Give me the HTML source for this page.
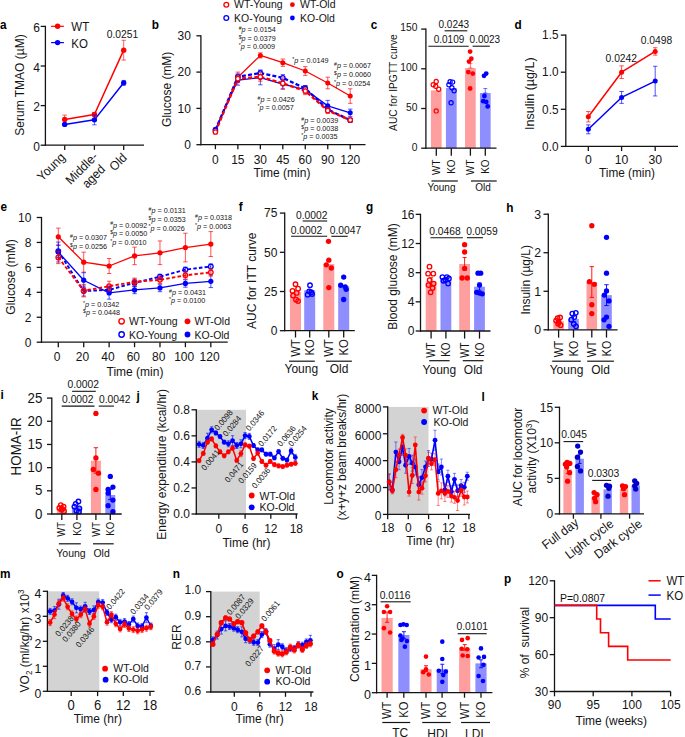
<!DOCTYPE html>
<html><head><meta charset="utf-8"><style>
html,body{margin:0;padding:0;background:#fff;width:685px;height:737px;overflow:hidden;position:relative}
svg text{font-family:"Liberation Sans", sans-serif}
</style></head><body>
<svg width="685" height="737" viewBox="0 0 685 737" style="display:block;position:absolute;left:0;top:0">
<g font-family='"Liberation Sans", sans-serif'>
<text transform="translate(0.00 28.80) scale(1.000 1.060)" font-size="11.8" text-anchor="start" fill="#000" font-weight="bold">a</text>
<line x1="45.40" y1="25.80" x2="45.40" y2="145.80" stroke="#141414" stroke-width="1.3"/>
<line x1="40.70" y1="145.20" x2="45.40" y2="145.20" stroke="#141414" stroke-width="1.3"/>
<text transform="translate(39.90 150.80) scale(1.000 1.060)" font-size="12" text-anchor="end" fill="#141414">0</text>
<line x1="40.70" y1="105.60" x2="45.40" y2="105.60" stroke="#141414" stroke-width="1.3"/>
<text transform="translate(39.90 111.20) scale(1.000 1.060)" font-size="12" text-anchor="end" fill="#141414">2</text>
<line x1="40.70" y1="66.00" x2="45.40" y2="66.00" stroke="#141414" stroke-width="1.3"/>
<text transform="translate(39.90 71.60) scale(1.000 1.060)" font-size="12" text-anchor="end" fill="#141414">4</text>
<line x1="40.70" y1="26.40" x2="45.40" y2="26.40" stroke="#141414" stroke-width="1.3"/>
<text transform="translate(39.90 32.00) scale(1.000 1.060)" font-size="12" text-anchor="end" fill="#141414">6</text>
<line x1="44.80" y1="145.20" x2="144.00" y2="145.20" stroke="#141414" stroke-width="1.3"/>
<line x1="64.70" y1="145.20" x2="64.70" y2="149.90" stroke="#141414" stroke-width="1.3"/>
<line x1="94.40" y1="145.20" x2="94.40" y2="149.90" stroke="#141414" stroke-width="1.3"/>
<line x1="123.70" y1="145.20" x2="123.70" y2="149.90" stroke="#141414" stroke-width="1.3"/>
<text transform="translate(23.50 85.00) rotate(-90) scale(1.000 1.060)" font-size="12" text-anchor="middle" fill="#141414">Serum TMAO (µM)</text>
<text transform="translate(66.00 158.00) rotate(-45) scale(1.000 1.060)" font-size="12" text-anchor="end" fill="#141414">Young</text>
<text transform="translate(98.50 157.50) rotate(-45) scale(1.000 1.060)" font-size="12" text-anchor="end" fill="#141414">Middle-</text>
<text transform="translate(106.00 170.00) rotate(-45) scale(1.000 1.060)" font-size="12" text-anchor="end" fill="#141414">aged</text>
<text transform="translate(127.80 158.50) rotate(-45) scale(1.000 1.060)" font-size="12" text-anchor="end" fill="#141414">Old</text>
<line x1="51.10" y1="26.30" x2="63.90" y2="26.30" stroke="#ff0000" stroke-width="1.2"/>
<circle cx="57.60" cy="26.30" r="2.7" fill="#ff0000"/>
<text transform="translate(71.30 31.00) scale(1.000 1.060)" font-size="11.5" text-anchor="start" fill="#141414">WT</text>
<line x1="51.10" y1="42.60" x2="63.90" y2="42.60" stroke="#0000ff" stroke-width="1.2"/>
<circle cx="57.60" cy="42.60" r="2.7" fill="#0000ff"/>
<text transform="translate(71.30 48.00) scale(1.000 1.060)" font-size="11.5" text-anchor="start" fill="#141414">KO</text>
<polyline points="64.70,119.46 94.40,114.51 123.70,50.16" fill="none" stroke="#ff0000" stroke-width="1.5" stroke-linejoin="round"/>
<polyline points="64.70,124.41 94.40,119.86 123.70,82.83" fill="none" stroke="#0000ff" stroke-width="1.5" stroke-linejoin="round"/>
<line x1="64.70" y1="123.82" x2="64.70" y2="115.10" stroke="#ff0000" stroke-width="0.9" stroke-opacity="0.7"/>
<line x1="62.50" y1="123.82" x2="66.90" y2="123.82" stroke="#ff0000" stroke-width="0.9" stroke-opacity="0.7"/>
<line x1="62.50" y1="115.10" x2="66.90" y2="115.10" stroke="#ff0000" stroke-width="0.9" stroke-opacity="0.7"/>
<circle cx="64.70" cy="119.46" r="2.7" fill="#ff0000"/>
<line x1="94.40" y1="116.49" x2="94.40" y2="112.53" stroke="#ff0000" stroke-width="0.9" stroke-opacity="0.7"/>
<line x1="92.20" y1="116.49" x2="96.60" y2="116.49" stroke="#ff0000" stroke-width="0.9" stroke-opacity="0.7"/>
<line x1="92.20" y1="112.53" x2="96.60" y2="112.53" stroke="#ff0000" stroke-width="0.9" stroke-opacity="0.7"/>
<circle cx="94.40" cy="114.51" r="2.7" fill="#ff0000"/>
<line x1="123.70" y1="60.06" x2="123.70" y2="40.26" stroke="#ff0000" stroke-width="0.9" stroke-opacity="0.7"/>
<line x1="121.50" y1="60.06" x2="125.90" y2="60.06" stroke="#ff0000" stroke-width="0.9" stroke-opacity="0.7"/>
<line x1="121.50" y1="40.26" x2="125.90" y2="40.26" stroke="#ff0000" stroke-width="0.9" stroke-opacity="0.7"/>
<circle cx="123.70" cy="50.16" r="2.7" fill="#ff0000"/>
<line x1="64.70" y1="125.40" x2="64.70" y2="123.42" stroke="#0000ff" stroke-width="0.9" stroke-opacity="0.7"/>
<line x1="62.50" y1="125.40" x2="66.90" y2="125.40" stroke="#0000ff" stroke-width="0.9" stroke-opacity="0.7"/>
<line x1="62.50" y1="123.42" x2="66.90" y2="123.42" stroke="#0000ff" stroke-width="0.9" stroke-opacity="0.7"/>
<circle cx="64.70" cy="124.41" r="2.7" fill="#0000ff"/>
<line x1="94.40" y1="124.81" x2="94.40" y2="114.91" stroke="#0000ff" stroke-width="0.9" stroke-opacity="0.7"/>
<line x1="92.20" y1="124.81" x2="96.60" y2="124.81" stroke="#0000ff" stroke-width="0.9" stroke-opacity="0.7"/>
<line x1="92.20" y1="114.91" x2="96.60" y2="114.91" stroke="#0000ff" stroke-width="0.9" stroke-opacity="0.7"/>
<circle cx="94.40" cy="119.86" r="2.7" fill="#0000ff"/>
<line x1="123.70" y1="85.21" x2="123.70" y2="80.45" stroke="#0000ff" stroke-width="0.9" stroke-opacity="0.7"/>
<line x1="121.50" y1="85.21" x2="125.90" y2="85.21" stroke="#0000ff" stroke-width="0.9" stroke-opacity="0.7"/>
<line x1="121.50" y1="80.45" x2="125.90" y2="80.45" stroke="#0000ff" stroke-width="0.9" stroke-opacity="0.7"/>
<circle cx="123.70" cy="82.83" r="2.7" fill="#0000ff"/>
<text transform="translate(122.50 37.70) scale(1.000 1.060)" font-size="10.3" text-anchor="middle" fill="#141414">0.0251</text>
<text transform="translate(151.70 28.50) scale(1.000 1.060)" font-size="11.8" text-anchor="start" fill="#000" font-weight="bold">b</text>
<line x1="200.90" y1="35.20" x2="200.90" y2="145.30" stroke="#141414" stroke-width="1.3"/>
<line x1="196.40" y1="144.70" x2="200.90" y2="144.70" stroke="#141414" stroke-width="1.3"/>
<text transform="translate(190.90 149.00) scale(1.000 1.060)" font-size="12" text-anchor="end" fill="#141414">0</text>
<line x1="196.40" y1="108.40" x2="200.90" y2="108.40" stroke="#141414" stroke-width="1.3"/>
<text transform="translate(190.90 112.70) scale(1.000 1.060)" font-size="12" text-anchor="end" fill="#141414">10</text>
<line x1="196.40" y1="72.10" x2="200.90" y2="72.10" stroke="#141414" stroke-width="1.3"/>
<text transform="translate(190.90 76.40) scale(1.000 1.060)" font-size="12" text-anchor="end" fill="#141414">20</text>
<line x1="196.40" y1="35.80" x2="200.90" y2="35.80" stroke="#141414" stroke-width="1.3"/>
<text transform="translate(190.90 40.10) scale(1.000 1.060)" font-size="12" text-anchor="end" fill="#141414">30</text>
<line x1="200.30" y1="144.70" x2="365.50" y2="144.70" stroke="#141414" stroke-width="1.3"/>
<line x1="215.40" y1="144.70" x2="215.40" y2="149.20" stroke="#141414" stroke-width="1.3"/>
<line x1="237.87" y1="144.70" x2="237.87" y2="149.20" stroke="#141414" stroke-width="1.3"/>
<line x1="260.34" y1="144.70" x2="260.34" y2="149.20" stroke="#141414" stroke-width="1.3"/>
<line x1="282.81" y1="144.70" x2="282.81" y2="149.20" stroke="#141414" stroke-width="1.3"/>
<line x1="305.28" y1="144.70" x2="305.28" y2="149.20" stroke="#141414" stroke-width="1.3"/>
<line x1="327.75" y1="144.70" x2="327.75" y2="149.20" stroke="#141414" stroke-width="1.3"/>
<line x1="350.22" y1="144.70" x2="350.22" y2="149.20" stroke="#141414" stroke-width="1.3"/>
<text transform="translate(215.40 163.50) scale(1.000 1.060)" font-size="12" text-anchor="middle" fill="#141414">0</text>
<text transform="translate(237.87 163.50) scale(1.000 1.060)" font-size="12" text-anchor="middle" fill="#141414">15</text>
<text transform="translate(260.34 163.50) scale(1.000 1.060)" font-size="12" text-anchor="middle" fill="#141414">30</text>
<text transform="translate(282.81 163.50) scale(1.000 1.060)" font-size="12" text-anchor="middle" fill="#141414">45</text>
<text transform="translate(305.28 163.50) scale(1.000 1.060)" font-size="12" text-anchor="middle" fill="#141414">60</text>
<text transform="translate(327.75 163.50) scale(1.000 1.060)" font-size="12" text-anchor="middle" fill="#141414">90</text>
<text transform="translate(350.22 163.50) scale(1.000 1.060)" font-size="12" text-anchor="middle" fill="#141414">120</text>
<text transform="translate(282.00 177.00) scale(1.000 1.060)" font-size="12" text-anchor="middle" fill="#141414">Time (min)</text>
<text transform="translate(171.00 89.30) rotate(-90) scale(1.000 1.060)" font-size="12" text-anchor="middle" fill="#141414">Glucose (mM)</text>
<circle cx="226.30" cy="4.70" r="2.4" fill="none" stroke="#ff0000" stroke-width="1.3"/>
<text transform="translate(234.00 8.00) scale(1.000 1.060)" font-size="10.5" text-anchor="start" fill="#141414">WT-Young</text>
<circle cx="226.30" cy="18.00" r="2.4" fill="none" stroke="#0000ff" stroke-width="1.3"/>
<text transform="translate(234.00 21.60) scale(1.000 1.060)" font-size="10.5" text-anchor="start" fill="#141414">KO-Young</text>
<circle cx="292.40" cy="4.70" r="2.4" fill="#ff0000"/>
<text transform="translate(300.00 8.00) scale(1.000 1.060)" font-size="10.5" text-anchor="start" fill="#141414">WT-Old</text>
<circle cx="292.40" cy="18.00" r="2.4" fill="#0000ff"/>
<text transform="translate(300.00 21.60) scale(1.000 1.060)" font-size="10.5" text-anchor="start" fill="#141414">KO-Old</text>
<polyline points="215.40,130.54 237.87,77.18 260.34,55.40 282.81,62.66 305.28,71.01 327.75,82.99 350.22,96.06" fill="none" stroke="#ff0000" stroke-width="1.3" stroke-linejoin="round"/>
<polyline points="215.40,129.45 237.87,80.09 260.34,77.54 282.81,84.08 305.28,89.52 327.75,105.86 350.22,112.76" fill="none" stroke="#0000ff" stroke-width="1.3" stroke-linejoin="round"/>
<polyline points="215.40,130.18 237.87,76.82 260.34,73.01 282.81,77.91 305.28,88.43 327.75,109.49 350.22,120.20" fill="none" stroke="#0000ff" stroke-width="2.3" stroke-dasharray="4,2.2" stroke-linejoin="round"/>
<polyline points="215.40,131.99 237.87,78.63 260.34,76.82 282.81,83.35 305.28,90.98 327.75,110.58 350.22,120.02" fill="none" stroke="#ff0000" stroke-width="2.3" stroke-dasharray="4,2.2" stroke-linejoin="round"/>
<line x1="215.40" y1="132.36" x2="215.40" y2="128.73" stroke="#ff0000" stroke-width="0.9" stroke-opacity="0.75"/>
<line x1="213.20" y1="132.36" x2="217.60" y2="132.36" stroke="#ff0000" stroke-width="0.9" stroke-opacity="0.75"/>
<line x1="213.20" y1="128.73" x2="217.60" y2="128.73" stroke="#ff0000" stroke-width="0.9" stroke-opacity="0.75"/>
<circle cx="215.40" cy="130.54" r="2.5" fill="#ff0000"/>
<line x1="237.87" y1="82.26" x2="237.87" y2="72.10" stroke="#ff0000" stroke-width="0.9" stroke-opacity="0.75"/>
<line x1="235.67" y1="82.26" x2="240.07" y2="82.26" stroke="#ff0000" stroke-width="0.9" stroke-opacity="0.75"/>
<line x1="235.67" y1="72.10" x2="240.07" y2="72.10" stroke="#ff0000" stroke-width="0.9" stroke-opacity="0.75"/>
<circle cx="237.87" cy="77.18" r="2.5" fill="#ff0000"/>
<line x1="260.34" y1="57.94" x2="260.34" y2="52.86" stroke="#ff0000" stroke-width="0.9" stroke-opacity="0.75"/>
<line x1="258.14" y1="57.94" x2="262.54" y2="57.94" stroke="#ff0000" stroke-width="0.9" stroke-opacity="0.75"/>
<line x1="258.14" y1="52.86" x2="262.54" y2="52.86" stroke="#ff0000" stroke-width="0.9" stroke-opacity="0.75"/>
<circle cx="260.34" cy="55.40" r="2.5" fill="#ff0000"/>
<line x1="282.81" y1="66.29" x2="282.81" y2="59.03" stroke="#ff0000" stroke-width="0.9" stroke-opacity="0.75"/>
<line x1="280.61" y1="66.29" x2="285.01" y2="66.29" stroke="#ff0000" stroke-width="0.9" stroke-opacity="0.75"/>
<line x1="280.61" y1="59.03" x2="285.01" y2="59.03" stroke="#ff0000" stroke-width="0.9" stroke-opacity="0.75"/>
<circle cx="282.81" cy="62.66" r="2.5" fill="#ff0000"/>
<line x1="305.28" y1="75.37" x2="305.28" y2="66.65" stroke="#ff0000" stroke-width="0.9" stroke-opacity="0.75"/>
<line x1="303.08" y1="75.37" x2="307.48" y2="75.37" stroke="#ff0000" stroke-width="0.9" stroke-opacity="0.75"/>
<line x1="303.08" y1="66.65" x2="307.48" y2="66.65" stroke="#ff0000" stroke-width="0.9" stroke-opacity="0.75"/>
<circle cx="305.28" cy="71.01" r="2.5" fill="#ff0000"/>
<line x1="327.75" y1="88.80" x2="327.75" y2="77.18" stroke="#ff0000" stroke-width="0.9" stroke-opacity="0.75"/>
<line x1="325.55" y1="88.80" x2="329.95" y2="88.80" stroke="#ff0000" stroke-width="0.9" stroke-opacity="0.75"/>
<line x1="325.55" y1="77.18" x2="329.95" y2="77.18" stroke="#ff0000" stroke-width="0.9" stroke-opacity="0.75"/>
<circle cx="327.75" cy="82.99" r="2.5" fill="#ff0000"/>
<line x1="350.22" y1="103.32" x2="350.22" y2="88.80" stroke="#ff0000" stroke-width="0.9" stroke-opacity="0.75"/>
<line x1="348.02" y1="103.32" x2="352.42" y2="103.32" stroke="#ff0000" stroke-width="0.9" stroke-opacity="0.75"/>
<line x1="348.02" y1="88.80" x2="352.42" y2="88.80" stroke="#ff0000" stroke-width="0.9" stroke-opacity="0.75"/>
<circle cx="350.22" cy="96.06" r="2.5" fill="#ff0000"/>
<line x1="215.40" y1="130.91" x2="215.40" y2="128.00" stroke="#0000ff" stroke-width="0.9" stroke-opacity="0.75"/>
<line x1="213.20" y1="130.91" x2="217.60" y2="130.91" stroke="#0000ff" stroke-width="0.9" stroke-opacity="0.75"/>
<line x1="213.20" y1="128.00" x2="217.60" y2="128.00" stroke="#0000ff" stroke-width="0.9" stroke-opacity="0.75"/>
<circle cx="215.40" cy="129.45" r="2.5" fill="#0000ff"/>
<line x1="237.87" y1="85.17" x2="237.87" y2="75.00" stroke="#0000ff" stroke-width="0.9" stroke-opacity="0.75"/>
<line x1="235.67" y1="85.17" x2="240.07" y2="85.17" stroke="#0000ff" stroke-width="0.9" stroke-opacity="0.75"/>
<line x1="235.67" y1="75.00" x2="240.07" y2="75.00" stroke="#0000ff" stroke-width="0.9" stroke-opacity="0.75"/>
<circle cx="237.87" cy="80.09" r="2.5" fill="#0000ff"/>
<line x1="260.34" y1="84.80" x2="260.34" y2="70.28" stroke="#0000ff" stroke-width="0.9" stroke-opacity="0.75"/>
<line x1="258.14" y1="84.80" x2="262.54" y2="84.80" stroke="#0000ff" stroke-width="0.9" stroke-opacity="0.75"/>
<line x1="258.14" y1="70.28" x2="262.54" y2="70.28" stroke="#0000ff" stroke-width="0.9" stroke-opacity="0.75"/>
<circle cx="260.34" cy="77.54" r="2.5" fill="#0000ff"/>
<line x1="282.81" y1="89.16" x2="282.81" y2="79.00" stroke="#0000ff" stroke-width="0.9" stroke-opacity="0.75"/>
<line x1="280.61" y1="89.16" x2="285.01" y2="89.16" stroke="#0000ff" stroke-width="0.9" stroke-opacity="0.75"/>
<line x1="280.61" y1="79.00" x2="285.01" y2="79.00" stroke="#0000ff" stroke-width="0.9" stroke-opacity="0.75"/>
<circle cx="282.81" cy="84.08" r="2.5" fill="#0000ff"/>
<line x1="305.28" y1="93.15" x2="305.28" y2="85.89" stroke="#0000ff" stroke-width="0.9" stroke-opacity="0.75"/>
<line x1="303.08" y1="93.15" x2="307.48" y2="93.15" stroke="#0000ff" stroke-width="0.9" stroke-opacity="0.75"/>
<line x1="303.08" y1="85.89" x2="307.48" y2="85.89" stroke="#0000ff" stroke-width="0.9" stroke-opacity="0.75"/>
<circle cx="305.28" cy="89.52" r="2.5" fill="#0000ff"/>
<line x1="327.75" y1="111.30" x2="327.75" y2="100.41" stroke="#0000ff" stroke-width="0.9" stroke-opacity="0.75"/>
<line x1="325.55" y1="111.30" x2="329.95" y2="111.30" stroke="#0000ff" stroke-width="0.9" stroke-opacity="0.75"/>
<line x1="325.55" y1="100.41" x2="329.95" y2="100.41" stroke="#0000ff" stroke-width="0.9" stroke-opacity="0.75"/>
<circle cx="327.75" cy="105.86" r="2.5" fill="#0000ff"/>
<line x1="350.22" y1="116.39" x2="350.22" y2="109.13" stroke="#0000ff" stroke-width="0.9" stroke-opacity="0.75"/>
<line x1="348.02" y1="116.39" x2="352.42" y2="116.39" stroke="#0000ff" stroke-width="0.9" stroke-opacity="0.75"/>
<line x1="348.02" y1="109.13" x2="352.42" y2="109.13" stroke="#0000ff" stroke-width="0.9" stroke-opacity="0.75"/>
<circle cx="350.22" cy="112.76" r="2.5" fill="#0000ff"/>
<line x1="215.40" y1="131.99" x2="215.40" y2="128.36" stroke="#0000ff" stroke-width="0.9" stroke-opacity="0.75"/>
<line x1="213.20" y1="131.99" x2="217.60" y2="131.99" stroke="#0000ff" stroke-width="0.9" stroke-opacity="0.75"/>
<line x1="213.20" y1="128.36" x2="217.60" y2="128.36" stroke="#0000ff" stroke-width="0.9" stroke-opacity="0.75"/>
<circle cx="215.40" cy="130.18" r="2.2" fill="#fff" stroke="#0000ff" stroke-width="1.3"/>
<line x1="237.87" y1="79.72" x2="237.87" y2="73.91" stroke="#0000ff" stroke-width="0.9" stroke-opacity="0.75"/>
<line x1="235.67" y1="79.72" x2="240.07" y2="79.72" stroke="#0000ff" stroke-width="0.9" stroke-opacity="0.75"/>
<line x1="235.67" y1="73.91" x2="240.07" y2="73.91" stroke="#0000ff" stroke-width="0.9" stroke-opacity="0.75"/>
<circle cx="237.87" cy="76.82" r="2.2" fill="#fff" stroke="#0000ff" stroke-width="1.3"/>
<line x1="260.34" y1="75.91" x2="260.34" y2="70.10" stroke="#0000ff" stroke-width="0.9" stroke-opacity="0.75"/>
<line x1="258.14" y1="75.91" x2="262.54" y2="75.91" stroke="#0000ff" stroke-width="0.9" stroke-opacity="0.75"/>
<line x1="258.14" y1="70.10" x2="262.54" y2="70.10" stroke="#0000ff" stroke-width="0.9" stroke-opacity="0.75"/>
<circle cx="260.34" cy="73.01" r="2.2" fill="#fff" stroke="#0000ff" stroke-width="1.3"/>
<line x1="282.81" y1="81.17" x2="282.81" y2="74.64" stroke="#0000ff" stroke-width="0.9" stroke-opacity="0.75"/>
<line x1="280.61" y1="81.17" x2="285.01" y2="81.17" stroke="#0000ff" stroke-width="0.9" stroke-opacity="0.75"/>
<line x1="280.61" y1="74.64" x2="285.01" y2="74.64" stroke="#0000ff" stroke-width="0.9" stroke-opacity="0.75"/>
<circle cx="282.81" cy="77.91" r="2.2" fill="#fff" stroke="#0000ff" stroke-width="1.3"/>
<line x1="305.28" y1="91.34" x2="305.28" y2="85.53" stroke="#0000ff" stroke-width="0.9" stroke-opacity="0.75"/>
<line x1="303.08" y1="91.34" x2="307.48" y2="91.34" stroke="#0000ff" stroke-width="0.9" stroke-opacity="0.75"/>
<line x1="303.08" y1="85.53" x2="307.48" y2="85.53" stroke="#0000ff" stroke-width="0.9" stroke-opacity="0.75"/>
<circle cx="305.28" cy="88.43" r="2.2" fill="#fff" stroke="#0000ff" stroke-width="1.3"/>
<line x1="327.75" y1="112.39" x2="327.75" y2="106.58" stroke="#0000ff" stroke-width="0.9" stroke-opacity="0.75"/>
<line x1="325.55" y1="112.39" x2="329.95" y2="112.39" stroke="#0000ff" stroke-width="0.9" stroke-opacity="0.75"/>
<line x1="325.55" y1="106.58" x2="329.95" y2="106.58" stroke="#0000ff" stroke-width="0.9" stroke-opacity="0.75"/>
<circle cx="327.75" cy="109.49" r="2.2" fill="#fff" stroke="#0000ff" stroke-width="1.3"/>
<line x1="350.22" y1="122.01" x2="350.22" y2="118.38" stroke="#0000ff" stroke-width="0.9" stroke-opacity="0.75"/>
<line x1="348.02" y1="122.01" x2="352.42" y2="122.01" stroke="#0000ff" stroke-width="0.9" stroke-opacity="0.75"/>
<line x1="348.02" y1="118.38" x2="352.42" y2="118.38" stroke="#0000ff" stroke-width="0.9" stroke-opacity="0.75"/>
<circle cx="350.22" cy="120.20" r="2.2" fill="#fff" stroke="#0000ff" stroke-width="1.3"/>
<line x1="215.40" y1="133.81" x2="215.40" y2="130.18" stroke="#ff0000" stroke-width="0.9" stroke-opacity="0.75"/>
<line x1="213.20" y1="133.81" x2="217.60" y2="133.81" stroke="#ff0000" stroke-width="0.9" stroke-opacity="0.75"/>
<line x1="213.20" y1="130.18" x2="217.60" y2="130.18" stroke="#ff0000" stroke-width="0.9" stroke-opacity="0.75"/>
<circle cx="215.40" cy="131.99" r="2.2" fill="#fff" stroke="#ff0000" stroke-width="1.3"/>
<line x1="237.87" y1="82.26" x2="237.87" y2="75.00" stroke="#ff0000" stroke-width="0.9" stroke-opacity="0.75"/>
<line x1="235.67" y1="82.26" x2="240.07" y2="82.26" stroke="#ff0000" stroke-width="0.9" stroke-opacity="0.75"/>
<line x1="235.67" y1="75.00" x2="240.07" y2="75.00" stroke="#ff0000" stroke-width="0.9" stroke-opacity="0.75"/>
<circle cx="237.87" cy="78.63" r="2.2" fill="#fff" stroke="#ff0000" stroke-width="1.3"/>
<line x1="260.34" y1="81.17" x2="260.34" y2="72.46" stroke="#ff0000" stroke-width="0.9" stroke-opacity="0.75"/>
<line x1="258.14" y1="81.17" x2="262.54" y2="81.17" stroke="#ff0000" stroke-width="0.9" stroke-opacity="0.75"/>
<line x1="258.14" y1="72.46" x2="262.54" y2="72.46" stroke="#ff0000" stroke-width="0.9" stroke-opacity="0.75"/>
<circle cx="260.34" cy="76.82" r="2.2" fill="#fff" stroke="#ff0000" stroke-width="1.3"/>
<line x1="282.81" y1="88.80" x2="282.81" y2="77.91" stroke="#ff0000" stroke-width="0.9" stroke-opacity="0.75"/>
<line x1="280.61" y1="88.80" x2="285.01" y2="88.80" stroke="#ff0000" stroke-width="0.9" stroke-opacity="0.75"/>
<line x1="280.61" y1="77.91" x2="285.01" y2="77.91" stroke="#ff0000" stroke-width="0.9" stroke-opacity="0.75"/>
<circle cx="282.81" cy="83.35" r="2.2" fill="#fff" stroke="#ff0000" stroke-width="1.3"/>
<line x1="305.28" y1="94.61" x2="305.28" y2="87.35" stroke="#ff0000" stroke-width="0.9" stroke-opacity="0.75"/>
<line x1="303.08" y1="94.61" x2="307.48" y2="94.61" stroke="#ff0000" stroke-width="0.9" stroke-opacity="0.75"/>
<line x1="303.08" y1="87.35" x2="307.48" y2="87.35" stroke="#ff0000" stroke-width="0.9" stroke-opacity="0.75"/>
<circle cx="305.28" cy="90.98" r="2.2" fill="#fff" stroke="#ff0000" stroke-width="1.3"/>
<line x1="327.75" y1="113.48" x2="327.75" y2="107.67" stroke="#ff0000" stroke-width="0.9" stroke-opacity="0.75"/>
<line x1="325.55" y1="113.48" x2="329.95" y2="113.48" stroke="#ff0000" stroke-width="0.9" stroke-opacity="0.75"/>
<line x1="325.55" y1="107.67" x2="329.95" y2="107.67" stroke="#ff0000" stroke-width="0.9" stroke-opacity="0.75"/>
<circle cx="327.75" cy="110.58" r="2.2" fill="#fff" stroke="#ff0000" stroke-width="1.3"/>
<line x1="350.22" y1="121.83" x2="350.22" y2="118.20" stroke="#ff0000" stroke-width="0.9" stroke-opacity="0.75"/>
<line x1="348.02" y1="121.83" x2="352.42" y2="121.83" stroke="#ff0000" stroke-width="0.9" stroke-opacity="0.75"/>
<line x1="348.02" y1="118.20" x2="352.42" y2="118.20" stroke="#ff0000" stroke-width="0.9" stroke-opacity="0.75"/>
<circle cx="350.22" cy="120.02" r="2.2" fill="#fff" stroke="#ff0000" stroke-width="1.3"/>
<text x="238.70" y="32.40" font-size="7.2" fill="#141414"><tspan font-size="5.18" dy="-2.2">#</tspan><tspan dy="2.2" font-style="italic">p</tspan> = 0.0154</text>
<text x="238.70" y="40.80" font-size="7.2" fill="#141414"><tspan font-size="5.18" dy="-2.2">$</tspan><tspan dy="2.2" font-style="italic">p</tspan> = 0.0379</text>
<text x="238.70" y="49.30" font-size="7.2" fill="#141414"><tspan font-size="5.18" dy="-2.2">*</tspan><tspan dy="2.2" font-style="italic">p</tspan> = 0.0009</text>
<text x="292.30" y="63.10" font-size="7.2" fill="#141414"><tspan font-size="5.18" dy="-2.2">*</tspan><tspan dy="2.2" font-style="italic">p</tspan> = 0.0149</text>
<text x="334.00" y="68.30" font-size="7.2" fill="#141414"><tspan font-size="5.18" dy="-2.2">#</tspan><tspan dy="2.2" font-style="italic">p</tspan> = 0.0067</text>
<text x="334.00" y="77.10" font-size="7.2" fill="#141414"><tspan font-size="5.18" dy="-2.2">$</tspan><tspan dy="2.2" font-style="italic">p</tspan> = 0.0060</text>
<text x="334.00" y="85.80" font-size="7.2" fill="#141414"><tspan font-size="5.18" dy="-2.2">*</tspan><tspan dy="2.2" font-style="italic">p</tspan> = 0.0254</text>
<text x="257.60" y="102.40" font-size="7.2" fill="#141414"><tspan font-size="5.18" dy="-2.2">#</tspan><tspan dy="2.2" font-style="italic">p</tspan> = 0.0426</text>
<text x="257.60" y="110.40" font-size="7.2" fill="#141414"><tspan font-size="5.18" dy="-2.2">*</tspan><tspan dy="2.2" font-style="italic">p</tspan> = 0.0057</text>
<text x="301.30" y="122.70" font-size="7.2" fill="#141414"><tspan font-size="5.18" dy="-2.2">#</tspan><tspan dy="2.2" font-style="italic">p</tspan> = 0.0039</text>
<text x="301.30" y="130.80" font-size="7.2" fill="#141414"><tspan font-size="5.18" dy="-2.2">$</tspan><tspan dy="2.2" font-style="italic">p</tspan> = 0.0038</text>
<text x="301.30" y="138.90" font-size="7.2" fill="#141414"><tspan font-size="5.18" dy="-2.2">*</tspan><tspan dy="2.2" font-style="italic">p</tspan> = 0.0035</text>
<text transform="translate(370.70 28.50) scale(1.000 1.060)" font-size="11.8" text-anchor="start" fill="#000" font-weight="bold">c</text>
<rect x="430.95" y="90.40" width="10.70" height="57.80" fill="#ff9e9e"/>
<rect x="445.95" y="88.01" width="10.70" height="60.19" fill="#8e8eff"/>
<rect x="465.05" y="68.01" width="10.70" height="80.19" fill="#ff9e9e"/>
<rect x="479.95" y="93.02" width="10.70" height="55.18" fill="#8e8eff"/>
<line x1="470.40" y1="68.01" x2="470.40" y2="63.64" stroke="#ff0000" stroke-width="0.9" stroke-opacity="0.6"/>
<line x1="468.40" y1="68.01" x2="472.40" y2="68.01" stroke="#ff0000" stroke-width="0.9" stroke-opacity="0.6"/>
<line x1="468.40" y1="63.64" x2="472.40" y2="63.64" stroke="#ff0000" stroke-width="0.9" stroke-opacity="0.6"/>
<line x1="485.30" y1="93.02" x2="485.30" y2="88.49" stroke="#0000ff" stroke-width="0.9" stroke-opacity="0.6"/>
<line x1="483.30" y1="93.02" x2="487.30" y2="93.02" stroke="#0000ff" stroke-width="0.9" stroke-opacity="0.6"/>
<line x1="483.30" y1="88.49" x2="487.30" y2="88.49" stroke="#0000ff" stroke-width="0.9" stroke-opacity="0.6"/>
<line x1="425.90" y1="28.50" x2="425.90" y2="148.80" stroke="#141414" stroke-width="1.3"/>
<line x1="421.20" y1="148.20" x2="425.90" y2="148.20" stroke="#141414" stroke-width="1.3"/>
<text transform="translate(417.40 150.50) scale(1.000 1.060)" font-size="10.3" text-anchor="end" fill="#141414">0</text>
<line x1="421.20" y1="108.50" x2="425.90" y2="108.50" stroke="#141414" stroke-width="1.3"/>
<text transform="translate(417.40 110.80) scale(1.000 1.060)" font-size="10.3" text-anchor="end" fill="#141414">50</text>
<line x1="421.20" y1="68.80" x2="425.90" y2="68.80" stroke="#141414" stroke-width="1.3"/>
<text transform="translate(417.40 71.10) scale(1.000 1.060)" font-size="10.3" text-anchor="end" fill="#141414">100</text>
<line x1="421.20" y1="29.10" x2="425.90" y2="29.10" stroke="#141414" stroke-width="1.3"/>
<text transform="translate(417.40 31.40) scale(1.000 1.060)" font-size="10.3" text-anchor="end" fill="#141414">150</text>
<line x1="425.30" y1="148.20" x2="496.50" y2="148.20" stroke="#141414" stroke-width="1.3"/>
<line x1="436.30" y1="148.20" x2="436.30" y2="155.70" stroke="#141414" stroke-width="1.3"/>
<line x1="451.30" y1="148.20" x2="451.30" y2="155.70" stroke="#141414" stroke-width="1.3"/>
<line x1="470.40" y1="148.20" x2="470.40" y2="155.70" stroke="#141414" stroke-width="1.3"/>
<line x1="485.30" y1="148.20" x2="485.30" y2="155.70" stroke="#141414" stroke-width="1.3"/>
<text transform="translate(440.26 159.50) rotate(-90) scale(0.900 1.000)" font-size="11" text-anchor="end" fill="#141414">WT</text>
<text transform="translate(455.26 159.50) rotate(-90) scale(0.900 1.000)" font-size="11" text-anchor="end" fill="#141414">KO</text>
<text transform="translate(474.36 159.50) rotate(-90) scale(0.900 1.000)" font-size="11" text-anchor="end" fill="#141414">WT</text>
<text transform="translate(489.26 159.50) rotate(-90) scale(0.900 1.000)" font-size="11" text-anchor="end" fill="#141414">KO</text>
<line x1="431.50" y1="181.00" x2="457.80" y2="181.00" stroke="#141414" stroke-width="1.2"/>
<line x1="471.00" y1="181.00" x2="496.70" y2="181.00" stroke="#141414" stroke-width="1.2"/>
<text transform="translate(441.50 190.70) scale(1.000 1.060)" font-size="10" text-anchor="middle" fill="#141414">Young</text>
<text transform="translate(483.00 190.70) scale(1.000 1.060)" font-size="10" text-anchor="middle" fill="#141414">Old</text>
<text transform="translate(396.50 82.60) rotate(-90) scale(1.000 1.060)" font-size="10.2" text-anchor="middle" fill="#141414">AUC for IPGTT curve</text>
<line x1="444.60" y1="30.80" x2="467.30" y2="30.80" stroke="#141414" stroke-width="1.1"/>
<text transform="translate(453.80 28.10) scale(1.000 1.060)" font-size="10" text-anchor="middle" fill="#141414">0.0243</text>
<line x1="428.40" y1="46.20" x2="468.70" y2="46.20" stroke="#141414" stroke-width="1.1"/>
<text transform="translate(449.00 43.20) scale(1.000 1.060)" font-size="10" text-anchor="middle" fill="#141414">0.0109</text>
<line x1="472.60" y1="46.20" x2="489.80" y2="46.20" stroke="#141414" stroke-width="1.1"/>
<text transform="translate(484.90 43.20) scale(1.000 1.060)" font-size="10" text-anchor="middle" fill="#141414">0.0023</text>
<circle cx="436.20" cy="81.50" r="2.1" fill="none" stroke="#ff0000" stroke-width="1.2"/>
<circle cx="433.20" cy="84.80" r="2.1" fill="none" stroke="#ff0000" stroke-width="1.2"/>
<circle cx="435.70" cy="86.30" r="2.1" fill="none" stroke="#ff0000" stroke-width="1.2"/>
<circle cx="438.70" cy="89.30" r="2.1" fill="none" stroke="#ff0000" stroke-width="1.2"/>
<circle cx="436.20" cy="110.90" r="2.1" fill="none" stroke="#ff0000" stroke-width="1.2"/>
<circle cx="450.10" cy="81.80" r="2.1" fill="none" stroke="#0000ff" stroke-width="1.2"/>
<circle cx="452.60" cy="82.10" r="2.1" fill="none" stroke="#0000ff" stroke-width="1.2"/>
<circle cx="448.90" cy="84.80" r="2.1" fill="none" stroke="#0000ff" stroke-width="1.2"/>
<circle cx="451.90" cy="87.80" r="2.1" fill="none" stroke="#0000ff" stroke-width="1.2"/>
<circle cx="454.10" cy="90.70" r="2.1" fill="none" stroke="#0000ff" stroke-width="1.2"/>
<circle cx="451.10" cy="102.70" r="2.1" fill="none" stroke="#0000ff" stroke-width="1.2"/>
<circle cx="470.10" cy="51.60" r="2.4" fill="#ff0000"/>
<circle cx="471.30" cy="58.70" r="2.4" fill="#ff0000"/>
<circle cx="469.00" cy="61.60" r="2.4" fill="#ff0000"/>
<circle cx="468.30" cy="72.10" r="2.4" fill="#ff0000"/>
<circle cx="472.80" cy="73.60" r="2.4" fill="#ff0000"/>
<circle cx="470.10" cy="88.50" r="2.4" fill="#ff0000"/>
<circle cx="486.20" cy="73.60" r="2.4" fill="#0000ff"/>
<circle cx="484.00" cy="75.80" r="2.4" fill="#0000ff"/>
<circle cx="484.40" cy="96.00" r="2.4" fill="#0000ff"/>
<circle cx="483.20" cy="101.20" r="2.4" fill="#0000ff"/>
<circle cx="486.20" cy="101.90" r="2.4" fill="#0000ff"/>
<circle cx="487.70" cy="106.40" r="2.4" fill="#0000ff"/>
<text transform="translate(514.50 28.50) scale(1.000 1.060)" font-size="11.8" text-anchor="start" fill="#000" font-weight="bold">d</text>
<line x1="565.80" y1="34.50" x2="565.80" y2="147.00" stroke="#141414" stroke-width="1.3"/>
<line x1="560.80" y1="146.40" x2="565.80" y2="146.40" stroke="#141414" stroke-width="1.3"/>
<text transform="translate(558.50 150.60) scale(1.000 1.060)" font-size="11.8" text-anchor="end" fill="#141414">0.0</text>
<line x1="560.80" y1="109.30" x2="565.80" y2="109.30" stroke="#141414" stroke-width="1.3"/>
<text transform="translate(558.50 113.50) scale(1.000 1.060)" font-size="11.8" text-anchor="end" fill="#141414">0.5</text>
<line x1="560.80" y1="72.20" x2="565.80" y2="72.20" stroke="#141414" stroke-width="1.3"/>
<text transform="translate(558.50 76.40) scale(1.000 1.060)" font-size="11.8" text-anchor="end" fill="#141414">1.0</text>
<line x1="560.80" y1="35.10" x2="565.80" y2="35.10" stroke="#141414" stroke-width="1.3"/>
<text transform="translate(558.50 39.30) scale(1.000 1.060)" font-size="11.8" text-anchor="end" fill="#141414">1.5</text>
<line x1="565.20" y1="146.40" x2="678.00" y2="146.40" stroke="#141414" stroke-width="1.3"/>
<line x1="588.30" y1="146.40" x2="588.30" y2="151.10" stroke="#141414" stroke-width="1.3"/>
<line x1="621.60" y1="146.40" x2="621.60" y2="151.10" stroke="#141414" stroke-width="1.3"/>
<line x1="655.20" y1="146.40" x2="655.20" y2="151.10" stroke="#141414" stroke-width="1.3"/>
<text transform="translate(588.30 164.00) scale(1.000 1.060)" font-size="12.2" text-anchor="middle" fill="#141414">0</text>
<text transform="translate(621.60 164.00) scale(1.000 1.060)" font-size="12.2" text-anchor="middle" fill="#141414">10</text>
<text transform="translate(655.20 164.00) scale(1.000 1.060)" font-size="12.2" text-anchor="middle" fill="#141414">30</text>
<text transform="translate(627.00 177.30) scale(1.000 1.060)" font-size="11.8" text-anchor="middle" fill="#141414">Time (min)</text>
<text transform="translate(533.80 93.70) rotate(-90) scale(1.000 1.060)" font-size="12.5" text-anchor="middle" fill="#141414">Insulin (µg/L)</text>
<polyline points="588.30,116.72 621.60,72.20 655.20,51.42" fill="none" stroke="#ff0000" stroke-width="1.5" stroke-linejoin="round"/>
<polyline points="588.30,129.33 621.60,97.43 655.20,81.10" fill="none" stroke="#0000ff" stroke-width="1.5" stroke-linejoin="round"/>
<line x1="588.30" y1="121.91" x2="588.30" y2="111.53" stroke="#ff0000" stroke-width="0.9" stroke-opacity="0.75"/>
<line x1="586.10" y1="121.91" x2="590.50" y2="121.91" stroke="#ff0000" stroke-width="0.9" stroke-opacity="0.75"/>
<line x1="586.10" y1="111.53" x2="590.50" y2="111.53" stroke="#ff0000" stroke-width="0.9" stroke-opacity="0.75"/>
<circle cx="588.30" cy="116.72" r="2.5" fill="#ff0000"/>
<line x1="621.60" y1="78.51" x2="621.60" y2="65.89" stroke="#ff0000" stroke-width="0.9" stroke-opacity="0.75"/>
<line x1="619.40" y1="78.51" x2="623.80" y2="78.51" stroke="#ff0000" stroke-width="0.9" stroke-opacity="0.75"/>
<line x1="619.40" y1="65.89" x2="623.80" y2="65.89" stroke="#ff0000" stroke-width="0.9" stroke-opacity="0.75"/>
<circle cx="621.60" cy="72.20" r="2.5" fill="#ff0000"/>
<line x1="655.20" y1="55.13" x2="655.20" y2="47.71" stroke="#ff0000" stroke-width="0.9" stroke-opacity="0.75"/>
<line x1="653.00" y1="55.13" x2="657.40" y2="55.13" stroke="#ff0000" stroke-width="0.9" stroke-opacity="0.75"/>
<line x1="653.00" y1="47.71" x2="657.40" y2="47.71" stroke="#ff0000" stroke-width="0.9" stroke-opacity="0.75"/>
<circle cx="655.20" cy="51.42" r="2.5" fill="#ff0000"/>
<line x1="588.30" y1="133.79" x2="588.30" y2="124.88" stroke="#0000ff" stroke-width="0.9" stroke-opacity="0.75"/>
<line x1="586.10" y1="133.79" x2="590.50" y2="133.79" stroke="#0000ff" stroke-width="0.9" stroke-opacity="0.75"/>
<line x1="586.10" y1="124.88" x2="590.50" y2="124.88" stroke="#0000ff" stroke-width="0.9" stroke-opacity="0.75"/>
<circle cx="588.30" cy="129.33" r="2.5" fill="#0000ff"/>
<line x1="621.60" y1="103.36" x2="621.60" y2="91.49" stroke="#0000ff" stroke-width="0.9" stroke-opacity="0.75"/>
<line x1="619.40" y1="103.36" x2="623.80" y2="103.36" stroke="#0000ff" stroke-width="0.9" stroke-opacity="0.75"/>
<line x1="619.40" y1="91.49" x2="623.80" y2="91.49" stroke="#0000ff" stroke-width="0.9" stroke-opacity="0.75"/>
<circle cx="621.60" cy="97.43" r="2.5" fill="#0000ff"/>
<line x1="655.20" y1="95.94" x2="655.20" y2="66.26" stroke="#0000ff" stroke-width="0.9" stroke-opacity="0.75"/>
<line x1="653.00" y1="95.94" x2="657.40" y2="95.94" stroke="#0000ff" stroke-width="0.9" stroke-opacity="0.75"/>
<line x1="653.00" y1="66.26" x2="657.40" y2="66.26" stroke="#0000ff" stroke-width="0.9" stroke-opacity="0.75"/>
<circle cx="655.20" cy="81.10" r="2.5" fill="#0000ff"/>
<text transform="translate(621.30 61.80) scale(1.000 1.060)" font-size="10.3" text-anchor="middle" fill="#141414">0.0242</text>
<text transform="translate(656.50 43.70) scale(1.000 1.060)" font-size="10.3" text-anchor="middle" fill="#141414">0.0498</text>
<text transform="translate(0.50 211.40) scale(1.000 1.060)" font-size="11.8" text-anchor="start" fill="#000" font-weight="bold">e</text>
<line x1="41.50" y1="216.90" x2="41.50" y2="342.80" stroke="#141414" stroke-width="1.3"/>
<line x1="36.70" y1="342.20" x2="41.50" y2="342.20" stroke="#141414" stroke-width="1.3"/>
<text transform="translate(31.40 346.60) scale(1.000 1.060)" font-size="12" text-anchor="end" fill="#141414">0</text>
<line x1="36.70" y1="317.26" x2="41.50" y2="317.26" stroke="#141414" stroke-width="1.3"/>
<text transform="translate(31.40 321.66) scale(1.000 1.060)" font-size="12" text-anchor="end" fill="#141414">2</text>
<line x1="36.70" y1="292.32" x2="41.50" y2="292.32" stroke="#141414" stroke-width="1.3"/>
<text transform="translate(31.40 296.72) scale(1.000 1.060)" font-size="12" text-anchor="end" fill="#141414">4</text>
<line x1="36.70" y1="267.38" x2="41.50" y2="267.38" stroke="#141414" stroke-width="1.3"/>
<text transform="translate(31.40 271.78) scale(1.000 1.060)" font-size="12" text-anchor="end" fill="#141414">6</text>
<line x1="36.70" y1="242.44" x2="41.50" y2="242.44" stroke="#141414" stroke-width="1.3"/>
<text transform="translate(31.40 246.84) scale(1.000 1.060)" font-size="12" text-anchor="end" fill="#141414">8</text>
<line x1="36.70" y1="217.50" x2="41.50" y2="217.50" stroke="#141414" stroke-width="1.3"/>
<text transform="translate(31.40 221.90) scale(1.000 1.060)" font-size="12" text-anchor="end" fill="#141414">10</text>
<line x1="40.90" y1="342.20" x2="227.70" y2="342.20" stroke="#141414" stroke-width="1.3"/>
<line x1="58.30" y1="342.20" x2="58.30" y2="347.20" stroke="#141414" stroke-width="1.3"/>
<line x1="83.72" y1="342.20" x2="83.72" y2="347.20" stroke="#141414" stroke-width="1.3"/>
<line x1="109.14" y1="342.20" x2="109.14" y2="347.20" stroke="#141414" stroke-width="1.3"/>
<line x1="134.56" y1="342.20" x2="134.56" y2="347.20" stroke="#141414" stroke-width="1.3"/>
<line x1="159.98" y1="342.20" x2="159.98" y2="347.20" stroke="#141414" stroke-width="1.3"/>
<line x1="185.40" y1="342.20" x2="185.40" y2="347.20" stroke="#141414" stroke-width="1.3"/>
<line x1="210.82" y1="342.20" x2="210.82" y2="347.20" stroke="#141414" stroke-width="1.3"/>
<text transform="translate(57.10 360.50) scale(1.000 1.060)" font-size="12" text-anchor="middle" fill="#141414">0</text>
<text transform="translate(82.52 360.50) scale(1.000 1.060)" font-size="12" text-anchor="middle" fill="#141414">20</text>
<text transform="translate(107.94 360.50) scale(1.000 1.060)" font-size="12" text-anchor="middle" fill="#141414">40</text>
<text transform="translate(133.36 360.50) scale(1.000 1.060)" font-size="12" text-anchor="middle" fill="#141414">60</text>
<text transform="translate(158.78 360.50) scale(1.000 1.060)" font-size="12" text-anchor="middle" fill="#141414">80</text>
<text transform="translate(184.20 360.50) scale(1.000 1.060)" font-size="12" text-anchor="middle" fill="#141414">100</text>
<text transform="translate(209.62 360.50) scale(1.000 1.060)" font-size="12" text-anchor="middle" fill="#141414">120</text>
<text transform="translate(135.00 376.00) scale(1.000 1.060)" font-size="12" text-anchor="middle" fill="#141414">Time (min)</text>
<text transform="translate(15.00 277.00) rotate(-90) scale(1.000 1.060)" font-size="12" text-anchor="middle" fill="#141414">Glucose (mM)</text>
<polyline points="58.30,236.83 83.72,262.14 109.14,266.01 134.56,255.91 159.98,252.79 185.40,247.55 210.82,244.06" fill="none" stroke="#ff0000" stroke-width="1.3" stroke-linejoin="round"/>
<polyline points="58.30,252.04 83.72,280.22 109.14,292.94 134.56,289.95 159.98,287.96 185.40,283.47 210.82,281.35" fill="none" stroke="#0000ff" stroke-width="1.3" stroke-linejoin="round"/>
<polyline points="58.30,251.17 83.72,291.07 109.14,289.83 134.56,282.84 159.98,276.73 185.40,269.62 210.82,266.51" fill="none" stroke="#0000ff" stroke-width="1.9" stroke-dasharray="3.5,2.2" stroke-linejoin="round"/>
<polyline points="58.30,257.40 83.72,290.70 109.14,286.21 134.56,281.85 159.98,279.85 185.40,275.36 210.82,272.37" fill="none" stroke="#ff0000" stroke-width="1.9" stroke-dasharray="3.5,2.2" stroke-linejoin="round"/>
<line x1="58.30" y1="245.56" x2="58.30" y2="228.10" stroke="#ff0000" stroke-width="0.9" stroke-opacity="0.75"/>
<line x1="56.10" y1="245.56" x2="60.50" y2="245.56" stroke="#ff0000" stroke-width="0.9" stroke-opacity="0.75"/>
<line x1="56.10" y1="228.10" x2="60.50" y2="228.10" stroke="#ff0000" stroke-width="0.9" stroke-opacity="0.75"/>
<circle cx="58.30" cy="236.83" r="2.6" fill="#ff0000"/>
<line x1="83.72" y1="272.12" x2="83.72" y2="252.17" stroke="#ff0000" stroke-width="0.9" stroke-opacity="0.75"/>
<line x1="81.52" y1="272.12" x2="85.92" y2="272.12" stroke="#ff0000" stroke-width="0.9" stroke-opacity="0.75"/>
<line x1="81.52" y1="252.17" x2="85.92" y2="252.17" stroke="#ff0000" stroke-width="0.9" stroke-opacity="0.75"/>
<circle cx="83.72" cy="262.14" r="2.6" fill="#ff0000"/>
<line x1="109.14" y1="273.49" x2="109.14" y2="258.53" stroke="#ff0000" stroke-width="0.9" stroke-opacity="0.75"/>
<line x1="106.94" y1="273.49" x2="111.34" y2="273.49" stroke="#ff0000" stroke-width="0.9" stroke-opacity="0.75"/>
<line x1="106.94" y1="258.53" x2="111.34" y2="258.53" stroke="#ff0000" stroke-width="0.9" stroke-opacity="0.75"/>
<circle cx="109.14" cy="266.01" r="2.6" fill="#ff0000"/>
<line x1="134.56" y1="264.64" x2="134.56" y2="247.18" stroke="#ff0000" stroke-width="0.9" stroke-opacity="0.75"/>
<line x1="132.36" y1="264.64" x2="136.76" y2="264.64" stroke="#ff0000" stroke-width="0.9" stroke-opacity="0.75"/>
<line x1="132.36" y1="247.18" x2="136.76" y2="247.18" stroke="#ff0000" stroke-width="0.9" stroke-opacity="0.75"/>
<circle cx="134.56" cy="255.91" r="2.6" fill="#ff0000"/>
<line x1="159.98" y1="264.64" x2="159.98" y2="240.94" stroke="#ff0000" stroke-width="0.9" stroke-opacity="0.75"/>
<line x1="157.78" y1="264.64" x2="162.18" y2="264.64" stroke="#ff0000" stroke-width="0.9" stroke-opacity="0.75"/>
<line x1="157.78" y1="240.94" x2="162.18" y2="240.94" stroke="#ff0000" stroke-width="0.9" stroke-opacity="0.75"/>
<circle cx="159.98" cy="252.79" r="2.6" fill="#ff0000"/>
<line x1="185.40" y1="261.89" x2="185.40" y2="233.21" stroke="#ff0000" stroke-width="0.9" stroke-opacity="0.75"/>
<line x1="183.20" y1="261.89" x2="187.60" y2="261.89" stroke="#ff0000" stroke-width="0.9" stroke-opacity="0.75"/>
<line x1="183.20" y1="233.21" x2="187.60" y2="233.21" stroke="#ff0000" stroke-width="0.9" stroke-opacity="0.75"/>
<circle cx="185.40" cy="247.55" r="2.6" fill="#ff0000"/>
<line x1="210.82" y1="256.53" x2="210.82" y2="231.59" stroke="#ff0000" stroke-width="0.9" stroke-opacity="0.75"/>
<line x1="208.62" y1="256.53" x2="213.02" y2="256.53" stroke="#ff0000" stroke-width="0.9" stroke-opacity="0.75"/>
<line x1="208.62" y1="231.59" x2="213.02" y2="231.59" stroke="#ff0000" stroke-width="0.9" stroke-opacity="0.75"/>
<circle cx="210.82" cy="244.06" r="2.6" fill="#ff0000"/>
<line x1="58.30" y1="262.02" x2="58.30" y2="242.07" stroke="#0000ff" stroke-width="0.9" stroke-opacity="0.75"/>
<line x1="56.10" y1="262.02" x2="60.50" y2="262.02" stroke="#0000ff" stroke-width="0.9" stroke-opacity="0.75"/>
<line x1="56.10" y1="242.07" x2="60.50" y2="242.07" stroke="#0000ff" stroke-width="0.9" stroke-opacity="0.75"/>
<circle cx="58.30" cy="252.04" r="2.6" fill="#0000ff"/>
<line x1="83.72" y1="287.71" x2="83.72" y2="272.74" stroke="#0000ff" stroke-width="0.9" stroke-opacity="0.75"/>
<line x1="81.52" y1="287.71" x2="85.92" y2="287.71" stroke="#0000ff" stroke-width="0.9" stroke-opacity="0.75"/>
<line x1="81.52" y1="272.74" x2="85.92" y2="272.74" stroke="#0000ff" stroke-width="0.9" stroke-opacity="0.75"/>
<circle cx="83.72" cy="280.22" r="2.6" fill="#0000ff"/>
<line x1="109.14" y1="299.18" x2="109.14" y2="286.71" stroke="#0000ff" stroke-width="0.9" stroke-opacity="0.75"/>
<line x1="106.94" y1="299.18" x2="111.34" y2="299.18" stroke="#0000ff" stroke-width="0.9" stroke-opacity="0.75"/>
<line x1="106.94" y1="286.71" x2="111.34" y2="286.71" stroke="#0000ff" stroke-width="0.9" stroke-opacity="0.75"/>
<circle cx="109.14" cy="292.94" r="2.6" fill="#0000ff"/>
<line x1="134.56" y1="293.69" x2="134.56" y2="286.21" stroke="#0000ff" stroke-width="0.9" stroke-opacity="0.75"/>
<line x1="132.36" y1="293.69" x2="136.76" y2="293.69" stroke="#0000ff" stroke-width="0.9" stroke-opacity="0.75"/>
<line x1="132.36" y1="286.21" x2="136.76" y2="286.21" stroke="#0000ff" stroke-width="0.9" stroke-opacity="0.75"/>
<circle cx="134.56" cy="289.95" r="2.6" fill="#0000ff"/>
<line x1="159.98" y1="291.70" x2="159.98" y2="284.21" stroke="#0000ff" stroke-width="0.9" stroke-opacity="0.75"/>
<line x1="157.78" y1="291.70" x2="162.18" y2="291.70" stroke="#0000ff" stroke-width="0.9" stroke-opacity="0.75"/>
<line x1="157.78" y1="284.21" x2="162.18" y2="284.21" stroke="#0000ff" stroke-width="0.9" stroke-opacity="0.75"/>
<circle cx="159.98" cy="287.96" r="2.6" fill="#0000ff"/>
<line x1="185.40" y1="287.21" x2="185.40" y2="279.73" stroke="#0000ff" stroke-width="0.9" stroke-opacity="0.75"/>
<line x1="183.20" y1="287.21" x2="187.60" y2="287.21" stroke="#0000ff" stroke-width="0.9" stroke-opacity="0.75"/>
<line x1="183.20" y1="279.73" x2="187.60" y2="279.73" stroke="#0000ff" stroke-width="0.9" stroke-opacity="0.75"/>
<circle cx="185.40" cy="283.47" r="2.6" fill="#0000ff"/>
<line x1="210.82" y1="287.58" x2="210.82" y2="275.11" stroke="#0000ff" stroke-width="0.9" stroke-opacity="0.75"/>
<line x1="208.62" y1="287.58" x2="213.02" y2="287.58" stroke="#0000ff" stroke-width="0.9" stroke-opacity="0.75"/>
<line x1="208.62" y1="275.11" x2="213.02" y2="275.11" stroke="#0000ff" stroke-width="0.9" stroke-opacity="0.75"/>
<circle cx="210.82" cy="281.35" r="2.6" fill="#0000ff"/>
<line x1="58.30" y1="257.40" x2="58.30" y2="244.93" stroke="#0000ff" stroke-width="0.9" stroke-opacity="0.75"/>
<line x1="56.10" y1="257.40" x2="60.50" y2="257.40" stroke="#0000ff" stroke-width="0.9" stroke-opacity="0.75"/>
<line x1="56.10" y1="244.93" x2="60.50" y2="244.93" stroke="#0000ff" stroke-width="0.9" stroke-opacity="0.75"/>
<circle cx="58.30" cy="251.17" r="2.3" fill="none" stroke="#0000ff" stroke-width="1.3"/>
<line x1="83.72" y1="296.06" x2="83.72" y2="286.08" stroke="#0000ff" stroke-width="0.9" stroke-opacity="0.75"/>
<line x1="81.52" y1="296.06" x2="85.92" y2="296.06" stroke="#0000ff" stroke-width="0.9" stroke-opacity="0.75"/>
<line x1="81.52" y1="286.08" x2="85.92" y2="286.08" stroke="#0000ff" stroke-width="0.9" stroke-opacity="0.75"/>
<circle cx="83.72" cy="291.07" r="2.3" fill="none" stroke="#0000ff" stroke-width="1.3"/>
<line x1="109.14" y1="293.57" x2="109.14" y2="286.08" stroke="#0000ff" stroke-width="0.9" stroke-opacity="0.75"/>
<line x1="106.94" y1="293.57" x2="111.34" y2="293.57" stroke="#0000ff" stroke-width="0.9" stroke-opacity="0.75"/>
<line x1="106.94" y1="286.08" x2="111.34" y2="286.08" stroke="#0000ff" stroke-width="0.9" stroke-opacity="0.75"/>
<circle cx="109.14" cy="289.83" r="2.3" fill="none" stroke="#0000ff" stroke-width="1.3"/>
<line x1="134.56" y1="286.58" x2="134.56" y2="279.10" stroke="#0000ff" stroke-width="0.9" stroke-opacity="0.75"/>
<line x1="132.36" y1="286.58" x2="136.76" y2="286.58" stroke="#0000ff" stroke-width="0.9" stroke-opacity="0.75"/>
<line x1="132.36" y1="279.10" x2="136.76" y2="279.10" stroke="#0000ff" stroke-width="0.9" stroke-opacity="0.75"/>
<circle cx="134.56" cy="282.84" r="2.3" fill="none" stroke="#0000ff" stroke-width="1.3"/>
<line x1="159.98" y1="279.23" x2="159.98" y2="274.24" stroke="#0000ff" stroke-width="0.9" stroke-opacity="0.75"/>
<line x1="157.78" y1="279.23" x2="162.18" y2="279.23" stroke="#0000ff" stroke-width="0.9" stroke-opacity="0.75"/>
<line x1="157.78" y1="274.24" x2="162.18" y2="274.24" stroke="#0000ff" stroke-width="0.9" stroke-opacity="0.75"/>
<circle cx="159.98" cy="276.73" r="2.3" fill="none" stroke="#0000ff" stroke-width="1.3"/>
<line x1="185.40" y1="272.12" x2="185.40" y2="267.13" stroke="#0000ff" stroke-width="0.9" stroke-opacity="0.75"/>
<line x1="183.20" y1="272.12" x2="187.60" y2="272.12" stroke="#0000ff" stroke-width="0.9" stroke-opacity="0.75"/>
<line x1="183.20" y1="267.13" x2="187.60" y2="267.13" stroke="#0000ff" stroke-width="0.9" stroke-opacity="0.75"/>
<circle cx="185.40" cy="269.62" r="2.3" fill="none" stroke="#0000ff" stroke-width="1.3"/>
<line x1="210.82" y1="269.00" x2="210.82" y2="264.01" stroke="#0000ff" stroke-width="0.9" stroke-opacity="0.75"/>
<line x1="208.62" y1="269.00" x2="213.02" y2="269.00" stroke="#0000ff" stroke-width="0.9" stroke-opacity="0.75"/>
<line x1="208.62" y1="264.01" x2="213.02" y2="264.01" stroke="#0000ff" stroke-width="0.9" stroke-opacity="0.75"/>
<circle cx="210.82" cy="266.51" r="2.3" fill="none" stroke="#0000ff" stroke-width="1.3"/>
<line x1="58.30" y1="263.64" x2="58.30" y2="251.17" stroke="#ff0000" stroke-width="0.9" stroke-opacity="0.75"/>
<line x1="56.10" y1="263.64" x2="60.50" y2="263.64" stroke="#ff0000" stroke-width="0.9" stroke-opacity="0.75"/>
<line x1="56.10" y1="251.17" x2="60.50" y2="251.17" stroke="#ff0000" stroke-width="0.9" stroke-opacity="0.75"/>
<circle cx="58.30" cy="257.40" r="2.3" fill="none" stroke="#ff0000" stroke-width="1.3"/>
<line x1="83.72" y1="296.93" x2="83.72" y2="284.46" stroke="#ff0000" stroke-width="0.9" stroke-opacity="0.75"/>
<line x1="81.52" y1="296.93" x2="85.92" y2="296.93" stroke="#ff0000" stroke-width="0.9" stroke-opacity="0.75"/>
<line x1="81.52" y1="284.46" x2="85.92" y2="284.46" stroke="#ff0000" stroke-width="0.9" stroke-opacity="0.75"/>
<circle cx="83.72" cy="290.70" r="2.3" fill="none" stroke="#ff0000" stroke-width="1.3"/>
<line x1="109.14" y1="291.20" x2="109.14" y2="281.22" stroke="#ff0000" stroke-width="0.9" stroke-opacity="0.75"/>
<line x1="106.94" y1="291.20" x2="111.34" y2="291.20" stroke="#ff0000" stroke-width="0.9" stroke-opacity="0.75"/>
<line x1="106.94" y1="281.22" x2="111.34" y2="281.22" stroke="#ff0000" stroke-width="0.9" stroke-opacity="0.75"/>
<circle cx="109.14" cy="286.21" r="2.3" fill="none" stroke="#ff0000" stroke-width="1.3"/>
<line x1="134.56" y1="285.59" x2="134.56" y2="278.10" stroke="#ff0000" stroke-width="0.9" stroke-opacity="0.75"/>
<line x1="132.36" y1="285.59" x2="136.76" y2="285.59" stroke="#ff0000" stroke-width="0.9" stroke-opacity="0.75"/>
<line x1="132.36" y1="278.10" x2="136.76" y2="278.10" stroke="#ff0000" stroke-width="0.9" stroke-opacity="0.75"/>
<circle cx="134.56" cy="281.85" r="2.3" fill="none" stroke="#ff0000" stroke-width="1.3"/>
<line x1="159.98" y1="283.59" x2="159.98" y2="276.11" stroke="#ff0000" stroke-width="0.9" stroke-opacity="0.75"/>
<line x1="157.78" y1="283.59" x2="162.18" y2="283.59" stroke="#ff0000" stroke-width="0.9" stroke-opacity="0.75"/>
<line x1="157.78" y1="276.11" x2="162.18" y2="276.11" stroke="#ff0000" stroke-width="0.9" stroke-opacity="0.75"/>
<circle cx="159.98" cy="279.85" r="2.3" fill="none" stroke="#ff0000" stroke-width="1.3"/>
<line x1="185.40" y1="279.10" x2="185.40" y2="271.62" stroke="#ff0000" stroke-width="0.9" stroke-opacity="0.75"/>
<line x1="183.20" y1="279.10" x2="187.60" y2="279.10" stroke="#ff0000" stroke-width="0.9" stroke-opacity="0.75"/>
<line x1="183.20" y1="271.62" x2="187.60" y2="271.62" stroke="#ff0000" stroke-width="0.9" stroke-opacity="0.75"/>
<circle cx="185.40" cy="275.36" r="2.3" fill="none" stroke="#ff0000" stroke-width="1.3"/>
<line x1="210.82" y1="276.11" x2="210.82" y2="268.63" stroke="#ff0000" stroke-width="0.9" stroke-opacity="0.75"/>
<line x1="208.62" y1="276.11" x2="213.02" y2="276.11" stroke="#ff0000" stroke-width="0.9" stroke-opacity="0.75"/>
<line x1="208.62" y1="268.63" x2="213.02" y2="268.63" stroke="#ff0000" stroke-width="0.9" stroke-opacity="0.75"/>
<circle cx="210.82" cy="272.37" r="2.3" fill="none" stroke="#ff0000" stroke-width="1.3"/>
<text x="70.00" y="240.20" font-size="7.2" fill="#141414"><tspan font-size="5.18" dy="-2.2">#</tspan><tspan dy="2.2" font-style="italic">p</tspan> = 0.0307</text>
<text x="70.00" y="249.00" font-size="7.2" fill="#141414"><tspan font-size="5.18" dy="-2.2">$</tspan><tspan dy="2.2" font-style="italic">p</tspan> = 0.0256</text>
<text x="110.20" y="227.50" font-size="7.2" fill="#141414"><tspan font-size="5.18" dy="-2.2">#</tspan><tspan dy="2.2" font-style="italic">p</tspan> = 0.0092</text>
<text x="110.20" y="236.10" font-size="7.2" fill="#141414"><tspan font-size="5.18" dy="-2.2">$</tspan><tspan dy="2.2" font-style="italic">p</tspan> = 0.0050</text>
<text x="110.20" y="244.80" font-size="7.2" fill="#141414"><tspan font-size="5.18" dy="-2.2">*</tspan><tspan dy="2.2" font-style="italic">p</tspan> = 0.0010</text>
<text x="148.60" y="213.20" font-size="7.2" fill="#141414"><tspan font-size="5.18" dy="-2.2">#</tspan><tspan dy="2.2" font-style="italic">p</tspan> = 0.0131</text>
<text x="148.60" y="221.80" font-size="7.2" fill="#141414"><tspan font-size="5.18" dy="-2.2">$</tspan><tspan dy="2.2" font-style="italic">p</tspan> = 0.0353</text>
<text x="148.60" y="230.50" font-size="7.2" fill="#141414"><tspan font-size="5.18" dy="-2.2">*</tspan><tspan dy="2.2" font-style="italic">p</tspan> = 0.0026</text>
<text x="195.00" y="219.70" font-size="7.2" fill="#141414"><tspan font-size="5.18" dy="-2.2">#</tspan><tspan dy="2.2" font-style="italic">p</tspan> = 0.0318</text>
<text x="195.00" y="228.90" font-size="7.2" fill="#141414"><tspan font-size="5.18" dy="-2.2">*</tspan><tspan dy="2.2" font-style="italic">p</tspan> = 0.0063</text>
<text x="169.00" y="294.80" font-size="7.2" fill="#141414"><tspan font-size="5.18" dy="-2.2">#</tspan><tspan dy="2.2" font-style="italic">p</tspan> = 0.0431</text>
<text x="169.00" y="303.30" font-size="7.2" fill="#141414"><tspan font-size="5.18" dy="-2.2">*</tspan><tspan dy="2.2" font-style="italic">p</tspan> = 0.0100</text>
<text x="83.00" y="307.40" font-size="7.2" fill="#141414"><tspan font-size="5.18" dy="-2.2">*</tspan><tspan dy="2.2" font-style="italic">p</tspan> = 0.0342</text>
<text x="83.00" y="314.80" font-size="7.2" fill="#141414"><tspan font-size="5.18" dy="-2.2">$</tspan><tspan dy="2.2" font-style="italic">p</tspan> = 0.0448</text>
<circle cx="121.60" cy="321.30" r="2.7" fill="none" stroke="#ff0000" stroke-width="1.4"/>
<text transform="translate(129.00 325.30) scale(1.000 1.060)" font-size="10.5" text-anchor="start" fill="#141414">WT-Young</text>
<circle cx="121.60" cy="334.50" r="2.7" fill="none" stroke="#0000ff" stroke-width="1.4"/>
<text transform="translate(129.00 338.50) scale(1.000 1.060)" font-size="10.5" text-anchor="start" fill="#141414">KO-Young</text>
<circle cx="187.50" cy="321.30" r="2.9" fill="#ff0000"/>
<text transform="translate(194.50 325.30) scale(1.000 1.060)" font-size="10.5" text-anchor="start" fill="#141414">WT-Old</text>
<circle cx="187.50" cy="334.50" r="2.9" fill="#0000ff"/>
<text transform="translate(194.50 338.50) scale(1.000 1.060)" font-size="10.5" text-anchor="start" fill="#141414">KO-Old</text>
<text transform="translate(238.80 211.00) scale(1.000 1.060)" font-size="11.8" text-anchor="start" fill="#000" font-weight="bold">f</text>
<line x1="284.70" y1="212.50" x2="284.70" y2="331.30" stroke="#141414" stroke-width="1.3"/>
<line x1="279.90" y1="330.70" x2="284.70" y2="330.70" stroke="#141414" stroke-width="1.3"/>
<text transform="translate(277.30 335.00) scale(1.000 1.060)" font-size="12" text-anchor="end" fill="#141414">0</text>
<line x1="279.90" y1="291.50" x2="284.70" y2="291.50" stroke="#141414" stroke-width="1.3"/>
<text transform="translate(277.30 295.80) scale(1.000 1.060)" font-size="12" text-anchor="end" fill="#141414">25</text>
<line x1="279.90" y1="252.30" x2="284.70" y2="252.30" stroke="#141414" stroke-width="1.3"/>
<text transform="translate(277.30 256.60) scale(1.000 1.060)" font-size="12" text-anchor="end" fill="#141414">50</text>
<line x1="279.90" y1="213.10" x2="284.70" y2="213.10" stroke="#141414" stroke-width="1.3"/>
<text transform="translate(277.30 217.40) scale(1.000 1.060)" font-size="12" text-anchor="end" fill="#141414">75</text>
<rect x="290.00" y="291.97" width="11.00" height="38.73" fill="#ff9e9e"/>
<rect x="304.20" y="290.25" width="11.00" height="40.45" fill="#8e8eff"/>
<rect x="323.30" y="264.06" width="11.00" height="66.64" fill="#ff9e9e"/>
<rect x="338.20" y="286.17" width="11.00" height="44.53" fill="#8e8eff"/>
<circle cx="295.50" cy="284.29" r="2.25" fill="none" stroke="#ff0000" stroke-width="1.35"/>
<circle cx="298.10" cy="288.68" r="2.25" fill="none" stroke="#ff0000" stroke-width="1.35"/>
<circle cx="292.50" cy="290.87" r="2.25" fill="none" stroke="#ff0000" stroke-width="1.35"/>
<circle cx="296.70" cy="292.91" r="2.25" fill="none" stroke="#ff0000" stroke-width="1.35"/>
<circle cx="293.10" cy="295.58" r="2.25" fill="none" stroke="#ff0000" stroke-width="1.35"/>
<circle cx="296.00" cy="299.65" r="2.25" fill="none" stroke="#ff0000" stroke-width="1.35"/>
<circle cx="298.10" cy="301.06" r="2.25" fill="none" stroke="#ff0000" stroke-width="1.35"/>
<circle cx="310.00" cy="285.23" r="2.25" fill="none" stroke="#0000ff" stroke-width="1.35"/>
<circle cx="309.20" cy="291.34" r="2.25" fill="none" stroke="#0000ff" stroke-width="1.35"/>
<circle cx="312.10" cy="294.01" r="2.25" fill="none" stroke="#0000ff" stroke-width="1.35"/>
<circle cx="311.20" cy="292.28" r="2.25" fill="none" stroke="#0000ff" stroke-width="1.35"/>
<circle cx="307.70" cy="294.64" r="2.25" fill="none" stroke="#0000ff" stroke-width="1.35"/>
<circle cx="328.50" cy="241.32" r="2.65" fill="#ff0000"/>
<circle cx="328.80" cy="260.14" r="2.65" fill="#ff0000"/>
<circle cx="326.30" cy="264.84" r="2.65" fill="#ff0000"/>
<circle cx="331.30" cy="267.98" r="2.65" fill="#ff0000"/>
<circle cx="328.80" cy="287.58" r="2.65" fill="#ff0000"/>
<circle cx="343.70" cy="277.07" r="2.65" fill="#0000ff"/>
<circle cx="340.70" cy="285.23" r="2.65" fill="#0000ff"/>
<circle cx="346.20" cy="289.30" r="2.65" fill="#0000ff"/>
<circle cx="343.70" cy="299.50" r="2.65" fill="#0000ff"/>
<circle cx="345.20" cy="286.80" r="2.65" fill="#0000ff"/>
<line x1="284.10" y1="330.70" x2="354.80" y2="330.70" stroke="#141414" stroke-width="1.3"/>
<line x1="295.50" y1="330.70" x2="295.50" y2="337.50" stroke="#141414" stroke-width="1.3"/>
<line x1="309.70" y1="330.70" x2="309.70" y2="337.50" stroke="#141414" stroke-width="1.3"/>
<line x1="328.80" y1="330.70" x2="328.80" y2="337.50" stroke="#141414" stroke-width="1.3"/>
<line x1="343.70" y1="330.70" x2="343.70" y2="337.50" stroke="#141414" stroke-width="1.3"/>
<text transform="translate(299.82 339.30) rotate(-90) scale(0.940 1.000)" font-size="12" text-anchor="end" fill="#141414">WT</text>
<text transform="translate(314.02 339.30) rotate(-90) scale(0.940 1.000)" font-size="12" text-anchor="end" fill="#141414">KO</text>
<text transform="translate(333.12 339.30) rotate(-90) scale(0.940 1.000)" font-size="12" text-anchor="end" fill="#141414">WT</text>
<text transform="translate(348.02 339.30) rotate(-90) scale(0.940 1.000)" font-size="12" text-anchor="end" fill="#141414">KO</text>
<line x1="289.00" y1="361.20" x2="314.80" y2="361.20" stroke="#141414" stroke-width="1.2"/>
<line x1="326.00" y1="361.20" x2="351.90" y2="361.20" stroke="#141414" stroke-width="1.2"/>
<text transform="translate(301.30 372.60) scale(1.000 1.060)" font-size="12" text-anchor="middle" fill="#141414">Young</text>
<text transform="translate(339.00 372.60) scale(1.000 1.060)" font-size="12" text-anchor="middle" fill="#141414">Old</text>
<text transform="translate(255.50 280.70) rotate(-90) scale(1.000 1.060)" font-size="12" text-anchor="middle" fill="#141414">AUC for ITT curve</text>
<line x1="302.70" y1="221.00" x2="327.20" y2="221.00" stroke="#141414" stroke-width="1.1"/>
<text transform="translate(311.70 219.10) scale(1.000 1.060)" font-size="10.3" text-anchor="middle" fill="#141414">0.0002</text>
<line x1="291.00" y1="236.30" x2="327.20" y2="236.30" stroke="#141414" stroke-width="1.1"/>
<text transform="translate(306.50 234.00) scale(1.000 1.060)" font-size="10.3" text-anchor="middle" fill="#141414">0.0002</text>
<line x1="331.30" y1="236.30" x2="347.70" y2="236.30" stroke="#141414" stroke-width="1.1"/>
<text transform="translate(345.50 234.00) scale(1.000 1.060)" font-size="10.3" text-anchor="middle" fill="#141414">0.0047</text>
<text transform="translate(366.00 211.00) scale(1.000 1.060)" font-size="11.8" text-anchor="start" fill="#000" font-weight="bold">g</text>
<line x1="420.50" y1="213.76" x2="420.50" y2="331.60" stroke="#141414" stroke-width="1.3"/>
<line x1="415.70" y1="331.00" x2="420.50" y2="331.00" stroke="#141414" stroke-width="1.3"/>
<text transform="translate(414.50 335.30) scale(1.000 1.060)" font-size="12" text-anchor="end" fill="#141414">0</text>
<line x1="415.70" y1="301.84" x2="420.50" y2="301.84" stroke="#141414" stroke-width="1.3"/>
<text transform="translate(414.50 306.14) scale(1.000 1.060)" font-size="12" text-anchor="end" fill="#141414">4</text>
<line x1="415.70" y1="272.68" x2="420.50" y2="272.68" stroke="#141414" stroke-width="1.3"/>
<text transform="translate(414.50 276.98) scale(1.000 1.060)" font-size="12" text-anchor="end" fill="#141414">8</text>
<line x1="415.70" y1="243.52" x2="420.50" y2="243.52" stroke="#141414" stroke-width="1.3"/>
<text transform="translate(414.50 247.82) scale(1.000 1.060)" font-size="12" text-anchor="end" fill="#141414">12</text>
<line x1="415.70" y1="214.36" x2="420.50" y2="214.36" stroke="#141414" stroke-width="1.3"/>
<text transform="translate(414.50 218.66) scale(1.000 1.060)" font-size="12" text-anchor="end" fill="#141414">16</text>
<rect x="425.70" y="281.43" width="10.80" height="49.57" fill="#ff9e9e"/>
<rect x="440.50" y="279.68" width="10.80" height="51.32" fill="#8e8eff"/>
<rect x="459.20" y="264.00" width="10.80" height="67.00" fill="#ff9e9e"/>
<rect x="474.10" y="286.68" width="10.80" height="44.32" fill="#8e8eff"/>
<line x1="431.10" y1="285.07" x2="431.10" y2="277.78" stroke="#ff0000" stroke-width="0.9"/>
<line x1="429.10" y1="285.07" x2="433.10" y2="285.07" stroke="#ff0000" stroke-width="0.9"/>
<line x1="429.10" y1="277.78" x2="433.10" y2="277.78" stroke="#ff0000" stroke-width="0.9"/>
<line x1="445.90" y1="281.43" x2="445.90" y2="277.78" stroke="#0000ff" stroke-width="0.9"/>
<line x1="443.90" y1="281.43" x2="447.90" y2="281.43" stroke="#0000ff" stroke-width="0.9"/>
<line x1="443.90" y1="277.78" x2="447.90" y2="277.78" stroke="#0000ff" stroke-width="0.9"/>
<line x1="464.60" y1="270.49" x2="464.60" y2="257.52" stroke="#ff0000" stroke-width="0.9"/>
<line x1="462.60" y1="270.49" x2="466.60" y2="270.49" stroke="#ff0000" stroke-width="0.9"/>
<line x1="462.60" y1="257.52" x2="466.60" y2="257.52" stroke="#ff0000" stroke-width="0.9"/>
<line x1="479.50" y1="290.18" x2="479.50" y2="282.89" stroke="#0000ff" stroke-width="0.9"/>
<line x1="477.50" y1="290.18" x2="481.50" y2="290.18" stroke="#0000ff" stroke-width="0.9"/>
<line x1="477.50" y1="282.89" x2="481.50" y2="282.89" stroke="#0000ff" stroke-width="0.9"/>
<circle cx="429.50" cy="266.63" r="2.25" fill="none" stroke="#ff0000" stroke-width="1.35"/>
<circle cx="428.10" cy="273.63" r="2.25" fill="none" stroke="#ff0000" stroke-width="1.35"/>
<circle cx="433.30" cy="273.63" r="2.25" fill="none" stroke="#ff0000" stroke-width="1.35"/>
<circle cx="429.70" cy="280.12" r="2.25" fill="none" stroke="#ff0000" stroke-width="1.35"/>
<circle cx="428.50" cy="285.07" r="2.25" fill="none" stroke="#ff0000" stroke-width="1.35"/>
<circle cx="432.60" cy="287.99" r="2.25" fill="none" stroke="#ff0000" stroke-width="1.35"/>
<circle cx="430.60" cy="292.36" r="2.25" fill="none" stroke="#ff0000" stroke-width="1.35"/>
<circle cx="433.60" cy="283.62" r="2.25" fill="none" stroke="#ff0000" stroke-width="1.35"/>
<circle cx="442.40" cy="277.05" r="2.25" fill="none" stroke="#0000ff" stroke-width="1.35"/>
<circle cx="446.90" cy="277.05" r="2.25" fill="none" stroke="#0000ff" stroke-width="1.35"/>
<circle cx="445.40" cy="279.97" r="2.25" fill="none" stroke="#0000ff" stroke-width="1.35"/>
<circle cx="448.10" cy="283.62" r="2.25" fill="none" stroke="#0000ff" stroke-width="1.35"/>
<circle cx="448.90" cy="278.51" r="2.25" fill="none" stroke="#0000ff" stroke-width="1.35"/>
<circle cx="443.40" cy="280.70" r="2.25" fill="none" stroke="#0000ff" stroke-width="1.35"/>
<circle cx="464.60" cy="244.69" r="2.65" fill="#ff0000"/>
<circle cx="464.60" cy="251.98" r="2.65" fill="#ff0000"/>
<circle cx="464.60" cy="268.31" r="2.65" fill="#ff0000"/>
<circle cx="462.10" cy="278.00" r="2.65" fill="#ff0000"/>
<circle cx="467.30" cy="278.00" r="2.65" fill="#ff0000"/>
<circle cx="478.00" cy="273.19" r="2.65" fill="#0000ff"/>
<circle cx="480.70" cy="273.19" r="2.65" fill="#0000ff"/>
<circle cx="479.50" cy="285.07" r="2.65" fill="#0000ff"/>
<circle cx="476.70" cy="292.36" r="2.65" fill="#0000ff"/>
<circle cx="482.20" cy="293.82" r="2.65" fill="#0000ff"/>
<circle cx="479.50" cy="293.09" r="2.65" fill="#0000ff"/>
<line x1="419.90" y1="331.00" x2="490.50" y2="331.00" stroke="#141414" stroke-width="1.3"/>
<line x1="431.10" y1="331.00" x2="431.10" y2="338.60" stroke="#141414" stroke-width="1.3"/>
<line x1="445.90" y1="331.00" x2="445.90" y2="338.60" stroke="#141414" stroke-width="1.3"/>
<line x1="464.60" y1="331.00" x2="464.60" y2="338.60" stroke="#141414" stroke-width="1.3"/>
<line x1="479.50" y1="331.00" x2="479.50" y2="338.60" stroke="#141414" stroke-width="1.3"/>
<text transform="translate(435.42 342.50) rotate(-90) scale(0.820 1.000)" font-size="12" text-anchor="end" fill="#141414">WT</text>
<text transform="translate(450.22 342.50) rotate(-90) scale(0.820 1.000)" font-size="12" text-anchor="end" fill="#141414">KO</text>
<text transform="translate(468.92 342.50) rotate(-90) scale(0.820 1.000)" font-size="12" text-anchor="end" fill="#141414">WT</text>
<text transform="translate(483.82 342.50) rotate(-90) scale(0.820 1.000)" font-size="12" text-anchor="end" fill="#141414">KO</text>
<line x1="429.20" y1="360.70" x2="449.60" y2="360.70" stroke="#141414" stroke-width="1.2"/>
<line x1="462.80" y1="360.70" x2="483.50" y2="360.70" stroke="#141414" stroke-width="1.2"/>
<text transform="translate(439.40 373.50) scale(1.000 1.060)" font-size="12" text-anchor="middle" fill="#141414">Young</text>
<text transform="translate(473.20 373.50) scale(1.000 1.060)" font-size="12" text-anchor="middle" fill="#141414">Old</text>
<text transform="translate(396.80 276.50) rotate(-90) scale(1.000 1.060)" font-size="12" text-anchor="middle" fill="#141414">Blood glucose (mM)</text>
<line x1="430.40" y1="237.70" x2="462.90" y2="237.70" stroke="#141414" stroke-width="1.1"/>
<text transform="translate(445.00 235.00) scale(1.000 1.060)" font-size="10.3" text-anchor="middle" fill="#141414">0.0468</text>
<line x1="466.90" y1="237.70" x2="483.00" y2="237.70" stroke="#141414" stroke-width="1.1"/>
<text transform="translate(482.00 235.00) scale(1.000 1.060)" font-size="10.3" text-anchor="middle" fill="#141414">0.0059</text>
<text transform="translate(506.20 211.50) scale(1.000 1.060)" font-size="11.8" text-anchor="start" fill="#000" font-weight="bold">h</text>
<line x1="548.30" y1="213.61" x2="548.30" y2="330.40" stroke="#141414" stroke-width="1.3"/>
<line x1="543.50" y1="329.80" x2="548.30" y2="329.80" stroke="#141414" stroke-width="1.3"/>
<text transform="translate(541.10 334.10) scale(1.000 1.060)" font-size="12.3" text-anchor="end" fill="#141414">0</text>
<line x1="543.50" y1="291.27" x2="548.30" y2="291.27" stroke="#141414" stroke-width="1.3"/>
<text transform="translate(541.10 295.57) scale(1.000 1.060)" font-size="12.3" text-anchor="end" fill="#141414">1</text>
<line x1="543.50" y1="252.74" x2="548.30" y2="252.74" stroke="#141414" stroke-width="1.3"/>
<text transform="translate(541.10 257.04) scale(1.000 1.060)" font-size="12.3" text-anchor="end" fill="#141414">2</text>
<line x1="543.50" y1="214.21" x2="548.30" y2="214.21" stroke="#141414" stroke-width="1.3"/>
<text transform="translate(541.10 218.51) scale(1.000 1.060)" font-size="12.3" text-anchor="end" fill="#141414">3</text>
<rect x="553.30" y="321.32" width="10.60" height="8.48" fill="#ff9e9e"/>
<rect x="568.20" y="319.01" width="10.60" height="10.79" fill="#8e8eff"/>
<rect x="586.50" y="282.02" width="10.60" height="47.78" fill="#ff9e9e"/>
<rect x="601.20" y="295.12" width="10.60" height="34.68" fill="#8e8eff"/>
<line x1="591.80" y1="297.43" x2="591.80" y2="266.61" stroke="#ff0000" stroke-width="0.9"/>
<line x1="589.60" y1="297.43" x2="594.00" y2="297.43" stroke="#ff0000" stroke-width="0.9"/>
<line x1="589.60" y1="266.61" x2="594.00" y2="266.61" stroke="#ff0000" stroke-width="0.9"/>
<line x1="606.50" y1="305.53" x2="606.50" y2="284.72" stroke="#0000ff" stroke-width="0.9"/>
<line x1="604.30" y1="305.53" x2="608.70" y2="305.53" stroke="#0000ff" stroke-width="0.9"/>
<line x1="604.30" y1="284.72" x2="608.70" y2="284.72" stroke="#0000ff" stroke-width="0.9"/>
<line x1="558.60" y1="322.86" x2="558.60" y2="319.78" stroke="#ff0000" stroke-width="0.9"/>
<line x1="556.60" y1="322.86" x2="560.60" y2="322.86" stroke="#ff0000" stroke-width="0.9"/>
<line x1="556.60" y1="319.78" x2="560.60" y2="319.78" stroke="#ff0000" stroke-width="0.9"/>
<line x1="573.50" y1="321.32" x2="573.50" y2="316.70" stroke="#0000ff" stroke-width="0.9"/>
<line x1="571.50" y1="321.32" x2="575.50" y2="321.32" stroke="#0000ff" stroke-width="0.9"/>
<line x1="571.50" y1="316.70" x2="575.50" y2="316.70" stroke="#0000ff" stroke-width="0.9"/>
<circle cx="557.60" cy="318.24" r="2.25" fill="none" stroke="#ff0000" stroke-width="1.35"/>
<circle cx="560.10" cy="317.47" r="2.25" fill="none" stroke="#ff0000" stroke-width="1.35"/>
<circle cx="556.10" cy="320.55" r="2.25" fill="none" stroke="#ff0000" stroke-width="1.35"/>
<circle cx="558.60" cy="322.09" r="2.25" fill="none" stroke="#ff0000" stroke-width="1.35"/>
<circle cx="560.60" cy="325.18" r="2.25" fill="none" stroke="#ff0000" stroke-width="1.35"/>
<circle cx="558.10" cy="323.64" r="2.25" fill="none" stroke="#ff0000" stroke-width="1.35"/>
<circle cx="572.30" cy="313.62" r="2.25" fill="none" stroke="#0000ff" stroke-width="1.35"/>
<circle cx="575.80" cy="312.85" r="2.25" fill="none" stroke="#0000ff" stroke-width="1.35"/>
<circle cx="574.30" cy="317.09" r="2.25" fill="none" stroke="#0000ff" stroke-width="1.35"/>
<circle cx="571.30" cy="319.78" r="2.25" fill="none" stroke="#0000ff" stroke-width="1.35"/>
<circle cx="573.80" cy="324.02" r="2.25" fill="none" stroke="#0000ff" stroke-width="1.35"/>
<circle cx="576.00" cy="326.33" r="2.25" fill="none" stroke="#0000ff" stroke-width="1.35"/>
<circle cx="591.80" cy="225.77" r="2.65" fill="#ff0000"/>
<circle cx="589.40" cy="281.64" r="2.65" fill="#ff0000"/>
<circle cx="594.30" cy="284.33" r="2.65" fill="#ff0000"/>
<circle cx="591.80" cy="304.76" r="2.65" fill="#ff0000"/>
<circle cx="591.80" cy="313.62" r="2.65" fill="#ff0000"/>
<circle cx="606.50" cy="237.33" r="2.65" fill="#0000ff"/>
<circle cx="606.50" cy="273.16" r="2.65" fill="#0000ff"/>
<circle cx="606.50" cy="290.88" r="2.65" fill="#0000ff"/>
<circle cx="604.30" cy="295.12" r="2.65" fill="#0000ff"/>
<circle cx="609.00" cy="300.90" r="2.65" fill="#0000ff"/>
<circle cx="606.50" cy="317.09" r="2.65" fill="#0000ff"/>
<circle cx="604.00" cy="319.78" r="2.65" fill="#0000ff"/>
<circle cx="609.00" cy="326.33" r="2.65" fill="#0000ff"/>
<line x1="547.70" y1="329.80" x2="617.60" y2="329.80" stroke="#141414" stroke-width="1.3"/>
<line x1="558.60" y1="329.80" x2="558.60" y2="337.60" stroke="#141414" stroke-width="1.3"/>
<line x1="573.50" y1="329.80" x2="573.50" y2="337.60" stroke="#141414" stroke-width="1.3"/>
<line x1="591.80" y1="329.80" x2="591.80" y2="337.60" stroke="#141414" stroke-width="1.3"/>
<line x1="606.50" y1="329.80" x2="606.50" y2="337.60" stroke="#141414" stroke-width="1.3"/>
<text transform="translate(562.92 340.90) rotate(-90) scale(0.880 1.000)" font-size="12" text-anchor="end" fill="#141414">WT</text>
<text transform="translate(577.82 340.90) rotate(-90) scale(0.880 1.000)" font-size="12" text-anchor="end" fill="#141414">KO</text>
<text transform="translate(596.12 340.90) rotate(-90) scale(0.880 1.000)" font-size="12" text-anchor="end" fill="#141414">WT</text>
<text transform="translate(610.82 340.90) rotate(-90) scale(0.880 1.000)" font-size="12" text-anchor="end" fill="#141414">KO</text>
<line x1="552.20" y1="361.20" x2="580.80" y2="361.20" stroke="#141414" stroke-width="1.2"/>
<line x1="587.20" y1="361.20" x2="613.90" y2="361.20" stroke="#141414" stroke-width="1.2"/>
<text transform="translate(566.50 373.50) scale(1.000 1.060)" font-size="12" text-anchor="middle" fill="#141414">Young</text>
<text transform="translate(600.50 373.50) scale(1.000 1.060)" font-size="12" text-anchor="middle" fill="#141414">Old</text>
<text transform="translate(530.20 279.80) rotate(-90) scale(1.000 1.060)" font-size="12" text-anchor="middle" fill="#141414">Insulin (µg/L)</text>
<text transform="translate(0.50 399.40) scale(1.000 1.060)" font-size="11.8" text-anchor="start" fill="#000" font-weight="bold">i</text>
<line x1="51.80" y1="397.50" x2="51.80" y2="514.60" stroke="#141414" stroke-width="1.3"/>
<line x1="47.00" y1="514.00" x2="51.80" y2="514.00" stroke="#141414" stroke-width="1.3"/>
<text transform="translate(42.40 518.60) scale(1.000 1.060)" font-size="13.3" text-anchor="end" fill="#141414">0</text>
<line x1="47.00" y1="490.82" x2="51.80" y2="490.82" stroke="#141414" stroke-width="1.3"/>
<text transform="translate(42.40 495.42) scale(1.000 1.060)" font-size="13.3" text-anchor="end" fill="#141414">5</text>
<line x1="47.00" y1="467.64" x2="51.80" y2="467.64" stroke="#141414" stroke-width="1.3"/>
<text transform="translate(42.40 472.24) scale(1.000 1.060)" font-size="13.3" text-anchor="end" fill="#141414">10</text>
<line x1="47.00" y1="444.46" x2="51.80" y2="444.46" stroke="#141414" stroke-width="1.3"/>
<text transform="translate(42.40 449.06) scale(1.000 1.060)" font-size="13.3" text-anchor="end" fill="#141414">15</text>
<line x1="47.00" y1="421.28" x2="51.80" y2="421.28" stroke="#141414" stroke-width="1.3"/>
<text transform="translate(42.40 425.88) scale(1.000 1.060)" font-size="13.3" text-anchor="end" fill="#141414">20</text>
<line x1="47.00" y1="398.10" x2="51.80" y2="398.10" stroke="#141414" stroke-width="1.3"/>
<text transform="translate(42.40 402.70) scale(1.000 1.060)" font-size="13.3" text-anchor="end" fill="#141414">25</text>
<rect x="56.80" y="508.44" width="10.00" height="5.56" fill="#ff9e9e"/>
<rect x="71.90" y="507.05" width="10.00" height="6.95" fill="#8e8eff"/>
<rect x="90.90" y="460.69" width="10.00" height="53.31" fill="#ff9e9e"/>
<rect x="105.30" y="494.99" width="10.00" height="19.01" fill="#8e8eff"/>
<line x1="95.90" y1="473.20" x2="95.90" y2="447.71" stroke="#ff0000" stroke-width="0.9"/>
<line x1="93.70" y1="473.20" x2="98.10" y2="473.20" stroke="#ff0000" stroke-width="0.9"/>
<line x1="93.70" y1="447.71" x2="98.10" y2="447.71" stroke="#ff0000" stroke-width="0.9"/>
<line x1="110.30" y1="499.63" x2="110.30" y2="489.43" stroke="#0000ff" stroke-width="0.9"/>
<line x1="108.10" y1="499.63" x2="112.50" y2="499.63" stroke="#0000ff" stroke-width="0.9"/>
<line x1="108.10" y1="489.43" x2="112.50" y2="489.43" stroke="#0000ff" stroke-width="0.9"/>
<circle cx="60.80" cy="505.19" r="2.25" fill="none" stroke="#ff0000" stroke-width="1.35"/>
<circle cx="63.60" cy="506.58" r="2.25" fill="none" stroke="#ff0000" stroke-width="1.35"/>
<circle cx="59.30" cy="507.97" r="2.25" fill="none" stroke="#ff0000" stroke-width="1.35"/>
<circle cx="62.30" cy="508.90" r="2.25" fill="none" stroke="#ff0000" stroke-width="1.35"/>
<circle cx="64.00" cy="511.22" r="2.25" fill="none" stroke="#ff0000" stroke-width="1.35"/>
<circle cx="61.30" cy="509.83" r="2.25" fill="none" stroke="#ff0000" stroke-width="1.35"/>
<circle cx="78.40" cy="501.48" r="2.25" fill="none" stroke="#0000ff" stroke-width="1.35"/>
<circle cx="75.70" cy="503.80" r="2.25" fill="none" stroke="#0000ff" stroke-width="1.35"/>
<circle cx="74.40" cy="506.58" r="2.25" fill="none" stroke="#0000ff" stroke-width="1.35"/>
<circle cx="79.40" cy="508.44" r="2.25" fill="none" stroke="#0000ff" stroke-width="1.35"/>
<circle cx="76.40" cy="510.75" r="2.25" fill="none" stroke="#0000ff" stroke-width="1.35"/>
<circle cx="78.90" cy="511.68" r="2.25" fill="none" stroke="#0000ff" stroke-width="1.35"/>
<circle cx="95.90" cy="413.40" r="2.65" fill="#ff0000"/>
<circle cx="95.90" cy="457.90" r="2.65" fill="#ff0000"/>
<circle cx="93.30" cy="469.49" r="2.65" fill="#ff0000"/>
<circle cx="98.50" cy="473.20" r="2.65" fill="#ff0000"/>
<circle cx="95.90" cy="489.43" r="2.65" fill="#ff0000"/>
<circle cx="110.30" cy="476.45" r="2.65" fill="#0000ff"/>
<circle cx="112.90" cy="487.11" r="2.65" fill="#0000ff"/>
<circle cx="108.10" cy="489.43" r="2.65" fill="#0000ff"/>
<circle cx="108.10" cy="493.14" r="2.65" fill="#0000ff"/>
<circle cx="112.90" cy="500.09" r="2.65" fill="#0000ff"/>
<circle cx="108.10" cy="505.66" r="2.65" fill="#0000ff"/>
<circle cx="112.90" cy="511.68" r="2.65" fill="#0000ff"/>
<line x1="51.20" y1="514.00" x2="121.70" y2="514.00" stroke="#141414" stroke-width="1.3"/>
<line x1="61.80" y1="514.00" x2="61.80" y2="520.00" stroke="#141414" stroke-width="1.3"/>
<line x1="76.90" y1="514.00" x2="76.90" y2="520.00" stroke="#141414" stroke-width="1.3"/>
<line x1="95.90" y1="514.00" x2="95.90" y2="520.00" stroke="#141414" stroke-width="1.3"/>
<line x1="110.30" y1="514.00" x2="110.30" y2="520.00" stroke="#141414" stroke-width="1.3"/>
<text transform="translate(65.40 521.90) rotate(-90) scale(0.950 1.000)" font-size="10" text-anchor="end" fill="#141414">WT</text>
<text transform="translate(80.50 521.90) rotate(-90) scale(0.950 1.000)" font-size="10" text-anchor="end" fill="#141414">KO</text>
<text transform="translate(99.50 521.90) rotate(-90) scale(0.950 1.000)" font-size="10" text-anchor="end" fill="#141414">WT</text>
<text transform="translate(113.90 521.90) rotate(-90) scale(0.950 1.000)" font-size="10" text-anchor="end" fill="#141414">KO</text>
<line x1="58.90" y1="543.80" x2="80.80" y2="543.80" stroke="#141414" stroke-width="1.2"/>
<line x1="93.00" y1="543.80" x2="113.70" y2="543.80" stroke="#141414" stroke-width="1.2"/>
<text transform="translate(71.00 556.90) scale(1.000 1.060)" font-size="10.5" text-anchor="middle" fill="#141414">Young</text>
<text transform="translate(101.60 556.90) scale(1.000 1.060)" font-size="10.5" text-anchor="middle" fill="#141414">Old</text>
<text transform="translate(20.60 446.40) rotate(-90) scale(1.000 1.060)" font-size="13.4" text-anchor="middle" fill="#141414">HOMA-IR</text>
<line x1="72.10" y1="391.30" x2="95.80" y2="391.30" stroke="#141414" stroke-width="1.1"/>
<text transform="translate(83.20 388.40) scale(1.000 1.060)" font-size="10.3" text-anchor="middle" fill="#141414">0.0002</text>
<line x1="61.70" y1="406.10" x2="94.50" y2="406.10" stroke="#141414" stroke-width="1.1"/>
<text transform="translate(77.80 403.20) scale(1.000 1.060)" font-size="10.3" text-anchor="middle" fill="#141414">0.0002</text>
<line x1="98.70" y1="406.10" x2="113.90" y2="406.10" stroke="#141414" stroke-width="1.1"/>
<text transform="translate(114.70 403.20) scale(1.000 1.060)" font-size="10.3" text-anchor="middle" fill="#141414">0.0042</text>
<text transform="translate(136.50 400.00) scale(1.000 1.060)" font-size="11.8" text-anchor="start" fill="#000" font-weight="bold">j</text>
<rect x="196.30" y="409.80" width="49.70" height="104.20" fill="#d3d3d3"/>
<line x1="196.30" y1="409.20" x2="196.30" y2="514.60" stroke="#141414" stroke-width="1.3"/>
<line x1="191.50" y1="514.00" x2="196.30" y2="514.00" stroke="#141414" stroke-width="1.3"/>
<text transform="translate(190.00 518.30) scale(1.000 1.060)" font-size="12" text-anchor="end" fill="#141414">0.0</text>
<line x1="191.50" y1="487.95" x2="196.30" y2="487.95" stroke="#141414" stroke-width="1.3"/>
<text transform="translate(190.00 492.25) scale(1.000 1.060)" font-size="12" text-anchor="end" fill="#141414">0.2</text>
<line x1="191.50" y1="461.90" x2="196.30" y2="461.90" stroke="#141414" stroke-width="1.3"/>
<text transform="translate(190.00 466.20) scale(1.000 1.060)" font-size="12" text-anchor="end" fill="#141414">0.4</text>
<line x1="191.50" y1="435.85" x2="196.30" y2="435.85" stroke="#141414" stroke-width="1.3"/>
<text transform="translate(190.00 440.15) scale(1.000 1.060)" font-size="12" text-anchor="end" fill="#141414">0.6</text>
<line x1="191.50" y1="409.80" x2="196.30" y2="409.80" stroke="#141414" stroke-width="1.3"/>
<text transform="translate(190.00 414.10) scale(1.000 1.060)" font-size="12" text-anchor="end" fill="#141414">0.8</text>
<line x1="195.70" y1="514.00" x2="297.60" y2="514.00" stroke="#141414" stroke-width="1.3"/>
<line x1="218.80" y1="514.00" x2="218.80" y2="518.80" stroke="#141414" stroke-width="1.3"/>
<line x1="245.10" y1="514.00" x2="245.10" y2="518.80" stroke="#141414" stroke-width="1.3"/>
<line x1="270.80" y1="514.00" x2="270.80" y2="518.80" stroke="#141414" stroke-width="1.3"/>
<line x1="296.30" y1="514.00" x2="296.30" y2="518.80" stroke="#141414" stroke-width="1.3"/>
<text transform="translate(218.80 532.70) scale(1.000 1.060)" font-size="12" text-anchor="middle" fill="#141414">0</text>
<text transform="translate(245.10 532.70) scale(1.000 1.060)" font-size="12" text-anchor="middle" fill="#141414">6</text>
<text transform="translate(270.80 532.70) scale(1.000 1.060)" font-size="12" text-anchor="middle" fill="#141414">12</text>
<text transform="translate(296.30 532.70) scale(1.000 1.060)" font-size="12" text-anchor="middle" fill="#141414">18</text>
<text transform="translate(246.50 546.50) scale(1.000 1.060)" font-size="12" text-anchor="middle" fill="#141414">Time (hr)</text>
<text transform="translate(165.50 464.30) rotate(-90) scale(1.000 1.060)" font-size="12" text-anchor="middle" fill="#141414">Energy expenditure (kcal/hr)</text>
<polyline points="199.10,444.30 203.28,445.40 207.47,438.20 211.65,429.80 215.83,433.00 220.01,436.60 224.20,442.20 228.38,443.80 232.56,440.70 236.75,445.50 240.93,443.80 245.11,435.60 249.30,436.40 253.48,445.50 257.66,449.90 261.84,449.90 266.03,454.20 270.21,454.20 274.39,457.90 278.58,451.60 282.76,458.30 286.94,460.10 291.13,451.00 295.31,457.40" fill="none" stroke="#0000ff" stroke-width="1.5" stroke-linejoin="round"/>
<line x1="199.10" y1="441.30" x2="199.10" y2="447.30" stroke="#0000ff" stroke-width="0.8" stroke-opacity="0.75"/>
<line x1="197.50" y1="441.30" x2="200.70" y2="441.30" stroke="#0000ff" stroke-width="0.8" stroke-opacity="0.75"/>
<line x1="197.50" y1="447.30" x2="200.70" y2="447.30" stroke="#0000ff" stroke-width="0.8" stroke-opacity="0.75"/>
<line x1="203.28" y1="442.40" x2="203.28" y2="448.40" stroke="#0000ff" stroke-width="0.8" stroke-opacity="0.75"/>
<line x1="201.68" y1="442.40" x2="204.88" y2="442.40" stroke="#0000ff" stroke-width="0.8" stroke-opacity="0.75"/>
<line x1="201.68" y1="448.40" x2="204.88" y2="448.40" stroke="#0000ff" stroke-width="0.8" stroke-opacity="0.75"/>
<line x1="207.47" y1="433.20" x2="207.47" y2="443.20" stroke="#0000ff" stroke-width="0.8" stroke-opacity="0.75"/>
<line x1="205.87" y1="433.20" x2="209.07" y2="433.20" stroke="#0000ff" stroke-width="0.8" stroke-opacity="0.75"/>
<line x1="205.87" y1="443.20" x2="209.07" y2="443.20" stroke="#0000ff" stroke-width="0.8" stroke-opacity="0.75"/>
<line x1="211.65" y1="426.80" x2="211.65" y2="432.80" stroke="#0000ff" stroke-width="0.8" stroke-opacity="0.75"/>
<line x1="210.05" y1="426.80" x2="213.25" y2="426.80" stroke="#0000ff" stroke-width="0.8" stroke-opacity="0.75"/>
<line x1="210.05" y1="432.80" x2="213.25" y2="432.80" stroke="#0000ff" stroke-width="0.8" stroke-opacity="0.75"/>
<line x1="215.83" y1="431.00" x2="215.83" y2="435.00" stroke="#0000ff" stroke-width="0.8" stroke-opacity="0.75"/>
<line x1="214.23" y1="431.00" x2="217.43" y2="431.00" stroke="#0000ff" stroke-width="0.8" stroke-opacity="0.75"/>
<line x1="214.23" y1="435.00" x2="217.43" y2="435.00" stroke="#0000ff" stroke-width="0.8" stroke-opacity="0.75"/>
<line x1="220.01" y1="434.60" x2="220.01" y2="438.60" stroke="#0000ff" stroke-width="0.8" stroke-opacity="0.75"/>
<line x1="218.41" y1="434.60" x2="221.61" y2="434.60" stroke="#0000ff" stroke-width="0.8" stroke-opacity="0.75"/>
<line x1="218.41" y1="438.60" x2="221.61" y2="438.60" stroke="#0000ff" stroke-width="0.8" stroke-opacity="0.75"/>
<line x1="224.20" y1="440.20" x2="224.20" y2="444.20" stroke="#0000ff" stroke-width="0.8" stroke-opacity="0.75"/>
<line x1="222.60" y1="440.20" x2="225.80" y2="440.20" stroke="#0000ff" stroke-width="0.8" stroke-opacity="0.75"/>
<line x1="222.60" y1="444.20" x2="225.80" y2="444.20" stroke="#0000ff" stroke-width="0.8" stroke-opacity="0.75"/>
<line x1="228.38" y1="440.80" x2="228.38" y2="446.80" stroke="#0000ff" stroke-width="0.8" stroke-opacity="0.75"/>
<line x1="226.78" y1="440.80" x2="229.98" y2="440.80" stroke="#0000ff" stroke-width="0.8" stroke-opacity="0.75"/>
<line x1="226.78" y1="446.80" x2="229.98" y2="446.80" stroke="#0000ff" stroke-width="0.8" stroke-opacity="0.75"/>
<line x1="232.56" y1="435.70" x2="232.56" y2="445.70" stroke="#0000ff" stroke-width="0.8" stroke-opacity="0.75"/>
<line x1="230.96" y1="435.70" x2="234.16" y2="435.70" stroke="#0000ff" stroke-width="0.8" stroke-opacity="0.75"/>
<line x1="230.96" y1="445.70" x2="234.16" y2="445.70" stroke="#0000ff" stroke-width="0.8" stroke-opacity="0.75"/>
<line x1="236.75" y1="442.50" x2="236.75" y2="448.50" stroke="#0000ff" stroke-width="0.8" stroke-opacity="0.75"/>
<line x1="235.15" y1="442.50" x2="238.35" y2="442.50" stroke="#0000ff" stroke-width="0.8" stroke-opacity="0.75"/>
<line x1="235.15" y1="448.50" x2="238.35" y2="448.50" stroke="#0000ff" stroke-width="0.8" stroke-opacity="0.75"/>
<line x1="240.93" y1="439.80" x2="240.93" y2="447.80" stroke="#0000ff" stroke-width="0.8" stroke-opacity="0.75"/>
<line x1="239.33" y1="439.80" x2="242.53" y2="439.80" stroke="#0000ff" stroke-width="0.8" stroke-opacity="0.75"/>
<line x1="239.33" y1="447.80" x2="242.53" y2="447.80" stroke="#0000ff" stroke-width="0.8" stroke-opacity="0.75"/>
<line x1="245.11" y1="432.60" x2="245.11" y2="438.60" stroke="#0000ff" stroke-width="0.8" stroke-opacity="0.75"/>
<line x1="243.51" y1="432.60" x2="246.71" y2="432.60" stroke="#0000ff" stroke-width="0.8" stroke-opacity="0.75"/>
<line x1="243.51" y1="438.60" x2="246.71" y2="438.60" stroke="#0000ff" stroke-width="0.8" stroke-opacity="0.75"/>
<line x1="249.30" y1="433.40" x2="249.30" y2="439.40" stroke="#0000ff" stroke-width="0.8" stroke-opacity="0.75"/>
<line x1="247.70" y1="433.40" x2="250.90" y2="433.40" stroke="#0000ff" stroke-width="0.8" stroke-opacity="0.75"/>
<line x1="247.70" y1="439.40" x2="250.90" y2="439.40" stroke="#0000ff" stroke-width="0.8" stroke-opacity="0.75"/>
<line x1="253.48" y1="443.50" x2="253.48" y2="447.50" stroke="#0000ff" stroke-width="0.8" stroke-opacity="0.75"/>
<line x1="251.88" y1="443.50" x2="255.08" y2="443.50" stroke="#0000ff" stroke-width="0.8" stroke-opacity="0.75"/>
<line x1="251.88" y1="447.50" x2="255.08" y2="447.50" stroke="#0000ff" stroke-width="0.8" stroke-opacity="0.75"/>
<line x1="257.66" y1="447.90" x2="257.66" y2="451.90" stroke="#0000ff" stroke-width="0.8" stroke-opacity="0.75"/>
<line x1="256.06" y1="447.90" x2="259.26" y2="447.90" stroke="#0000ff" stroke-width="0.8" stroke-opacity="0.75"/>
<line x1="256.06" y1="451.90" x2="259.26" y2="451.90" stroke="#0000ff" stroke-width="0.8" stroke-opacity="0.75"/>
<line x1="261.84" y1="447.90" x2="261.84" y2="451.90" stroke="#0000ff" stroke-width="0.8" stroke-opacity="0.75"/>
<line x1="260.24" y1="447.90" x2="263.44" y2="447.90" stroke="#0000ff" stroke-width="0.8" stroke-opacity="0.75"/>
<line x1="260.24" y1="451.90" x2="263.44" y2="451.90" stroke="#0000ff" stroke-width="0.8" stroke-opacity="0.75"/>
<line x1="266.03" y1="452.20" x2="266.03" y2="456.20" stroke="#0000ff" stroke-width="0.8" stroke-opacity="0.75"/>
<line x1="264.43" y1="452.20" x2="267.63" y2="452.20" stroke="#0000ff" stroke-width="0.8" stroke-opacity="0.75"/>
<line x1="264.43" y1="456.20" x2="267.63" y2="456.20" stroke="#0000ff" stroke-width="0.8" stroke-opacity="0.75"/>
<line x1="270.21" y1="452.20" x2="270.21" y2="456.20" stroke="#0000ff" stroke-width="0.8" stroke-opacity="0.75"/>
<line x1="268.61" y1="452.20" x2="271.81" y2="452.20" stroke="#0000ff" stroke-width="0.8" stroke-opacity="0.75"/>
<line x1="268.61" y1="456.20" x2="271.81" y2="456.20" stroke="#0000ff" stroke-width="0.8" stroke-opacity="0.75"/>
<line x1="274.39" y1="455.90" x2="274.39" y2="459.90" stroke="#0000ff" stroke-width="0.8" stroke-opacity="0.75"/>
<line x1="272.79" y1="455.90" x2="275.99" y2="455.90" stroke="#0000ff" stroke-width="0.8" stroke-opacity="0.75"/>
<line x1="272.79" y1="459.90" x2="275.99" y2="459.90" stroke="#0000ff" stroke-width="0.8" stroke-opacity="0.75"/>
<line x1="278.58" y1="449.60" x2="278.58" y2="453.60" stroke="#0000ff" stroke-width="0.8" stroke-opacity="0.75"/>
<line x1="276.98" y1="449.60" x2="280.18" y2="449.60" stroke="#0000ff" stroke-width="0.8" stroke-opacity="0.75"/>
<line x1="276.98" y1="453.60" x2="280.18" y2="453.60" stroke="#0000ff" stroke-width="0.8" stroke-opacity="0.75"/>
<line x1="282.76" y1="456.30" x2="282.76" y2="460.30" stroke="#0000ff" stroke-width="0.8" stroke-opacity="0.75"/>
<line x1="281.16" y1="456.30" x2="284.36" y2="456.30" stroke="#0000ff" stroke-width="0.8" stroke-opacity="0.75"/>
<line x1="281.16" y1="460.30" x2="284.36" y2="460.30" stroke="#0000ff" stroke-width="0.8" stroke-opacity="0.75"/>
<line x1="286.94" y1="458.10" x2="286.94" y2="462.10" stroke="#0000ff" stroke-width="0.8" stroke-opacity="0.75"/>
<line x1="285.34" y1="458.10" x2="288.54" y2="458.10" stroke="#0000ff" stroke-width="0.8" stroke-opacity="0.75"/>
<line x1="285.34" y1="462.10" x2="288.54" y2="462.10" stroke="#0000ff" stroke-width="0.8" stroke-opacity="0.75"/>
<line x1="291.13" y1="448.00" x2="291.13" y2="454.00" stroke="#0000ff" stroke-width="0.8" stroke-opacity="0.75"/>
<line x1="289.53" y1="448.00" x2="292.73" y2="448.00" stroke="#0000ff" stroke-width="0.8" stroke-opacity="0.75"/>
<line x1="289.53" y1="454.00" x2="292.73" y2="454.00" stroke="#0000ff" stroke-width="0.8" stroke-opacity="0.75"/>
<line x1="295.31" y1="454.40" x2="295.31" y2="460.40" stroke="#0000ff" stroke-width="0.8" stroke-opacity="0.75"/>
<line x1="293.71" y1="454.40" x2="296.91" y2="454.40" stroke="#0000ff" stroke-width="0.8" stroke-opacity="0.75"/>
<line x1="293.71" y1="460.40" x2="296.91" y2="460.40" stroke="#0000ff" stroke-width="0.8" stroke-opacity="0.75"/>
<circle cx="199.10" cy="444.30" r="2.4" fill="#0000ff"/>
<circle cx="203.28" cy="445.40" r="2.4" fill="#0000ff"/>
<circle cx="207.47" cy="438.20" r="2.4" fill="#0000ff"/>
<circle cx="211.65" cy="429.80" r="2.4" fill="#0000ff"/>
<circle cx="215.83" cy="433.00" r="2.4" fill="#0000ff"/>
<circle cx="220.01" cy="436.60" r="2.4" fill="#0000ff"/>
<circle cx="224.20" cy="442.20" r="2.4" fill="#0000ff"/>
<circle cx="228.38" cy="443.80" r="2.4" fill="#0000ff"/>
<circle cx="232.56" cy="440.70" r="2.4" fill="#0000ff"/>
<circle cx="236.75" cy="445.50" r="2.4" fill="#0000ff"/>
<circle cx="240.93" cy="443.80" r="2.4" fill="#0000ff"/>
<circle cx="245.11" cy="435.60" r="2.4" fill="#0000ff"/>
<circle cx="249.30" cy="436.40" r="2.4" fill="#0000ff"/>
<circle cx="253.48" cy="445.50" r="2.4" fill="#0000ff"/>
<circle cx="257.66" cy="449.90" r="2.4" fill="#0000ff"/>
<circle cx="261.84" cy="449.90" r="2.4" fill="#0000ff"/>
<circle cx="266.03" cy="454.20" r="2.4" fill="#0000ff"/>
<circle cx="270.21" cy="454.20" r="2.4" fill="#0000ff"/>
<circle cx="274.39" cy="457.90" r="2.4" fill="#0000ff"/>
<circle cx="278.58" cy="451.60" r="2.4" fill="#0000ff"/>
<circle cx="282.76" cy="458.30" r="2.4" fill="#0000ff"/>
<circle cx="286.94" cy="460.10" r="2.4" fill="#0000ff"/>
<circle cx="291.13" cy="451.00" r="2.4" fill="#0000ff"/>
<circle cx="295.31" cy="457.40" r="2.4" fill="#0000ff"/>
<polyline points="199.10,460.70 203.28,453.40 207.47,442.20 211.65,439.00 215.83,445.90 220.01,451.80 224.20,455.80 228.38,451.80 232.56,448.20 236.75,460.40 240.93,453.70 245.11,444.90 249.30,446.20 253.48,458.60 257.66,453.10 261.84,461.50 266.03,465.20 270.21,461.50 274.39,464.70 278.58,465.90 282.76,466.60 286.94,465.20 291.13,464.20 295.31,463.30" fill="none" stroke="#ff0000" stroke-width="1.5" stroke-linejoin="round"/>
<line x1="199.10" y1="458.70" x2="199.10" y2="462.70" stroke="#ff0000" stroke-width="0.8" stroke-opacity="0.75"/>
<line x1="197.50" y1="458.70" x2="200.70" y2="458.70" stroke="#ff0000" stroke-width="0.8" stroke-opacity="0.75"/>
<line x1="197.50" y1="462.70" x2="200.70" y2="462.70" stroke="#ff0000" stroke-width="0.8" stroke-opacity="0.75"/>
<line x1="203.28" y1="451.40" x2="203.28" y2="455.40" stroke="#ff0000" stroke-width="0.8" stroke-opacity="0.75"/>
<line x1="201.68" y1="451.40" x2="204.88" y2="451.40" stroke="#ff0000" stroke-width="0.8" stroke-opacity="0.75"/>
<line x1="201.68" y1="455.40" x2="204.88" y2="455.40" stroke="#ff0000" stroke-width="0.8" stroke-opacity="0.75"/>
<line x1="207.47" y1="440.20" x2="207.47" y2="444.20" stroke="#ff0000" stroke-width="0.8" stroke-opacity="0.75"/>
<line x1="205.87" y1="440.20" x2="209.07" y2="440.20" stroke="#ff0000" stroke-width="0.8" stroke-opacity="0.75"/>
<line x1="205.87" y1="444.20" x2="209.07" y2="444.20" stroke="#ff0000" stroke-width="0.8" stroke-opacity="0.75"/>
<line x1="211.65" y1="437.00" x2="211.65" y2="441.00" stroke="#ff0000" stroke-width="0.8" stroke-opacity="0.75"/>
<line x1="210.05" y1="437.00" x2="213.25" y2="437.00" stroke="#ff0000" stroke-width="0.8" stroke-opacity="0.75"/>
<line x1="210.05" y1="441.00" x2="213.25" y2="441.00" stroke="#ff0000" stroke-width="0.8" stroke-opacity="0.75"/>
<line x1="215.83" y1="443.90" x2="215.83" y2="447.90" stroke="#ff0000" stroke-width="0.8" stroke-opacity="0.75"/>
<line x1="214.23" y1="443.90" x2="217.43" y2="443.90" stroke="#ff0000" stroke-width="0.8" stroke-opacity="0.75"/>
<line x1="214.23" y1="447.90" x2="217.43" y2="447.90" stroke="#ff0000" stroke-width="0.8" stroke-opacity="0.75"/>
<line x1="220.01" y1="449.80" x2="220.01" y2="453.80" stroke="#ff0000" stroke-width="0.8" stroke-opacity="0.75"/>
<line x1="218.41" y1="449.80" x2="221.61" y2="449.80" stroke="#ff0000" stroke-width="0.8" stroke-opacity="0.75"/>
<line x1="218.41" y1="453.80" x2="221.61" y2="453.80" stroke="#ff0000" stroke-width="0.8" stroke-opacity="0.75"/>
<line x1="224.20" y1="453.80" x2="224.20" y2="457.80" stroke="#ff0000" stroke-width="0.8" stroke-opacity="0.75"/>
<line x1="222.60" y1="453.80" x2="225.80" y2="453.80" stroke="#ff0000" stroke-width="0.8" stroke-opacity="0.75"/>
<line x1="222.60" y1="457.80" x2="225.80" y2="457.80" stroke="#ff0000" stroke-width="0.8" stroke-opacity="0.75"/>
<line x1="228.38" y1="449.80" x2="228.38" y2="453.80" stroke="#ff0000" stroke-width="0.8" stroke-opacity="0.75"/>
<line x1="226.78" y1="449.80" x2="229.98" y2="449.80" stroke="#ff0000" stroke-width="0.8" stroke-opacity="0.75"/>
<line x1="226.78" y1="453.80" x2="229.98" y2="453.80" stroke="#ff0000" stroke-width="0.8" stroke-opacity="0.75"/>
<line x1="232.56" y1="446.20" x2="232.56" y2="450.20" stroke="#ff0000" stroke-width="0.8" stroke-opacity="0.75"/>
<line x1="230.96" y1="446.20" x2="234.16" y2="446.20" stroke="#ff0000" stroke-width="0.8" stroke-opacity="0.75"/>
<line x1="230.96" y1="450.20" x2="234.16" y2="450.20" stroke="#ff0000" stroke-width="0.8" stroke-opacity="0.75"/>
<line x1="236.75" y1="458.40" x2="236.75" y2="462.40" stroke="#ff0000" stroke-width="0.8" stroke-opacity="0.75"/>
<line x1="235.15" y1="458.40" x2="238.35" y2="458.40" stroke="#ff0000" stroke-width="0.8" stroke-opacity="0.75"/>
<line x1="235.15" y1="462.40" x2="238.35" y2="462.40" stroke="#ff0000" stroke-width="0.8" stroke-opacity="0.75"/>
<line x1="240.93" y1="450.70" x2="240.93" y2="456.70" stroke="#ff0000" stroke-width="0.8" stroke-opacity="0.75"/>
<line x1="239.33" y1="450.70" x2="242.53" y2="450.70" stroke="#ff0000" stroke-width="0.8" stroke-opacity="0.75"/>
<line x1="239.33" y1="456.70" x2="242.53" y2="456.70" stroke="#ff0000" stroke-width="0.8" stroke-opacity="0.75"/>
<line x1="245.11" y1="442.90" x2="245.11" y2="446.90" stroke="#ff0000" stroke-width="0.8" stroke-opacity="0.75"/>
<line x1="243.51" y1="442.90" x2="246.71" y2="442.90" stroke="#ff0000" stroke-width="0.8" stroke-opacity="0.75"/>
<line x1="243.51" y1="446.90" x2="246.71" y2="446.90" stroke="#ff0000" stroke-width="0.8" stroke-opacity="0.75"/>
<line x1="249.30" y1="444.20" x2="249.30" y2="448.20" stroke="#ff0000" stroke-width="0.8" stroke-opacity="0.75"/>
<line x1="247.70" y1="444.20" x2="250.90" y2="444.20" stroke="#ff0000" stroke-width="0.8" stroke-opacity="0.75"/>
<line x1="247.70" y1="448.20" x2="250.90" y2="448.20" stroke="#ff0000" stroke-width="0.8" stroke-opacity="0.75"/>
<line x1="253.48" y1="456.60" x2="253.48" y2="460.60" stroke="#ff0000" stroke-width="0.8" stroke-opacity="0.75"/>
<line x1="251.88" y1="456.60" x2="255.08" y2="456.60" stroke="#ff0000" stroke-width="0.8" stroke-opacity="0.75"/>
<line x1="251.88" y1="460.60" x2="255.08" y2="460.60" stroke="#ff0000" stroke-width="0.8" stroke-opacity="0.75"/>
<line x1="257.66" y1="451.10" x2="257.66" y2="455.10" stroke="#ff0000" stroke-width="0.8" stroke-opacity="0.75"/>
<line x1="256.06" y1="451.10" x2="259.26" y2="451.10" stroke="#ff0000" stroke-width="0.8" stroke-opacity="0.75"/>
<line x1="256.06" y1="455.10" x2="259.26" y2="455.10" stroke="#ff0000" stroke-width="0.8" stroke-opacity="0.75"/>
<line x1="261.84" y1="459.50" x2="261.84" y2="463.50" stroke="#ff0000" stroke-width="0.8" stroke-opacity="0.75"/>
<line x1="260.24" y1="459.50" x2="263.44" y2="459.50" stroke="#ff0000" stroke-width="0.8" stroke-opacity="0.75"/>
<line x1="260.24" y1="463.50" x2="263.44" y2="463.50" stroke="#ff0000" stroke-width="0.8" stroke-opacity="0.75"/>
<line x1="266.03" y1="463.20" x2="266.03" y2="467.20" stroke="#ff0000" stroke-width="0.8" stroke-opacity="0.75"/>
<line x1="264.43" y1="463.20" x2="267.63" y2="463.20" stroke="#ff0000" stroke-width="0.8" stroke-opacity="0.75"/>
<line x1="264.43" y1="467.20" x2="267.63" y2="467.20" stroke="#ff0000" stroke-width="0.8" stroke-opacity="0.75"/>
<line x1="270.21" y1="459.50" x2="270.21" y2="463.50" stroke="#ff0000" stroke-width="0.8" stroke-opacity="0.75"/>
<line x1="268.61" y1="459.50" x2="271.81" y2="459.50" stroke="#ff0000" stroke-width="0.8" stroke-opacity="0.75"/>
<line x1="268.61" y1="463.50" x2="271.81" y2="463.50" stroke="#ff0000" stroke-width="0.8" stroke-opacity="0.75"/>
<line x1="274.39" y1="462.70" x2="274.39" y2="466.70" stroke="#ff0000" stroke-width="0.8" stroke-opacity="0.75"/>
<line x1="272.79" y1="462.70" x2="275.99" y2="462.70" stroke="#ff0000" stroke-width="0.8" stroke-opacity="0.75"/>
<line x1="272.79" y1="466.70" x2="275.99" y2="466.70" stroke="#ff0000" stroke-width="0.8" stroke-opacity="0.75"/>
<line x1="278.58" y1="463.90" x2="278.58" y2="467.90" stroke="#ff0000" stroke-width="0.8" stroke-opacity="0.75"/>
<line x1="276.98" y1="463.90" x2="280.18" y2="463.90" stroke="#ff0000" stroke-width="0.8" stroke-opacity="0.75"/>
<line x1="276.98" y1="467.90" x2="280.18" y2="467.90" stroke="#ff0000" stroke-width="0.8" stroke-opacity="0.75"/>
<line x1="282.76" y1="464.60" x2="282.76" y2="468.60" stroke="#ff0000" stroke-width="0.8" stroke-opacity="0.75"/>
<line x1="281.16" y1="464.60" x2="284.36" y2="464.60" stroke="#ff0000" stroke-width="0.8" stroke-opacity="0.75"/>
<line x1="281.16" y1="468.60" x2="284.36" y2="468.60" stroke="#ff0000" stroke-width="0.8" stroke-opacity="0.75"/>
<line x1="286.94" y1="463.20" x2="286.94" y2="467.20" stroke="#ff0000" stroke-width="0.8" stroke-opacity="0.75"/>
<line x1="285.34" y1="463.20" x2="288.54" y2="463.20" stroke="#ff0000" stroke-width="0.8" stroke-opacity="0.75"/>
<line x1="285.34" y1="467.20" x2="288.54" y2="467.20" stroke="#ff0000" stroke-width="0.8" stroke-opacity="0.75"/>
<line x1="291.13" y1="462.20" x2="291.13" y2="466.20" stroke="#ff0000" stroke-width="0.8" stroke-opacity="0.75"/>
<line x1="289.53" y1="462.20" x2="292.73" y2="462.20" stroke="#ff0000" stroke-width="0.8" stroke-opacity="0.75"/>
<line x1="289.53" y1="466.20" x2="292.73" y2="466.20" stroke="#ff0000" stroke-width="0.8" stroke-opacity="0.75"/>
<line x1="295.31" y1="461.30" x2="295.31" y2="465.30" stroke="#ff0000" stroke-width="0.8" stroke-opacity="0.75"/>
<line x1="293.71" y1="461.30" x2="296.91" y2="461.30" stroke="#ff0000" stroke-width="0.8" stroke-opacity="0.75"/>
<line x1="293.71" y1="465.30" x2="296.91" y2="465.30" stroke="#ff0000" stroke-width="0.8" stroke-opacity="0.75"/>
<circle cx="199.10" cy="460.70" r="2.4" fill="#ff0000"/>
<circle cx="203.28" cy="453.40" r="2.4" fill="#ff0000"/>
<circle cx="207.47" cy="442.20" r="2.4" fill="#ff0000"/>
<circle cx="211.65" cy="439.00" r="2.4" fill="#ff0000"/>
<circle cx="215.83" cy="445.90" r="2.4" fill="#ff0000"/>
<circle cx="220.01" cy="451.80" r="2.4" fill="#ff0000"/>
<circle cx="224.20" cy="455.80" r="2.4" fill="#ff0000"/>
<circle cx="228.38" cy="451.80" r="2.4" fill="#ff0000"/>
<circle cx="232.56" cy="448.20" r="2.4" fill="#ff0000"/>
<circle cx="236.75" cy="460.40" r="2.4" fill="#ff0000"/>
<circle cx="240.93" cy="453.70" r="2.4" fill="#ff0000"/>
<circle cx="245.11" cy="444.90" r="2.4" fill="#ff0000"/>
<circle cx="249.30" cy="446.20" r="2.4" fill="#ff0000"/>
<circle cx="253.48" cy="458.60" r="2.4" fill="#ff0000"/>
<circle cx="257.66" cy="453.10" r="2.4" fill="#ff0000"/>
<circle cx="261.84" cy="461.50" r="2.4" fill="#ff0000"/>
<circle cx="266.03" cy="465.20" r="2.4" fill="#ff0000"/>
<circle cx="270.21" cy="461.50" r="2.4" fill="#ff0000"/>
<circle cx="274.39" cy="464.70" r="2.4" fill="#ff0000"/>
<circle cx="278.58" cy="465.90" r="2.4" fill="#ff0000"/>
<circle cx="282.76" cy="466.60" r="2.4" fill="#ff0000"/>
<circle cx="286.94" cy="465.20" r="2.4" fill="#ff0000"/>
<circle cx="291.13" cy="464.20" r="2.4" fill="#ff0000"/>
<circle cx="295.31" cy="463.30" r="2.4" fill="#ff0000"/>
<circle cx="251.70" cy="495.50" r="2.9" fill="#ff0000"/>
<text transform="translate(259.50 499.50) scale(1.000 1.060)" font-size="10.5" text-anchor="start" fill="#141414">WT-Old</text>
<circle cx="251.70" cy="507.30" r="2.9" fill="#0000ff"/>
<text transform="translate(259.50 511.30) scale(1.000 1.060)" font-size="10.5" text-anchor="start" fill="#141414">KO-Old</text>
<text transform="translate(218.00 431.00) rotate(-50) scale(1.000 1.060)" font-size="7.8" text-anchor="start" fill="#141414">0.0098</text>
<text transform="translate(226.50 437.00) rotate(-50) scale(1.000 1.060)" font-size="7.8" text-anchor="start" fill="#141414">0.0284</text>
<text transform="translate(249.50 431.50) rotate(-50) scale(1.000 1.060)" font-size="7.8" text-anchor="start" fill="#141414">0.0346</text>
<text transform="translate(262.00 447.00) rotate(-50) scale(1.000 1.060)" font-size="7.8" text-anchor="start" fill="#141414">0.0172</text>
<text transform="translate(281.00 447.00) rotate(-50) scale(1.000 1.060)" font-size="7.8" text-anchor="start" fill="#141414">0.0636</text>
<text transform="translate(292.00 447.00) rotate(-50) scale(1.000 1.060)" font-size="7.8" text-anchor="start" fill="#141414">0.0254</text>
<text transform="translate(205.00 471.00) rotate(-50) scale(1.000 1.060)" font-size="7.8" text-anchor="start" fill="#141414">0.0041</text>
<text transform="translate(228.50 483.00) rotate(-50) scale(1.000 1.060)" font-size="7.8" text-anchor="start" fill="#141414">0.0471</text>
<text transform="translate(242.00 484.00) rotate(-50) scale(1.000 1.060)" font-size="7.8" text-anchor="start" fill="#141414">0.0159</text>
<text transform="translate(255.50 489.00) rotate(-50) scale(1.000 1.060)" font-size="7.8" text-anchor="start" fill="#141414">0.0036</text>
<text transform="translate(311.80 400.00) scale(1.000 1.060)" font-size="11.8" text-anchor="start" fill="#000" font-weight="bold">k</text>
<rect x="387.70" y="406.90" width="40.80" height="107.50" fill="#d3d3d3"/>
<line x1="387.70" y1="406.30" x2="387.70" y2="515.00" stroke="#141414" stroke-width="1.3"/>
<line x1="382.90" y1="514.40" x2="387.70" y2="514.40" stroke="#141414" stroke-width="1.3"/>
<text transform="translate(381.40 520.20) scale(1.000 1.060)" font-size="12" text-anchor="end" fill="#141414">0</text>
<line x1="382.90" y1="487.52" x2="387.70" y2="487.52" stroke="#141414" stroke-width="1.3"/>
<text transform="translate(381.40 493.32) scale(1.000 1.060)" font-size="12" text-anchor="end" fill="#141414">2000</text>
<line x1="382.90" y1="460.65" x2="387.70" y2="460.65" stroke="#141414" stroke-width="1.3"/>
<text transform="translate(381.40 466.45) scale(1.000 1.060)" font-size="12" text-anchor="end" fill="#141414">4000</text>
<line x1="382.90" y1="433.77" x2="387.70" y2="433.77" stroke="#141414" stroke-width="1.3"/>
<text transform="translate(381.40 439.57) scale(1.000 1.060)" font-size="12" text-anchor="end" fill="#141414">6000</text>
<line x1="382.90" y1="406.90" x2="387.70" y2="406.90" stroke="#141414" stroke-width="1.3"/>
<text transform="translate(381.40 412.70) scale(1.000 1.060)" font-size="12" text-anchor="end" fill="#141414">8000</text>
<line x1="387.10" y1="514.40" x2="470.00" y2="514.40" stroke="#141414" stroke-width="1.3"/>
<line x1="387.70" y1="514.40" x2="387.70" y2="519.20" stroke="#141414" stroke-width="1.3"/>
<line x1="408.30" y1="514.40" x2="408.30" y2="519.20" stroke="#141414" stroke-width="1.3"/>
<line x1="428.60" y1="514.40" x2="428.60" y2="519.20" stroke="#141414" stroke-width="1.3"/>
<line x1="448.60" y1="514.40" x2="448.60" y2="519.20" stroke="#141414" stroke-width="1.3"/>
<line x1="468.90" y1="514.40" x2="468.90" y2="519.20" stroke="#141414" stroke-width="1.3"/>
<text transform="translate(387.70 532.00) scale(1.000 1.060)" font-size="12" text-anchor="middle" fill="#141414">18</text>
<text transform="translate(408.30 532.00) scale(1.000 1.060)" font-size="12" text-anchor="middle" fill="#141414">0</text>
<text transform="translate(428.60 532.00) scale(1.000 1.060)" font-size="12" text-anchor="middle" fill="#141414">6</text>
<text transform="translate(448.60 532.00) scale(1.000 1.060)" font-size="12" text-anchor="middle" fill="#141414">12</text>
<text transform="translate(468.90 532.00) scale(1.000 1.060)" font-size="12" text-anchor="middle" fill="#141414">18</text>
<text transform="translate(430.30 544.50) scale(1.000 1.060)" font-size="12" text-anchor="middle" fill="#141414">Time (hr)</text>
<text transform="translate(332.50 456.50) rotate(-90) scale(1.000 1.060)" font-size="12" text-anchor="middle" fill="#141414">Locomotor activity</text>
<text transform="translate(346.00 457.00) rotate(-90) scale(1.000 1.060)" font-size="12" text-anchor="middle" fill="#141414">(x+y+z beam breaks/hr)</text>
<polyline points="389.17,482.01 392.35,489.95 395.87,452.03 399.05,461.73 402.57,447.27 405.57,465.26 409.10,456.44 412.28,463.14 415.27,467.02 418.80,484.66 421.98,477.60 425.50,467.02 428.50,458.55 431.50,459.08 435.03,440.21 438.20,471.96 441.38,467.02 444.90,489.95 447.90,476.19 451.43,491.71 454.43,479.37 457.60,490.83 461.13,485.54 464.30,487.30 467.30,476.19" fill="none" stroke="#0000ff" stroke-width="1.6" stroke-linejoin="round"/>
<line x1="389.17" y1="474.01" x2="389.17" y2="490.01" stroke="#0000ff" stroke-width="0.8" stroke-opacity="0.6"/>
<line x1="387.57" y1="474.01" x2="390.77" y2="474.01" stroke="#0000ff" stroke-width="0.8" stroke-opacity="0.6"/>
<line x1="387.57" y1="490.01" x2="390.77" y2="490.01" stroke="#0000ff" stroke-width="0.8" stroke-opacity="0.6"/>
<line x1="392.35" y1="486.95" x2="392.35" y2="492.95" stroke="#0000ff" stroke-width="0.8" stroke-opacity="0.6"/>
<line x1="390.75" y1="486.95" x2="393.95" y2="486.95" stroke="#0000ff" stroke-width="0.8" stroke-opacity="0.6"/>
<line x1="390.75" y1="492.95" x2="393.95" y2="492.95" stroke="#0000ff" stroke-width="0.8" stroke-opacity="0.6"/>
<line x1="395.87" y1="442.03" x2="395.87" y2="462.03" stroke="#0000ff" stroke-width="0.8" stroke-opacity="0.6"/>
<line x1="394.27" y1="442.03" x2="397.47" y2="442.03" stroke="#0000ff" stroke-width="0.8" stroke-opacity="0.6"/>
<line x1="394.27" y1="462.03" x2="397.47" y2="462.03" stroke="#0000ff" stroke-width="0.8" stroke-opacity="0.6"/>
<line x1="399.05" y1="453.73" x2="399.05" y2="469.73" stroke="#0000ff" stroke-width="0.8" stroke-opacity="0.6"/>
<line x1="397.45" y1="453.73" x2="400.65" y2="453.73" stroke="#0000ff" stroke-width="0.8" stroke-opacity="0.6"/>
<line x1="397.45" y1="469.73" x2="400.65" y2="469.73" stroke="#0000ff" stroke-width="0.8" stroke-opacity="0.6"/>
<line x1="402.57" y1="439.27" x2="402.57" y2="455.27" stroke="#0000ff" stroke-width="0.8" stroke-opacity="0.6"/>
<line x1="400.97" y1="439.27" x2="404.17" y2="439.27" stroke="#0000ff" stroke-width="0.8" stroke-opacity="0.6"/>
<line x1="400.97" y1="455.27" x2="404.17" y2="455.27" stroke="#0000ff" stroke-width="0.8" stroke-opacity="0.6"/>
<line x1="405.57" y1="457.26" x2="405.57" y2="473.26" stroke="#0000ff" stroke-width="0.8" stroke-opacity="0.6"/>
<line x1="403.97" y1="457.26" x2="407.17" y2="457.26" stroke="#0000ff" stroke-width="0.8" stroke-opacity="0.6"/>
<line x1="403.97" y1="473.26" x2="407.17" y2="473.26" stroke="#0000ff" stroke-width="0.8" stroke-opacity="0.6"/>
<line x1="409.10" y1="448.44" x2="409.10" y2="464.44" stroke="#0000ff" stroke-width="0.8" stroke-opacity="0.6"/>
<line x1="407.50" y1="448.44" x2="410.70" y2="448.44" stroke="#0000ff" stroke-width="0.8" stroke-opacity="0.6"/>
<line x1="407.50" y1="464.44" x2="410.70" y2="464.44" stroke="#0000ff" stroke-width="0.8" stroke-opacity="0.6"/>
<line x1="412.28" y1="455.14" x2="412.28" y2="471.14" stroke="#0000ff" stroke-width="0.8" stroke-opacity="0.6"/>
<line x1="410.68" y1="455.14" x2="413.88" y2="455.14" stroke="#0000ff" stroke-width="0.8" stroke-opacity="0.6"/>
<line x1="410.68" y1="471.14" x2="413.88" y2="471.14" stroke="#0000ff" stroke-width="0.8" stroke-opacity="0.6"/>
<line x1="415.27" y1="459.02" x2="415.27" y2="475.02" stroke="#0000ff" stroke-width="0.8" stroke-opacity="0.6"/>
<line x1="413.67" y1="459.02" x2="416.87" y2="459.02" stroke="#0000ff" stroke-width="0.8" stroke-opacity="0.6"/>
<line x1="413.67" y1="475.02" x2="416.87" y2="475.02" stroke="#0000ff" stroke-width="0.8" stroke-opacity="0.6"/>
<line x1="418.80" y1="476.66" x2="418.80" y2="492.66" stroke="#0000ff" stroke-width="0.8" stroke-opacity="0.6"/>
<line x1="417.20" y1="476.66" x2="420.40" y2="476.66" stroke="#0000ff" stroke-width="0.8" stroke-opacity="0.6"/>
<line x1="417.20" y1="492.66" x2="420.40" y2="492.66" stroke="#0000ff" stroke-width="0.8" stroke-opacity="0.6"/>
<line x1="421.98" y1="469.60" x2="421.98" y2="485.60" stroke="#0000ff" stroke-width="0.8" stroke-opacity="0.6"/>
<line x1="420.38" y1="469.60" x2="423.58" y2="469.60" stroke="#0000ff" stroke-width="0.8" stroke-opacity="0.6"/>
<line x1="420.38" y1="485.60" x2="423.58" y2="485.60" stroke="#0000ff" stroke-width="0.8" stroke-opacity="0.6"/>
<line x1="425.50" y1="461.02" x2="425.50" y2="473.02" stroke="#0000ff" stroke-width="0.8" stroke-opacity="0.6"/>
<line x1="423.90" y1="461.02" x2="427.10" y2="461.02" stroke="#0000ff" stroke-width="0.8" stroke-opacity="0.6"/>
<line x1="423.90" y1="473.02" x2="427.10" y2="473.02" stroke="#0000ff" stroke-width="0.8" stroke-opacity="0.6"/>
<line x1="428.50" y1="450.55" x2="428.50" y2="466.55" stroke="#0000ff" stroke-width="0.8" stroke-opacity="0.6"/>
<line x1="426.90" y1="450.55" x2="430.10" y2="450.55" stroke="#0000ff" stroke-width="0.8" stroke-opacity="0.6"/>
<line x1="426.90" y1="466.55" x2="430.10" y2="466.55" stroke="#0000ff" stroke-width="0.8" stroke-opacity="0.6"/>
<line x1="431.50" y1="453.08" x2="431.50" y2="465.08" stroke="#0000ff" stroke-width="0.8" stroke-opacity="0.6"/>
<line x1="429.90" y1="453.08" x2="433.10" y2="453.08" stroke="#0000ff" stroke-width="0.8" stroke-opacity="0.6"/>
<line x1="429.90" y1="465.08" x2="433.10" y2="465.08" stroke="#0000ff" stroke-width="0.8" stroke-opacity="0.6"/>
<line x1="435.03" y1="430.21" x2="435.03" y2="450.21" stroke="#0000ff" stroke-width="0.8" stroke-opacity="0.6"/>
<line x1="433.43" y1="430.21" x2="436.63" y2="430.21" stroke="#0000ff" stroke-width="0.8" stroke-opacity="0.6"/>
<line x1="433.43" y1="450.21" x2="436.63" y2="450.21" stroke="#0000ff" stroke-width="0.8" stroke-opacity="0.6"/>
<line x1="438.20" y1="463.96" x2="438.20" y2="479.96" stroke="#0000ff" stroke-width="0.8" stroke-opacity="0.6"/>
<line x1="436.60" y1="463.96" x2="439.80" y2="463.96" stroke="#0000ff" stroke-width="0.8" stroke-opacity="0.6"/>
<line x1="436.60" y1="479.96" x2="439.80" y2="479.96" stroke="#0000ff" stroke-width="0.8" stroke-opacity="0.6"/>
<line x1="441.38" y1="459.02" x2="441.38" y2="475.02" stroke="#0000ff" stroke-width="0.8" stroke-opacity="0.6"/>
<line x1="439.78" y1="459.02" x2="442.98" y2="459.02" stroke="#0000ff" stroke-width="0.8" stroke-opacity="0.6"/>
<line x1="439.78" y1="475.02" x2="442.98" y2="475.02" stroke="#0000ff" stroke-width="0.8" stroke-opacity="0.6"/>
<line x1="444.90" y1="483.95" x2="444.90" y2="495.95" stroke="#0000ff" stroke-width="0.8" stroke-opacity="0.6"/>
<line x1="443.30" y1="483.95" x2="446.50" y2="483.95" stroke="#0000ff" stroke-width="0.8" stroke-opacity="0.6"/>
<line x1="443.30" y1="495.95" x2="446.50" y2="495.95" stroke="#0000ff" stroke-width="0.8" stroke-opacity="0.6"/>
<line x1="447.90" y1="470.19" x2="447.90" y2="482.19" stroke="#0000ff" stroke-width="0.8" stroke-opacity="0.6"/>
<line x1="446.30" y1="470.19" x2="449.50" y2="470.19" stroke="#0000ff" stroke-width="0.8" stroke-opacity="0.6"/>
<line x1="446.30" y1="482.19" x2="449.50" y2="482.19" stroke="#0000ff" stroke-width="0.8" stroke-opacity="0.6"/>
<line x1="451.43" y1="485.71" x2="451.43" y2="497.71" stroke="#0000ff" stroke-width="0.8" stroke-opacity="0.6"/>
<line x1="449.83" y1="485.71" x2="453.03" y2="485.71" stroke="#0000ff" stroke-width="0.8" stroke-opacity="0.6"/>
<line x1="449.83" y1="497.71" x2="453.03" y2="497.71" stroke="#0000ff" stroke-width="0.8" stroke-opacity="0.6"/>
<line x1="454.43" y1="473.37" x2="454.43" y2="485.37" stroke="#0000ff" stroke-width="0.8" stroke-opacity="0.6"/>
<line x1="452.83" y1="473.37" x2="456.03" y2="473.37" stroke="#0000ff" stroke-width="0.8" stroke-opacity="0.6"/>
<line x1="452.83" y1="485.37" x2="456.03" y2="485.37" stroke="#0000ff" stroke-width="0.8" stroke-opacity="0.6"/>
<line x1="457.60" y1="484.83" x2="457.60" y2="496.83" stroke="#0000ff" stroke-width="0.8" stroke-opacity="0.6"/>
<line x1="456.00" y1="484.83" x2="459.20" y2="484.83" stroke="#0000ff" stroke-width="0.8" stroke-opacity="0.6"/>
<line x1="456.00" y1="496.83" x2="459.20" y2="496.83" stroke="#0000ff" stroke-width="0.8" stroke-opacity="0.6"/>
<line x1="461.13" y1="479.54" x2="461.13" y2="491.54" stroke="#0000ff" stroke-width="0.8" stroke-opacity="0.6"/>
<line x1="459.53" y1="479.54" x2="462.73" y2="479.54" stroke="#0000ff" stroke-width="0.8" stroke-opacity="0.6"/>
<line x1="459.53" y1="491.54" x2="462.73" y2="491.54" stroke="#0000ff" stroke-width="0.8" stroke-opacity="0.6"/>
<line x1="464.30" y1="482.30" x2="464.30" y2="492.30" stroke="#0000ff" stroke-width="0.8" stroke-opacity="0.6"/>
<line x1="462.70" y1="482.30" x2="465.90" y2="482.30" stroke="#0000ff" stroke-width="0.8" stroke-opacity="0.6"/>
<line x1="462.70" y1="492.30" x2="465.90" y2="492.30" stroke="#0000ff" stroke-width="0.8" stroke-opacity="0.6"/>
<line x1="467.30" y1="472.19" x2="467.30" y2="480.19" stroke="#0000ff" stroke-width="0.8" stroke-opacity="0.6"/>
<line x1="465.70" y1="472.19" x2="468.90" y2="472.19" stroke="#0000ff" stroke-width="0.8" stroke-opacity="0.6"/>
<line x1="465.70" y1="480.19" x2="468.90" y2="480.19" stroke="#0000ff" stroke-width="0.8" stroke-opacity="0.6"/>
<circle cx="389.17" cy="482.01" r="2.4" fill="#0000ff"/>
<circle cx="392.35" cy="489.95" r="2.4" fill="#0000ff"/>
<circle cx="395.87" cy="452.03" r="2.4" fill="#0000ff"/>
<circle cx="399.05" cy="461.73" r="2.4" fill="#0000ff"/>
<circle cx="402.57" cy="447.27" r="2.4" fill="#0000ff"/>
<circle cx="405.57" cy="465.26" r="2.4" fill="#0000ff"/>
<circle cx="409.10" cy="456.44" r="2.4" fill="#0000ff"/>
<circle cx="412.28" cy="463.14" r="2.4" fill="#0000ff"/>
<circle cx="415.27" cy="467.02" r="2.4" fill="#0000ff"/>
<circle cx="418.80" cy="484.66" r="2.4" fill="#0000ff"/>
<circle cx="421.98" cy="477.60" r="2.4" fill="#0000ff"/>
<circle cx="425.50" cy="467.02" r="2.4" fill="#0000ff"/>
<circle cx="428.50" cy="458.55" r="2.4" fill="#0000ff"/>
<circle cx="431.50" cy="459.08" r="2.4" fill="#0000ff"/>
<circle cx="435.03" cy="440.21" r="2.4" fill="#0000ff"/>
<circle cx="438.20" cy="471.96" r="2.4" fill="#0000ff"/>
<circle cx="441.38" cy="467.02" r="2.4" fill="#0000ff"/>
<circle cx="444.90" cy="489.95" r="2.4" fill="#0000ff"/>
<circle cx="447.90" cy="476.19" r="2.4" fill="#0000ff"/>
<circle cx="451.43" cy="491.71" r="2.4" fill="#0000ff"/>
<circle cx="454.43" cy="479.37" r="2.4" fill="#0000ff"/>
<circle cx="457.60" cy="490.83" r="2.4" fill="#0000ff"/>
<circle cx="461.13" cy="485.54" r="2.4" fill="#0000ff"/>
<circle cx="464.30" cy="487.30" r="2.4" fill="#0000ff"/>
<circle cx="467.30" cy="476.19" r="2.4" fill="#0000ff"/>
<polyline points="389.17,482.01 392.35,490.83 395.87,469.66 399.05,455.03 402.57,437.39 405.57,455.03 409.10,492.06 412.28,475.49 415.27,444.97 418.80,492.06 421.98,488.18 425.50,475.84 428.50,458.20 431.50,463.84 435.03,459.61 438.20,493.47 441.38,490.83 444.90,493.47 447.90,491.36 451.43,496.12 454.43,497.35 457.60,500.53 461.13,490.30 464.30,497.00 467.30,497.00" fill="none" stroke="#ff0000" stroke-width="1.6" stroke-linejoin="round"/>
<line x1="389.17" y1="474.01" x2="389.17" y2="490.01" stroke="#ff0000" stroke-width="0.8" stroke-opacity="0.6"/>
<line x1="387.57" y1="474.01" x2="390.77" y2="474.01" stroke="#ff0000" stroke-width="0.8" stroke-opacity="0.6"/>
<line x1="387.57" y1="490.01" x2="390.77" y2="490.01" stroke="#ff0000" stroke-width="0.8" stroke-opacity="0.6"/>
<line x1="392.35" y1="487.83" x2="392.35" y2="493.83" stroke="#ff0000" stroke-width="0.8" stroke-opacity="0.6"/>
<line x1="390.75" y1="487.83" x2="393.95" y2="487.83" stroke="#ff0000" stroke-width="0.8" stroke-opacity="0.6"/>
<line x1="390.75" y1="493.83" x2="393.95" y2="493.83" stroke="#ff0000" stroke-width="0.8" stroke-opacity="0.6"/>
<line x1="395.87" y1="461.66" x2="395.87" y2="477.66" stroke="#ff0000" stroke-width="0.8" stroke-opacity="0.6"/>
<line x1="394.27" y1="461.66" x2="397.47" y2="461.66" stroke="#ff0000" stroke-width="0.8" stroke-opacity="0.6"/>
<line x1="394.27" y1="477.66" x2="397.47" y2="477.66" stroke="#ff0000" stroke-width="0.8" stroke-opacity="0.6"/>
<line x1="399.05" y1="449.03" x2="399.05" y2="461.03" stroke="#ff0000" stroke-width="0.8" stroke-opacity="0.6"/>
<line x1="397.45" y1="449.03" x2="400.65" y2="449.03" stroke="#ff0000" stroke-width="0.8" stroke-opacity="0.6"/>
<line x1="397.45" y1="461.03" x2="400.65" y2="461.03" stroke="#ff0000" stroke-width="0.8" stroke-opacity="0.6"/>
<line x1="402.57" y1="434.39" x2="402.57" y2="440.39" stroke="#ff0000" stroke-width="0.8" stroke-opacity="0.6"/>
<line x1="400.97" y1="434.39" x2="404.17" y2="434.39" stroke="#ff0000" stroke-width="0.8" stroke-opacity="0.6"/>
<line x1="400.97" y1="440.39" x2="404.17" y2="440.39" stroke="#ff0000" stroke-width="0.8" stroke-opacity="0.6"/>
<line x1="405.57" y1="449.03" x2="405.57" y2="461.03" stroke="#ff0000" stroke-width="0.8" stroke-opacity="0.6"/>
<line x1="403.97" y1="449.03" x2="407.17" y2="449.03" stroke="#ff0000" stroke-width="0.8" stroke-opacity="0.6"/>
<line x1="403.97" y1="461.03" x2="407.17" y2="461.03" stroke="#ff0000" stroke-width="0.8" stroke-opacity="0.6"/>
<line x1="409.10" y1="488.06" x2="409.10" y2="496.06" stroke="#ff0000" stroke-width="0.8" stroke-opacity="0.6"/>
<line x1="407.50" y1="488.06" x2="410.70" y2="488.06" stroke="#ff0000" stroke-width="0.8" stroke-opacity="0.6"/>
<line x1="407.50" y1="496.06" x2="410.70" y2="496.06" stroke="#ff0000" stroke-width="0.8" stroke-opacity="0.6"/>
<line x1="412.28" y1="467.49" x2="412.28" y2="483.49" stroke="#ff0000" stroke-width="0.8" stroke-opacity="0.6"/>
<line x1="410.68" y1="467.49" x2="413.88" y2="467.49" stroke="#ff0000" stroke-width="0.8" stroke-opacity="0.6"/>
<line x1="410.68" y1="483.49" x2="413.88" y2="483.49" stroke="#ff0000" stroke-width="0.8" stroke-opacity="0.6"/>
<line x1="415.27" y1="436.97" x2="415.27" y2="452.97" stroke="#ff0000" stroke-width="0.8" stroke-opacity="0.6"/>
<line x1="413.67" y1="436.97" x2="416.87" y2="436.97" stroke="#ff0000" stroke-width="0.8" stroke-opacity="0.6"/>
<line x1="413.67" y1="452.97" x2="416.87" y2="452.97" stroke="#ff0000" stroke-width="0.8" stroke-opacity="0.6"/>
<line x1="418.80" y1="484.06" x2="418.80" y2="500.06" stroke="#ff0000" stroke-width="0.8" stroke-opacity="0.6"/>
<line x1="417.20" y1="484.06" x2="420.40" y2="484.06" stroke="#ff0000" stroke-width="0.8" stroke-opacity="0.6"/>
<line x1="417.20" y1="500.06" x2="420.40" y2="500.06" stroke="#ff0000" stroke-width="0.8" stroke-opacity="0.6"/>
<line x1="421.98" y1="482.18" x2="421.98" y2="494.18" stroke="#ff0000" stroke-width="0.8" stroke-opacity="0.6"/>
<line x1="420.38" y1="482.18" x2="423.58" y2="482.18" stroke="#ff0000" stroke-width="0.8" stroke-opacity="0.6"/>
<line x1="420.38" y1="494.18" x2="423.58" y2="494.18" stroke="#ff0000" stroke-width="0.8" stroke-opacity="0.6"/>
<line x1="425.50" y1="469.84" x2="425.50" y2="481.84" stroke="#ff0000" stroke-width="0.8" stroke-opacity="0.6"/>
<line x1="423.90" y1="469.84" x2="427.10" y2="469.84" stroke="#ff0000" stroke-width="0.8" stroke-opacity="0.6"/>
<line x1="423.90" y1="481.84" x2="427.10" y2="481.84" stroke="#ff0000" stroke-width="0.8" stroke-opacity="0.6"/>
<line x1="428.50" y1="452.20" x2="428.50" y2="464.20" stroke="#ff0000" stroke-width="0.8" stroke-opacity="0.6"/>
<line x1="426.90" y1="452.20" x2="430.10" y2="452.20" stroke="#ff0000" stroke-width="0.8" stroke-opacity="0.6"/>
<line x1="426.90" y1="464.20" x2="430.10" y2="464.20" stroke="#ff0000" stroke-width="0.8" stroke-opacity="0.6"/>
<line x1="431.50" y1="457.84" x2="431.50" y2="469.84" stroke="#ff0000" stroke-width="0.8" stroke-opacity="0.6"/>
<line x1="429.90" y1="457.84" x2="433.10" y2="457.84" stroke="#ff0000" stroke-width="0.8" stroke-opacity="0.6"/>
<line x1="429.90" y1="469.84" x2="433.10" y2="469.84" stroke="#ff0000" stroke-width="0.8" stroke-opacity="0.6"/>
<line x1="435.03" y1="453.61" x2="435.03" y2="465.61" stroke="#ff0000" stroke-width="0.8" stroke-opacity="0.6"/>
<line x1="433.43" y1="453.61" x2="436.63" y2="453.61" stroke="#ff0000" stroke-width="0.8" stroke-opacity="0.6"/>
<line x1="433.43" y1="465.61" x2="436.63" y2="465.61" stroke="#ff0000" stroke-width="0.8" stroke-opacity="0.6"/>
<line x1="438.20" y1="481.47" x2="438.20" y2="505.47" stroke="#ff0000" stroke-width="0.8" stroke-opacity="0.6"/>
<line x1="436.60" y1="481.47" x2="439.80" y2="481.47" stroke="#ff0000" stroke-width="0.8" stroke-opacity="0.6"/>
<line x1="436.60" y1="505.47" x2="439.80" y2="505.47" stroke="#ff0000" stroke-width="0.8" stroke-opacity="0.6"/>
<line x1="441.38" y1="482.83" x2="441.38" y2="498.83" stroke="#ff0000" stroke-width="0.8" stroke-opacity="0.6"/>
<line x1="439.78" y1="482.83" x2="442.98" y2="482.83" stroke="#ff0000" stroke-width="0.8" stroke-opacity="0.6"/>
<line x1="439.78" y1="498.83" x2="442.98" y2="498.83" stroke="#ff0000" stroke-width="0.8" stroke-opacity="0.6"/>
<line x1="444.90" y1="485.47" x2="444.90" y2="501.47" stroke="#ff0000" stroke-width="0.8" stroke-opacity="0.6"/>
<line x1="443.30" y1="485.47" x2="446.50" y2="485.47" stroke="#ff0000" stroke-width="0.8" stroke-opacity="0.6"/>
<line x1="443.30" y1="501.47" x2="446.50" y2="501.47" stroke="#ff0000" stroke-width="0.8" stroke-opacity="0.6"/>
<line x1="447.90" y1="485.36" x2="447.90" y2="497.36" stroke="#ff0000" stroke-width="0.8" stroke-opacity="0.6"/>
<line x1="446.30" y1="485.36" x2="449.50" y2="485.36" stroke="#ff0000" stroke-width="0.8" stroke-opacity="0.6"/>
<line x1="446.30" y1="497.36" x2="449.50" y2="497.36" stroke="#ff0000" stroke-width="0.8" stroke-opacity="0.6"/>
<line x1="451.43" y1="490.12" x2="451.43" y2="502.12" stroke="#ff0000" stroke-width="0.8" stroke-opacity="0.6"/>
<line x1="449.83" y1="490.12" x2="453.03" y2="490.12" stroke="#ff0000" stroke-width="0.8" stroke-opacity="0.6"/>
<line x1="449.83" y1="502.12" x2="453.03" y2="502.12" stroke="#ff0000" stroke-width="0.8" stroke-opacity="0.6"/>
<line x1="454.43" y1="491.35" x2="454.43" y2="503.35" stroke="#ff0000" stroke-width="0.8" stroke-opacity="0.6"/>
<line x1="452.83" y1="491.35" x2="456.03" y2="491.35" stroke="#ff0000" stroke-width="0.8" stroke-opacity="0.6"/>
<line x1="452.83" y1="503.35" x2="456.03" y2="503.35" stroke="#ff0000" stroke-width="0.8" stroke-opacity="0.6"/>
<line x1="457.60" y1="490.53" x2="457.60" y2="510.53" stroke="#ff0000" stroke-width="0.8" stroke-opacity="0.6"/>
<line x1="456.00" y1="490.53" x2="459.20" y2="490.53" stroke="#ff0000" stroke-width="0.8" stroke-opacity="0.6"/>
<line x1="456.00" y1="510.53" x2="459.20" y2="510.53" stroke="#ff0000" stroke-width="0.8" stroke-opacity="0.6"/>
<line x1="461.13" y1="484.30" x2="461.13" y2="496.30" stroke="#ff0000" stroke-width="0.8" stroke-opacity="0.6"/>
<line x1="459.53" y1="484.30" x2="462.73" y2="484.30" stroke="#ff0000" stroke-width="0.8" stroke-opacity="0.6"/>
<line x1="459.53" y1="496.30" x2="462.73" y2="496.30" stroke="#ff0000" stroke-width="0.8" stroke-opacity="0.6"/>
<line x1="464.30" y1="489.00" x2="464.30" y2="505.00" stroke="#ff0000" stroke-width="0.8" stroke-opacity="0.6"/>
<line x1="462.70" y1="489.00" x2="465.90" y2="489.00" stroke="#ff0000" stroke-width="0.8" stroke-opacity="0.6"/>
<line x1="462.70" y1="505.00" x2="465.90" y2="505.00" stroke="#ff0000" stroke-width="0.8" stroke-opacity="0.6"/>
<line x1="467.30" y1="491.00" x2="467.30" y2="503.00" stroke="#ff0000" stroke-width="0.8" stroke-opacity="0.6"/>
<line x1="465.70" y1="491.00" x2="468.90" y2="491.00" stroke="#ff0000" stroke-width="0.8" stroke-opacity="0.6"/>
<line x1="465.70" y1="503.00" x2="468.90" y2="503.00" stroke="#ff0000" stroke-width="0.8" stroke-opacity="0.6"/>
<circle cx="389.17" cy="482.01" r="2.4" fill="#ff0000"/>
<circle cx="392.35" cy="490.83" r="2.4" fill="#ff0000"/>
<circle cx="395.87" cy="469.66" r="2.4" fill="#ff0000"/>
<circle cx="399.05" cy="455.03" r="2.4" fill="#ff0000"/>
<circle cx="402.57" cy="437.39" r="2.4" fill="#ff0000"/>
<circle cx="405.57" cy="455.03" r="2.4" fill="#ff0000"/>
<circle cx="409.10" cy="492.06" r="2.4" fill="#ff0000"/>
<circle cx="412.28" cy="475.49" r="2.4" fill="#ff0000"/>
<circle cx="415.27" cy="444.97" r="2.4" fill="#ff0000"/>
<circle cx="418.80" cy="492.06" r="2.4" fill="#ff0000"/>
<circle cx="421.98" cy="488.18" r="2.4" fill="#ff0000"/>
<circle cx="425.50" cy="475.84" r="2.4" fill="#ff0000"/>
<circle cx="428.50" cy="458.20" r="2.4" fill="#ff0000"/>
<circle cx="431.50" cy="463.84" r="2.4" fill="#ff0000"/>
<circle cx="435.03" cy="459.61" r="2.4" fill="#ff0000"/>
<circle cx="438.20" cy="493.47" r="2.4" fill="#ff0000"/>
<circle cx="441.38" cy="490.83" r="2.4" fill="#ff0000"/>
<circle cx="444.90" cy="493.47" r="2.4" fill="#ff0000"/>
<circle cx="447.90" cy="491.36" r="2.4" fill="#ff0000"/>
<circle cx="451.43" cy="496.12" r="2.4" fill="#ff0000"/>
<circle cx="454.43" cy="497.35" r="2.4" fill="#ff0000"/>
<circle cx="457.60" cy="500.53" r="2.4" fill="#ff0000"/>
<circle cx="461.13" cy="490.30" r="2.4" fill="#ff0000"/>
<circle cx="464.30" cy="497.00" r="2.4" fill="#ff0000"/>
<circle cx="467.30" cy="497.00" r="2.4" fill="#ff0000"/>
<circle cx="424.10" cy="410.60" r="2.9" fill="#ff0000"/>
<text transform="translate(432.60 414.20) scale(1.000 1.060)" font-size="10.5" text-anchor="start" fill="#141414">WT-Old</text>
<circle cx="424.10" cy="422.00" r="2.9" fill="#0000ff"/>
<text transform="translate(433.50 425.60) scale(1.000 1.060)" font-size="10.5" text-anchor="start" fill="#141414">KO-Old</text>
<text transform="translate(481.50 400.50) scale(1.000 1.060)" font-size="11.8" text-anchor="start" fill="#000" font-weight="bold">l</text>
<line x1="559.50" y1="406.69" x2="559.50" y2="514.50" stroke="#141414" stroke-width="1.3"/>
<line x1="554.70" y1="513.90" x2="559.50" y2="513.90" stroke="#141414" stroke-width="1.3"/>
<text transform="translate(553.20 518.20) scale(1.000 1.060)" font-size="12" text-anchor="end" fill="#141414">0</text>
<line x1="554.70" y1="478.36" x2="559.50" y2="478.36" stroke="#141414" stroke-width="1.3"/>
<text transform="translate(553.20 482.66) scale(1.000 1.060)" font-size="12" text-anchor="end" fill="#141414">5</text>
<line x1="554.70" y1="442.83" x2="559.50" y2="442.83" stroke="#141414" stroke-width="1.3"/>
<text transform="translate(553.20 447.13) scale(1.000 1.060)" font-size="12" text-anchor="end" fill="#141414">10</text>
<line x1="554.70" y1="407.29" x2="559.50" y2="407.29" stroke="#141414" stroke-width="1.3"/>
<text transform="translate(553.20 411.59) scale(1.000 1.060)" font-size="12" text-anchor="end" fill="#141414">15</text>
<rect x="563.40" y="469.48" width="8.40" height="44.42" fill="#ff9e9e"/>
<rect x="575.50" y="458.75" width="8.40" height="55.15" fill="#8e8eff"/>
<rect x="591.40" y="497.20" width="8.40" height="16.70" fill="#ff9e9e"/>
<rect x="603.50" y="489.38" width="8.40" height="24.52" fill="#8e8eff"/>
<rect x="619.80" y="489.03" width="8.40" height="24.87" fill="#ff9e9e"/>
<rect x="631.50" y="485.26" width="8.40" height="28.64" fill="#8e8eff"/>
<line x1="579.70" y1="463.44" x2="579.70" y2="454.20" stroke="#0000cc" stroke-width="0.9"/>
<line x1="577.90" y1="463.44" x2="581.50" y2="463.44" stroke="#0000cc" stroke-width="0.9"/>
<line x1="577.90" y1="454.20" x2="581.50" y2="454.20" stroke="#0000cc" stroke-width="0.9"/>
<line x1="567.60" y1="473.39" x2="567.60" y2="465.57" stroke="#ff0000" stroke-width="0.9"/>
<line x1="565.80" y1="473.39" x2="569.40" y2="473.39" stroke="#ff0000" stroke-width="0.9"/>
<line x1="565.80" y1="465.57" x2="569.40" y2="465.57" stroke="#ff0000" stroke-width="0.9"/>
<circle cx="567.10" cy="462.37" r="2.65" fill="#ff0000"/>
<circle cx="569.80" cy="463.44" r="2.65" fill="#ff0000"/>
<circle cx="565.40" cy="464.15" r="2.65" fill="#ff0000"/>
<circle cx="566.60" cy="466.99" r="2.65" fill="#ff0000"/>
<circle cx="569.60" cy="472.68" r="2.65" fill="#ff0000"/>
<circle cx="567.60" cy="481.21" r="2.65" fill="#ff0000"/>
<circle cx="577.70" cy="446.03" r="2.65" fill="#0000cc"/>
<circle cx="580.50" cy="452.07" r="2.65" fill="#0000cc"/>
<circle cx="577.40" cy="457.19" r="2.65" fill="#0000cc"/>
<circle cx="577.40" cy="466.43" r="2.65" fill="#0000cc"/>
<circle cx="580.50" cy="470.90" r="2.65" fill="#0000cc"/>
<circle cx="594.10" cy="492.58" r="2.65" fill="#ff0000"/>
<circle cx="597.10" cy="494.71" r="2.65" fill="#ff0000"/>
<circle cx="594.60" cy="498.26" r="2.65" fill="#ff0000"/>
<circle cx="595.60" cy="501.68" r="2.65" fill="#ff0000"/>
<circle cx="606.50" cy="485.33" r="2.65" fill="#0000cc"/>
<circle cx="609.50" cy="486.18" r="2.65" fill="#0000cc"/>
<circle cx="608.90" cy="488.31" r="2.65" fill="#0000cc"/>
<circle cx="608.00" cy="496.13" r="2.65" fill="#0000cc"/>
<circle cx="622.50" cy="485.83" r="2.65" fill="#ff0000"/>
<circle cx="625.50" cy="486.54" r="2.65" fill="#ff0000"/>
<circle cx="623.50" cy="488.67" r="2.65" fill="#ff0000"/>
<circle cx="624.50" cy="494.71" r="2.65" fill="#ff0000"/>
<circle cx="634.70" cy="480.78" r="2.65" fill="#0000cc"/>
<circle cx="636.70" cy="483.34" r="2.65" fill="#0000cc"/>
<circle cx="634.70" cy="485.83" r="2.65" fill="#0000cc"/>
<circle cx="635.70" cy="489.03" r="2.65" fill="#0000cc"/>
<line x1="558.90" y1="513.90" x2="644.00" y2="513.90" stroke="#141414" stroke-width="1.3"/>
<line x1="573.40" y1="513.90" x2="573.40" y2="518.70" stroke="#141414" stroke-width="1.3"/>
<line x1="600.90" y1="513.90" x2="600.90" y2="518.70" stroke="#141414" stroke-width="1.3"/>
<line x1="629.60" y1="513.90" x2="629.60" y2="518.70" stroke="#141414" stroke-width="1.3"/>
<text transform="translate(579.50 524.50) rotate(-37) scale(1.000 1.060)" font-size="12" text-anchor="end" fill="#141414">Full day</text>
<text transform="translate(614.50 525.50) rotate(-37) scale(1.000 1.060)" font-size="12" text-anchor="end" fill="#141414">Light cycle</text>
<text transform="translate(643.00 525.50) rotate(-37) scale(1.000 1.060)" font-size="12" text-anchor="end" fill="#141414">Dark cycle</text>
<text transform="translate(521.50 457.00) rotate(-90) scale(1.000 1.060)" font-size="12" text-anchor="middle" fill="#141414">AUC for locomotor</text>
<text transform="translate(536.00 456.50) rotate(-90) scale(1.000 1.060)" font-size="12" text-anchor="middle" fill="#141414">activity (X10<tspan dy="-4" font-size="8">3</tspan><tspan dy="4">)</tspan></text>
<line x1="563.50" y1="441.60" x2="583.20" y2="441.60" stroke="#141414" stroke-width="1.1"/>
<text transform="translate(574.20 437.90) scale(1.000 1.060)" font-size="10.3" text-anchor="middle" fill="#141414">0.045</text>
<line x1="592.20" y1="480.40" x2="611.20" y2="480.40" stroke="#141414" stroke-width="1.1"/>
<text transform="translate(603.50 476.70) scale(1.000 1.060)" font-size="10.3" text-anchor="middle" fill="#141414">0.0303</text>
<text transform="translate(0.00 577.70) scale(1.000 1.060)" font-size="11.8" text-anchor="start" fill="#000" font-weight="bold">m</text>
<rect x="47.40" y="591.30" width="51.90" height="100.00" fill="#d3d3d3"/>
<line x1="47.40" y1="590.70" x2="47.40" y2="691.90" stroke="#141414" stroke-width="1.3"/>
<line x1="42.80" y1="691.30" x2="47.40" y2="691.30" stroke="#141414" stroke-width="1.3"/>
<text transform="translate(41.30 698.10) scale(1.000 1.060)" font-size="12.3" text-anchor="end" fill="#141414">0</text>
<line x1="42.80" y1="666.30" x2="47.40" y2="666.30" stroke="#141414" stroke-width="1.3"/>
<text transform="translate(41.30 673.10) scale(1.000 1.060)" font-size="12.3" text-anchor="end" fill="#141414">1</text>
<line x1="42.80" y1="641.30" x2="47.40" y2="641.30" stroke="#141414" stroke-width="1.3"/>
<text transform="translate(41.30 648.10) scale(1.000 1.060)" font-size="12.3" text-anchor="end" fill="#141414">2</text>
<line x1="42.80" y1="616.30" x2="47.40" y2="616.30" stroke="#141414" stroke-width="1.3"/>
<text transform="translate(41.30 623.10) scale(1.000 1.060)" font-size="12.3" text-anchor="end" fill="#141414">3</text>
<line x1="42.80" y1="591.30" x2="47.40" y2="591.30" stroke="#141414" stroke-width="1.3"/>
<text transform="translate(41.30 598.10) scale(1.000 1.060)" font-size="12.3" text-anchor="end" fill="#141414">4</text>
<line x1="46.80" y1="691.30" x2="154.50" y2="691.30" stroke="#141414" stroke-width="1.3"/>
<line x1="71.20" y1="691.30" x2="71.20" y2="696.10" stroke="#141414" stroke-width="1.3"/>
<line x1="97.60" y1="691.30" x2="97.60" y2="696.10" stroke="#141414" stroke-width="1.3"/>
<line x1="123.30" y1="691.30" x2="123.30" y2="696.10" stroke="#141414" stroke-width="1.3"/>
<line x1="150.00" y1="691.30" x2="150.00" y2="696.10" stroke="#141414" stroke-width="1.3"/>
<text transform="translate(71.20 710.00) scale(1.000 1.060)" font-size="13" text-anchor="middle" fill="#141414">0</text>
<text transform="translate(97.60 710.00) scale(1.000 1.060)" font-size="13" text-anchor="middle" fill="#141414">6</text>
<text transform="translate(123.30 710.00) scale(1.000 1.060)" font-size="13" text-anchor="middle" fill="#141414">12</text>
<text transform="translate(150.00 710.00) scale(1.000 1.060)" font-size="13" text-anchor="middle" fill="#141414">18</text>
<text transform="translate(97.90 723.00) scale(1.000 1.060)" font-size="12" text-anchor="middle" fill="#141414">Time (hr)</text>
<text transform="translate(28.50 641.00) rotate(-90) scale(1.000 1.060)" font-size="12" text-anchor="middle" fill="#141414">VO<tspan dy="3" font-size="8">2</tspan><tspan dy="-3"> (ml/kg/hr) x10</tspan><tspan dy="-4" font-size="8">3</tspan></text>
<polyline points="50.10,611.40 54.48,610.60 58.86,604.20 63.23,595.50 67.61,598.30 71.99,601.80 76.37,607.80 80.75,609.10 85.12,606.30 89.50,611.50 93.88,609.90 98.26,602.10 102.64,602.60 107.01,612.50 111.39,619.70 115.77,617.20 120.15,622.30 124.53,621.60 128.90,624.50 133.28,619.10 137.66,626.00 142.04,626.40 146.42,617.70 150.79,626.00" fill="none" stroke="#0000ff" stroke-width="1.5" stroke-linejoin="round"/>
<line x1="50.10" y1="608.40" x2="50.10" y2="614.40" stroke="#0000ff" stroke-width="0.8" stroke-opacity="0.75"/>
<line x1="48.50" y1="608.40" x2="51.70" y2="608.40" stroke="#0000ff" stroke-width="0.8" stroke-opacity="0.75"/>
<line x1="48.50" y1="614.40" x2="51.70" y2="614.40" stroke="#0000ff" stroke-width="0.8" stroke-opacity="0.75"/>
<line x1="54.48" y1="606.60" x2="54.48" y2="614.60" stroke="#0000ff" stroke-width="0.8" stroke-opacity="0.75"/>
<line x1="52.88" y1="606.60" x2="56.08" y2="606.60" stroke="#0000ff" stroke-width="0.8" stroke-opacity="0.75"/>
<line x1="52.88" y1="614.60" x2="56.08" y2="614.60" stroke="#0000ff" stroke-width="0.8" stroke-opacity="0.75"/>
<line x1="58.86" y1="599.20" x2="58.86" y2="609.20" stroke="#0000ff" stroke-width="0.8" stroke-opacity="0.75"/>
<line x1="57.26" y1="599.20" x2="60.46" y2="599.20" stroke="#0000ff" stroke-width="0.8" stroke-opacity="0.75"/>
<line x1="57.26" y1="609.20" x2="60.46" y2="609.20" stroke="#0000ff" stroke-width="0.8" stroke-opacity="0.75"/>
<line x1="63.23" y1="592.50" x2="63.23" y2="598.50" stroke="#0000ff" stroke-width="0.8" stroke-opacity="0.75"/>
<line x1="61.63" y1="592.50" x2="64.83" y2="592.50" stroke="#0000ff" stroke-width="0.8" stroke-opacity="0.75"/>
<line x1="61.63" y1="598.50" x2="64.83" y2="598.50" stroke="#0000ff" stroke-width="0.8" stroke-opacity="0.75"/>
<line x1="67.61" y1="595.30" x2="67.61" y2="601.30" stroke="#0000ff" stroke-width="0.8" stroke-opacity="0.75"/>
<line x1="66.01" y1="595.30" x2="69.21" y2="595.30" stroke="#0000ff" stroke-width="0.8" stroke-opacity="0.75"/>
<line x1="66.01" y1="601.30" x2="69.21" y2="601.30" stroke="#0000ff" stroke-width="0.8" stroke-opacity="0.75"/>
<line x1="71.99" y1="598.80" x2="71.99" y2="604.80" stroke="#0000ff" stroke-width="0.8" stroke-opacity="0.75"/>
<line x1="70.39" y1="598.80" x2="73.59" y2="598.80" stroke="#0000ff" stroke-width="0.8" stroke-opacity="0.75"/>
<line x1="70.39" y1="604.80" x2="73.59" y2="604.80" stroke="#0000ff" stroke-width="0.8" stroke-opacity="0.75"/>
<line x1="76.37" y1="602.80" x2="76.37" y2="612.80" stroke="#0000ff" stroke-width="0.8" stroke-opacity="0.75"/>
<line x1="74.77" y1="602.80" x2="77.97" y2="602.80" stroke="#0000ff" stroke-width="0.8" stroke-opacity="0.75"/>
<line x1="74.77" y1="612.80" x2="77.97" y2="612.80" stroke="#0000ff" stroke-width="0.8" stroke-opacity="0.75"/>
<line x1="80.75" y1="606.10" x2="80.75" y2="612.10" stroke="#0000ff" stroke-width="0.8" stroke-opacity="0.75"/>
<line x1="79.15" y1="606.10" x2="82.35" y2="606.10" stroke="#0000ff" stroke-width="0.8" stroke-opacity="0.75"/>
<line x1="79.15" y1="612.10" x2="82.35" y2="612.10" stroke="#0000ff" stroke-width="0.8" stroke-opacity="0.75"/>
<line x1="85.12" y1="602.30" x2="85.12" y2="610.30" stroke="#0000ff" stroke-width="0.8" stroke-opacity="0.75"/>
<line x1="83.52" y1="602.30" x2="86.72" y2="602.30" stroke="#0000ff" stroke-width="0.8" stroke-opacity="0.75"/>
<line x1="83.52" y1="610.30" x2="86.72" y2="610.30" stroke="#0000ff" stroke-width="0.8" stroke-opacity="0.75"/>
<line x1="89.50" y1="608.50" x2="89.50" y2="614.50" stroke="#0000ff" stroke-width="0.8" stroke-opacity="0.75"/>
<line x1="87.90" y1="608.50" x2="91.10" y2="608.50" stroke="#0000ff" stroke-width="0.8" stroke-opacity="0.75"/>
<line x1="87.90" y1="614.50" x2="91.10" y2="614.50" stroke="#0000ff" stroke-width="0.8" stroke-opacity="0.75"/>
<line x1="93.88" y1="605.90" x2="93.88" y2="613.90" stroke="#0000ff" stroke-width="0.8" stroke-opacity="0.75"/>
<line x1="92.28" y1="605.90" x2="95.48" y2="605.90" stroke="#0000ff" stroke-width="0.8" stroke-opacity="0.75"/>
<line x1="92.28" y1="613.90" x2="95.48" y2="613.90" stroke="#0000ff" stroke-width="0.8" stroke-opacity="0.75"/>
<line x1="98.26" y1="599.10" x2="98.26" y2="605.10" stroke="#0000ff" stroke-width="0.8" stroke-opacity="0.75"/>
<line x1="96.66" y1="599.10" x2="99.86" y2="599.10" stroke="#0000ff" stroke-width="0.8" stroke-opacity="0.75"/>
<line x1="96.66" y1="605.10" x2="99.86" y2="605.10" stroke="#0000ff" stroke-width="0.8" stroke-opacity="0.75"/>
<line x1="102.64" y1="599.60" x2="102.64" y2="605.60" stroke="#0000ff" stroke-width="0.8" stroke-opacity="0.75"/>
<line x1="101.04" y1="599.60" x2="104.24" y2="599.60" stroke="#0000ff" stroke-width="0.8" stroke-opacity="0.75"/>
<line x1="101.04" y1="605.60" x2="104.24" y2="605.60" stroke="#0000ff" stroke-width="0.8" stroke-opacity="0.75"/>
<line x1="107.01" y1="609.50" x2="107.01" y2="615.50" stroke="#0000ff" stroke-width="0.8" stroke-opacity="0.75"/>
<line x1="105.41" y1="609.50" x2="108.61" y2="609.50" stroke="#0000ff" stroke-width="0.8" stroke-opacity="0.75"/>
<line x1="105.41" y1="615.50" x2="108.61" y2="615.50" stroke="#0000ff" stroke-width="0.8" stroke-opacity="0.75"/>
<line x1="111.39" y1="616.70" x2="111.39" y2="622.70" stroke="#0000ff" stroke-width="0.8" stroke-opacity="0.75"/>
<line x1="109.79" y1="616.70" x2="112.99" y2="616.70" stroke="#0000ff" stroke-width="0.8" stroke-opacity="0.75"/>
<line x1="109.79" y1="622.70" x2="112.99" y2="622.70" stroke="#0000ff" stroke-width="0.8" stroke-opacity="0.75"/>
<line x1="115.77" y1="614.20" x2="115.77" y2="620.20" stroke="#0000ff" stroke-width="0.8" stroke-opacity="0.75"/>
<line x1="114.17" y1="614.20" x2="117.37" y2="614.20" stroke="#0000ff" stroke-width="0.8" stroke-opacity="0.75"/>
<line x1="114.17" y1="620.20" x2="117.37" y2="620.20" stroke="#0000ff" stroke-width="0.8" stroke-opacity="0.75"/>
<line x1="120.15" y1="619.30" x2="120.15" y2="625.30" stroke="#0000ff" stroke-width="0.8" stroke-opacity="0.75"/>
<line x1="118.55" y1="619.30" x2="121.75" y2="619.30" stroke="#0000ff" stroke-width="0.8" stroke-opacity="0.75"/>
<line x1="118.55" y1="625.30" x2="121.75" y2="625.30" stroke="#0000ff" stroke-width="0.8" stroke-opacity="0.75"/>
<line x1="124.53" y1="618.60" x2="124.53" y2="624.60" stroke="#0000ff" stroke-width="0.8" stroke-opacity="0.75"/>
<line x1="122.93" y1="618.60" x2="126.13" y2="618.60" stroke="#0000ff" stroke-width="0.8" stroke-opacity="0.75"/>
<line x1="122.93" y1="624.60" x2="126.13" y2="624.60" stroke="#0000ff" stroke-width="0.8" stroke-opacity="0.75"/>
<line x1="128.90" y1="621.50" x2="128.90" y2="627.50" stroke="#0000ff" stroke-width="0.8" stroke-opacity="0.75"/>
<line x1="127.30" y1="621.50" x2="130.50" y2="621.50" stroke="#0000ff" stroke-width="0.8" stroke-opacity="0.75"/>
<line x1="127.30" y1="627.50" x2="130.50" y2="627.50" stroke="#0000ff" stroke-width="0.8" stroke-opacity="0.75"/>
<line x1="133.28" y1="616.10" x2="133.28" y2="622.10" stroke="#0000ff" stroke-width="0.8" stroke-opacity="0.75"/>
<line x1="131.68" y1="616.10" x2="134.88" y2="616.10" stroke="#0000ff" stroke-width="0.8" stroke-opacity="0.75"/>
<line x1="131.68" y1="622.10" x2="134.88" y2="622.10" stroke="#0000ff" stroke-width="0.8" stroke-opacity="0.75"/>
<line x1="137.66" y1="623.00" x2="137.66" y2="629.00" stroke="#0000ff" stroke-width="0.8" stroke-opacity="0.75"/>
<line x1="136.06" y1="623.00" x2="139.26" y2="623.00" stroke="#0000ff" stroke-width="0.8" stroke-opacity="0.75"/>
<line x1="136.06" y1="629.00" x2="139.26" y2="629.00" stroke="#0000ff" stroke-width="0.8" stroke-opacity="0.75"/>
<line x1="142.04" y1="623.40" x2="142.04" y2="629.40" stroke="#0000ff" stroke-width="0.8" stroke-opacity="0.75"/>
<line x1="140.44" y1="623.40" x2="143.64" y2="623.40" stroke="#0000ff" stroke-width="0.8" stroke-opacity="0.75"/>
<line x1="140.44" y1="629.40" x2="143.64" y2="629.40" stroke="#0000ff" stroke-width="0.8" stroke-opacity="0.75"/>
<line x1="146.42" y1="612.70" x2="146.42" y2="622.70" stroke="#0000ff" stroke-width="0.8" stroke-opacity="0.75"/>
<line x1="144.82" y1="612.70" x2="148.02" y2="612.70" stroke="#0000ff" stroke-width="0.8" stroke-opacity="0.75"/>
<line x1="144.82" y1="622.70" x2="148.02" y2="622.70" stroke="#0000ff" stroke-width="0.8" stroke-opacity="0.75"/>
<line x1="150.79" y1="623.00" x2="150.79" y2="629.00" stroke="#0000ff" stroke-width="0.8" stroke-opacity="0.75"/>
<line x1="149.19" y1="623.00" x2="152.39" y2="623.00" stroke="#0000ff" stroke-width="0.8" stroke-opacity="0.75"/>
<line x1="149.19" y1="629.00" x2="152.39" y2="629.00" stroke="#0000ff" stroke-width="0.8" stroke-opacity="0.75"/>
<circle cx="50.10" cy="611.40" r="2.4" fill="#0000ff"/>
<circle cx="54.48" cy="610.60" r="2.4" fill="#0000ff"/>
<circle cx="58.86" cy="604.20" r="2.4" fill="#0000ff"/>
<circle cx="63.23" cy="595.50" r="2.4" fill="#0000ff"/>
<circle cx="67.61" cy="598.30" r="2.4" fill="#0000ff"/>
<circle cx="71.99" cy="601.80" r="2.4" fill="#0000ff"/>
<circle cx="76.37" cy="607.80" r="2.4" fill="#0000ff"/>
<circle cx="80.75" cy="609.10" r="2.4" fill="#0000ff"/>
<circle cx="85.12" cy="606.30" r="2.4" fill="#0000ff"/>
<circle cx="89.50" cy="611.50" r="2.4" fill="#0000ff"/>
<circle cx="93.88" cy="609.90" r="2.4" fill="#0000ff"/>
<circle cx="98.26" cy="602.10" r="2.4" fill="#0000ff"/>
<circle cx="102.64" cy="602.60" r="2.4" fill="#0000ff"/>
<circle cx="107.01" cy="612.50" r="2.4" fill="#0000ff"/>
<circle cx="111.39" cy="619.70" r="2.4" fill="#0000ff"/>
<circle cx="115.77" cy="617.20" r="2.4" fill="#0000ff"/>
<circle cx="120.15" cy="622.30" r="2.4" fill="#0000ff"/>
<circle cx="124.53" cy="621.60" r="2.4" fill="#0000ff"/>
<circle cx="128.90" cy="624.50" r="2.4" fill="#0000ff"/>
<circle cx="133.28" cy="619.10" r="2.4" fill="#0000ff"/>
<circle cx="137.66" cy="626.00" r="2.4" fill="#0000ff"/>
<circle cx="142.04" cy="626.40" r="2.4" fill="#0000ff"/>
<circle cx="146.42" cy="617.70" r="2.4" fill="#0000ff"/>
<circle cx="150.79" cy="626.00" r="2.4" fill="#0000ff"/>
<polyline points="50.10,622.60 54.48,614.60 58.86,603.40 63.23,598.20 67.61,606.80 71.99,613.90 76.37,619.10 80.75,614.70 85.12,609.40 89.50,623.70 93.88,616.40 98.26,605.20 102.64,606.80 107.01,622.20 111.39,614.70 115.77,623.80 120.15,628.90 124.53,624.50 128.90,628.50 133.28,629.60 137.66,630.80 142.04,629.60 146.42,628.20 150.79,626.70" fill="none" stroke="#ff0000" stroke-width="1.5" stroke-linejoin="round"/>
<line x1="50.10" y1="619.60" x2="50.10" y2="625.60" stroke="#ff0000" stroke-width="0.8" stroke-opacity="0.75"/>
<line x1="48.50" y1="619.60" x2="51.70" y2="619.60" stroke="#ff0000" stroke-width="0.8" stroke-opacity="0.75"/>
<line x1="48.50" y1="625.60" x2="51.70" y2="625.60" stroke="#ff0000" stroke-width="0.8" stroke-opacity="0.75"/>
<line x1="54.48" y1="610.60" x2="54.48" y2="618.60" stroke="#ff0000" stroke-width="0.8" stroke-opacity="0.75"/>
<line x1="52.88" y1="610.60" x2="56.08" y2="610.60" stroke="#ff0000" stroke-width="0.8" stroke-opacity="0.75"/>
<line x1="52.88" y1="618.60" x2="56.08" y2="618.60" stroke="#ff0000" stroke-width="0.8" stroke-opacity="0.75"/>
<line x1="58.86" y1="600.40" x2="58.86" y2="606.40" stroke="#ff0000" stroke-width="0.8" stroke-opacity="0.75"/>
<line x1="57.26" y1="600.40" x2="60.46" y2="600.40" stroke="#ff0000" stroke-width="0.8" stroke-opacity="0.75"/>
<line x1="57.26" y1="606.40" x2="60.46" y2="606.40" stroke="#ff0000" stroke-width="0.8" stroke-opacity="0.75"/>
<line x1="63.23" y1="595.20" x2="63.23" y2="601.20" stroke="#ff0000" stroke-width="0.8" stroke-opacity="0.75"/>
<line x1="61.63" y1="595.20" x2="64.83" y2="595.20" stroke="#ff0000" stroke-width="0.8" stroke-opacity="0.75"/>
<line x1="61.63" y1="601.20" x2="64.83" y2="601.20" stroke="#ff0000" stroke-width="0.8" stroke-opacity="0.75"/>
<line x1="67.61" y1="603.80" x2="67.61" y2="609.80" stroke="#ff0000" stroke-width="0.8" stroke-opacity="0.75"/>
<line x1="66.01" y1="603.80" x2="69.21" y2="603.80" stroke="#ff0000" stroke-width="0.8" stroke-opacity="0.75"/>
<line x1="66.01" y1="609.80" x2="69.21" y2="609.80" stroke="#ff0000" stroke-width="0.8" stroke-opacity="0.75"/>
<line x1="71.99" y1="610.90" x2="71.99" y2="616.90" stroke="#ff0000" stroke-width="0.8" stroke-opacity="0.75"/>
<line x1="70.39" y1="610.90" x2="73.59" y2="610.90" stroke="#ff0000" stroke-width="0.8" stroke-opacity="0.75"/>
<line x1="70.39" y1="616.90" x2="73.59" y2="616.90" stroke="#ff0000" stroke-width="0.8" stroke-opacity="0.75"/>
<line x1="76.37" y1="616.10" x2="76.37" y2="622.10" stroke="#ff0000" stroke-width="0.8" stroke-opacity="0.75"/>
<line x1="74.77" y1="616.10" x2="77.97" y2="616.10" stroke="#ff0000" stroke-width="0.8" stroke-opacity="0.75"/>
<line x1="74.77" y1="622.10" x2="77.97" y2="622.10" stroke="#ff0000" stroke-width="0.8" stroke-opacity="0.75"/>
<line x1="80.75" y1="611.70" x2="80.75" y2="617.70" stroke="#ff0000" stroke-width="0.8" stroke-opacity="0.75"/>
<line x1="79.15" y1="611.70" x2="82.35" y2="611.70" stroke="#ff0000" stroke-width="0.8" stroke-opacity="0.75"/>
<line x1="79.15" y1="617.70" x2="82.35" y2="617.70" stroke="#ff0000" stroke-width="0.8" stroke-opacity="0.75"/>
<line x1="85.12" y1="606.40" x2="85.12" y2="612.40" stroke="#ff0000" stroke-width="0.8" stroke-opacity="0.75"/>
<line x1="83.52" y1="606.40" x2="86.72" y2="606.40" stroke="#ff0000" stroke-width="0.8" stroke-opacity="0.75"/>
<line x1="83.52" y1="612.40" x2="86.72" y2="612.40" stroke="#ff0000" stroke-width="0.8" stroke-opacity="0.75"/>
<line x1="89.50" y1="620.70" x2="89.50" y2="626.70" stroke="#ff0000" stroke-width="0.8" stroke-opacity="0.75"/>
<line x1="87.90" y1="620.70" x2="91.10" y2="620.70" stroke="#ff0000" stroke-width="0.8" stroke-opacity="0.75"/>
<line x1="87.90" y1="626.70" x2="91.10" y2="626.70" stroke="#ff0000" stroke-width="0.8" stroke-opacity="0.75"/>
<line x1="93.88" y1="613.40" x2="93.88" y2="619.40" stroke="#ff0000" stroke-width="0.8" stroke-opacity="0.75"/>
<line x1="92.28" y1="613.40" x2="95.48" y2="613.40" stroke="#ff0000" stroke-width="0.8" stroke-opacity="0.75"/>
<line x1="92.28" y1="619.40" x2="95.48" y2="619.40" stroke="#ff0000" stroke-width="0.8" stroke-opacity="0.75"/>
<line x1="98.26" y1="602.20" x2="98.26" y2="608.20" stroke="#ff0000" stroke-width="0.8" stroke-opacity="0.75"/>
<line x1="96.66" y1="602.20" x2="99.86" y2="602.20" stroke="#ff0000" stroke-width="0.8" stroke-opacity="0.75"/>
<line x1="96.66" y1="608.20" x2="99.86" y2="608.20" stroke="#ff0000" stroke-width="0.8" stroke-opacity="0.75"/>
<line x1="102.64" y1="603.80" x2="102.64" y2="609.80" stroke="#ff0000" stroke-width="0.8" stroke-opacity="0.75"/>
<line x1="101.04" y1="603.80" x2="104.24" y2="603.80" stroke="#ff0000" stroke-width="0.8" stroke-opacity="0.75"/>
<line x1="101.04" y1="609.80" x2="104.24" y2="609.80" stroke="#ff0000" stroke-width="0.8" stroke-opacity="0.75"/>
<line x1="107.01" y1="619.20" x2="107.01" y2="625.20" stroke="#ff0000" stroke-width="0.8" stroke-opacity="0.75"/>
<line x1="105.41" y1="619.20" x2="108.61" y2="619.20" stroke="#ff0000" stroke-width="0.8" stroke-opacity="0.75"/>
<line x1="105.41" y1="625.20" x2="108.61" y2="625.20" stroke="#ff0000" stroke-width="0.8" stroke-opacity="0.75"/>
<line x1="111.39" y1="611.70" x2="111.39" y2="617.70" stroke="#ff0000" stroke-width="0.8" stroke-opacity="0.75"/>
<line x1="109.79" y1="611.70" x2="112.99" y2="611.70" stroke="#ff0000" stroke-width="0.8" stroke-opacity="0.75"/>
<line x1="109.79" y1="617.70" x2="112.99" y2="617.70" stroke="#ff0000" stroke-width="0.8" stroke-opacity="0.75"/>
<line x1="115.77" y1="620.80" x2="115.77" y2="626.80" stroke="#ff0000" stroke-width="0.8" stroke-opacity="0.75"/>
<line x1="114.17" y1="620.80" x2="117.37" y2="620.80" stroke="#ff0000" stroke-width="0.8" stroke-opacity="0.75"/>
<line x1="114.17" y1="626.80" x2="117.37" y2="626.80" stroke="#ff0000" stroke-width="0.8" stroke-opacity="0.75"/>
<line x1="120.15" y1="625.90" x2="120.15" y2="631.90" stroke="#ff0000" stroke-width="0.8" stroke-opacity="0.75"/>
<line x1="118.55" y1="625.90" x2="121.75" y2="625.90" stroke="#ff0000" stroke-width="0.8" stroke-opacity="0.75"/>
<line x1="118.55" y1="631.90" x2="121.75" y2="631.90" stroke="#ff0000" stroke-width="0.8" stroke-opacity="0.75"/>
<line x1="124.53" y1="621.50" x2="124.53" y2="627.50" stroke="#ff0000" stroke-width="0.8" stroke-opacity="0.75"/>
<line x1="122.93" y1="621.50" x2="126.13" y2="621.50" stroke="#ff0000" stroke-width="0.8" stroke-opacity="0.75"/>
<line x1="122.93" y1="627.50" x2="126.13" y2="627.50" stroke="#ff0000" stroke-width="0.8" stroke-opacity="0.75"/>
<line x1="128.90" y1="625.50" x2="128.90" y2="631.50" stroke="#ff0000" stroke-width="0.8" stroke-opacity="0.75"/>
<line x1="127.30" y1="625.50" x2="130.50" y2="625.50" stroke="#ff0000" stroke-width="0.8" stroke-opacity="0.75"/>
<line x1="127.30" y1="631.50" x2="130.50" y2="631.50" stroke="#ff0000" stroke-width="0.8" stroke-opacity="0.75"/>
<line x1="133.28" y1="626.60" x2="133.28" y2="632.60" stroke="#ff0000" stroke-width="0.8" stroke-opacity="0.75"/>
<line x1="131.68" y1="626.60" x2="134.88" y2="626.60" stroke="#ff0000" stroke-width="0.8" stroke-opacity="0.75"/>
<line x1="131.68" y1="632.60" x2="134.88" y2="632.60" stroke="#ff0000" stroke-width="0.8" stroke-opacity="0.75"/>
<line x1="137.66" y1="627.80" x2="137.66" y2="633.80" stroke="#ff0000" stroke-width="0.8" stroke-opacity="0.75"/>
<line x1="136.06" y1="627.80" x2="139.26" y2="627.80" stroke="#ff0000" stroke-width="0.8" stroke-opacity="0.75"/>
<line x1="136.06" y1="633.80" x2="139.26" y2="633.80" stroke="#ff0000" stroke-width="0.8" stroke-opacity="0.75"/>
<line x1="142.04" y1="626.60" x2="142.04" y2="632.60" stroke="#ff0000" stroke-width="0.8" stroke-opacity="0.75"/>
<line x1="140.44" y1="626.60" x2="143.64" y2="626.60" stroke="#ff0000" stroke-width="0.8" stroke-opacity="0.75"/>
<line x1="140.44" y1="632.60" x2="143.64" y2="632.60" stroke="#ff0000" stroke-width="0.8" stroke-opacity="0.75"/>
<line x1="146.42" y1="625.20" x2="146.42" y2="631.20" stroke="#ff0000" stroke-width="0.8" stroke-opacity="0.75"/>
<line x1="144.82" y1="625.20" x2="148.02" y2="625.20" stroke="#ff0000" stroke-width="0.8" stroke-opacity="0.75"/>
<line x1="144.82" y1="631.20" x2="148.02" y2="631.20" stroke="#ff0000" stroke-width="0.8" stroke-opacity="0.75"/>
<line x1="150.79" y1="623.70" x2="150.79" y2="629.70" stroke="#ff0000" stroke-width="0.8" stroke-opacity="0.75"/>
<line x1="149.19" y1="623.70" x2="152.39" y2="623.70" stroke="#ff0000" stroke-width="0.8" stroke-opacity="0.75"/>
<line x1="149.19" y1="629.70" x2="152.39" y2="629.70" stroke="#ff0000" stroke-width="0.8" stroke-opacity="0.75"/>
<circle cx="50.10" cy="622.60" r="2.4" fill="#ff0000"/>
<circle cx="54.48" cy="614.60" r="2.4" fill="#ff0000"/>
<circle cx="58.86" cy="603.40" r="2.4" fill="#ff0000"/>
<circle cx="63.23" cy="598.20" r="2.4" fill="#ff0000"/>
<circle cx="67.61" cy="606.80" r="2.4" fill="#ff0000"/>
<circle cx="71.99" cy="613.90" r="2.4" fill="#ff0000"/>
<circle cx="76.37" cy="619.10" r="2.4" fill="#ff0000"/>
<circle cx="80.75" cy="614.70" r="2.4" fill="#ff0000"/>
<circle cx="85.12" cy="609.40" r="2.4" fill="#ff0000"/>
<circle cx="89.50" cy="623.70" r="2.4" fill="#ff0000"/>
<circle cx="93.88" cy="616.40" r="2.4" fill="#ff0000"/>
<circle cx="98.26" cy="605.20" r="2.4" fill="#ff0000"/>
<circle cx="102.64" cy="606.80" r="2.4" fill="#ff0000"/>
<circle cx="107.01" cy="622.20" r="2.4" fill="#ff0000"/>
<circle cx="111.39" cy="614.70" r="2.4" fill="#ff0000"/>
<circle cx="115.77" cy="623.80" r="2.4" fill="#ff0000"/>
<circle cx="120.15" cy="628.90" r="2.4" fill="#ff0000"/>
<circle cx="124.53" cy="624.50" r="2.4" fill="#ff0000"/>
<circle cx="128.90" cy="628.50" r="2.4" fill="#ff0000"/>
<circle cx="133.28" cy="629.60" r="2.4" fill="#ff0000"/>
<circle cx="137.66" cy="630.80" r="2.4" fill="#ff0000"/>
<circle cx="142.04" cy="629.60" r="2.4" fill="#ff0000"/>
<circle cx="146.42" cy="628.20" r="2.4" fill="#ff0000"/>
<circle cx="150.79" cy="626.70" r="2.4" fill="#ff0000"/>
<circle cx="105.10" cy="668.70" r="2.9" fill="#ff0000"/>
<text transform="translate(113.30 672.30) scale(1.000 1.060)" font-size="10.5" text-anchor="start" fill="#141414">WT-Old</text>
<circle cx="105.60" cy="679.70" r="2.9" fill="#0000ff"/>
<text transform="translate(113.30 683.30) scale(1.000 1.060)" font-size="10.5" text-anchor="start" fill="#141414">KO-Old</text>
<text transform="translate(59.00 637.00) rotate(-50) scale(1.000 1.060)" font-size="7.8" text-anchor="start" fill="#141414">0.0238</text>
<text transform="translate(66.00 642.50) rotate(-50) scale(1.000 1.060)" font-size="7.8" text-anchor="start" fill="#141414">0.0380</text>
<text transform="translate(79.50 648.00) rotate(-50) scale(1.000 1.060)" font-size="7.8" text-anchor="start" fill="#141414">0.0346</text>
<text transform="translate(110.00 610.00) rotate(-50) scale(1.000 1.060)" font-size="7.8" text-anchor="start" fill="#141414">0.0422</text>
<text transform="translate(134.00 615.00) rotate(-50) scale(1.000 1.060)" font-size="7.8" text-anchor="start" fill="#141414">0.0334</text>
<text transform="translate(148.00 610.50) rotate(-50) scale(1.000 1.060)" font-size="7.8" text-anchor="start" fill="#141414">0.0379</text>
<text transform="translate(172.80 578.00) scale(1.000 1.060)" font-size="11.8" text-anchor="start" fill="#000" font-weight="bold">n</text>
<rect x="210.80" y="591.60" width="48.90" height="100.40" fill="#d3d3d3"/>
<line x1="210.80" y1="591.00" x2="210.80" y2="692.60" stroke="#141414" stroke-width="1.3"/>
<line x1="206.00" y1="692.00" x2="210.80" y2="692.00" stroke="#141414" stroke-width="1.3"/>
<text transform="translate(201.20 694.80) scale(1.000 1.060)" font-size="12" text-anchor="end" fill="#141414">0.6</text>
<line x1="206.00" y1="666.90" x2="210.80" y2="666.90" stroke="#141414" stroke-width="1.3"/>
<text transform="translate(201.20 669.70) scale(1.000 1.060)" font-size="12" text-anchor="end" fill="#141414">0.7</text>
<line x1="206.00" y1="641.80" x2="210.80" y2="641.80" stroke="#141414" stroke-width="1.3"/>
<text transform="translate(201.20 644.60) scale(1.000 1.060)" font-size="12" text-anchor="end" fill="#141414">0.8</text>
<line x1="206.00" y1="616.70" x2="210.80" y2="616.70" stroke="#141414" stroke-width="1.3"/>
<text transform="translate(201.20 619.50) scale(1.000 1.060)" font-size="12" text-anchor="end" fill="#141414">0.9</text>
<line x1="206.00" y1="591.60" x2="210.80" y2="591.60" stroke="#141414" stroke-width="1.3"/>
<text transform="translate(201.20 594.40) scale(1.000 1.060)" font-size="12" text-anchor="end" fill="#141414">1.0</text>
<line x1="210.20" y1="692.00" x2="313.40" y2="692.00" stroke="#141414" stroke-width="1.3"/>
<line x1="234.30" y1="692.00" x2="234.30" y2="696.80" stroke="#141414" stroke-width="1.3"/>
<line x1="259.80" y1="692.00" x2="259.80" y2="696.80" stroke="#141414" stroke-width="1.3"/>
<line x1="285.50" y1="692.00" x2="285.50" y2="696.80" stroke="#141414" stroke-width="1.3"/>
<line x1="311.00" y1="692.00" x2="311.00" y2="696.80" stroke="#141414" stroke-width="1.3"/>
<text transform="translate(234.30 710.70) scale(1.000 1.060)" font-size="12" text-anchor="middle" fill="#141414">0</text>
<text transform="translate(259.80 710.70) scale(1.000 1.060)" font-size="12" text-anchor="middle" fill="#141414">6</text>
<text transform="translate(285.50 710.70) scale(1.000 1.060)" font-size="12" text-anchor="middle" fill="#141414">12</text>
<text transform="translate(311.00 710.70) scale(1.000 1.060)" font-size="12" text-anchor="middle" fill="#141414">18</text>
<text transform="translate(259.60 723.00) scale(1.000 1.060)" font-size="12" text-anchor="middle" fill="#141414">Time (hr)</text>
<text transform="translate(180.50 637.00) rotate(-90) scale(1.000 1.060)" font-size="12" text-anchor="middle" fill="#141414">RER</text>
<polyline points="212.89,639.86 217.23,635.04 221.24,629.10 225.58,625.89 229.59,626.53 233.77,628.13 237.62,629.74 241.80,631.83 245.65,638.73 249.83,640.34 253.68,642.27 257.86,642.59 261.87,634.56 265.89,631.35 269.90,644.19 274.24,648.69 278.25,644.67 282.27,646.76 286.28,650.62 290.30,648.69 294.31,648.37 298.33,644.67 302.34,645.16 306.35,641.94 310.37,640.34" fill="none" stroke="#0000ff" stroke-width="1.5" stroke-linejoin="round"/>
<line x1="212.89" y1="636.86" x2="212.89" y2="642.86" stroke="#0000ff" stroke-width="0.8" stroke-opacity="0.75"/>
<line x1="211.29" y1="636.86" x2="214.49" y2="636.86" stroke="#0000ff" stroke-width="0.8" stroke-opacity="0.75"/>
<line x1="211.29" y1="642.86" x2="214.49" y2="642.86" stroke="#0000ff" stroke-width="0.8" stroke-opacity="0.75"/>
<line x1="217.23" y1="631.04" x2="217.23" y2="639.04" stroke="#0000ff" stroke-width="0.8" stroke-opacity="0.75"/>
<line x1="215.63" y1="631.04" x2="218.83" y2="631.04" stroke="#0000ff" stroke-width="0.8" stroke-opacity="0.75"/>
<line x1="215.63" y1="639.04" x2="218.83" y2="639.04" stroke="#0000ff" stroke-width="0.8" stroke-opacity="0.75"/>
<line x1="221.24" y1="624.10" x2="221.24" y2="634.10" stroke="#0000ff" stroke-width="0.8" stroke-opacity="0.75"/>
<line x1="219.64" y1="624.10" x2="222.84" y2="624.10" stroke="#0000ff" stroke-width="0.8" stroke-opacity="0.75"/>
<line x1="219.64" y1="634.10" x2="222.84" y2="634.10" stroke="#0000ff" stroke-width="0.8" stroke-opacity="0.75"/>
<line x1="225.58" y1="620.89" x2="225.58" y2="630.89" stroke="#0000ff" stroke-width="0.8" stroke-opacity="0.75"/>
<line x1="223.98" y1="620.89" x2="227.18" y2="620.89" stroke="#0000ff" stroke-width="0.8" stroke-opacity="0.75"/>
<line x1="223.98" y1="630.89" x2="227.18" y2="630.89" stroke="#0000ff" stroke-width="0.8" stroke-opacity="0.75"/>
<line x1="229.59" y1="623.53" x2="229.59" y2="629.53" stroke="#0000ff" stroke-width="0.8" stroke-opacity="0.75"/>
<line x1="227.99" y1="623.53" x2="231.19" y2="623.53" stroke="#0000ff" stroke-width="0.8" stroke-opacity="0.75"/>
<line x1="227.99" y1="629.53" x2="231.19" y2="629.53" stroke="#0000ff" stroke-width="0.8" stroke-opacity="0.75"/>
<line x1="233.77" y1="625.13" x2="233.77" y2="631.13" stroke="#0000ff" stroke-width="0.8" stroke-opacity="0.75"/>
<line x1="232.17" y1="625.13" x2="235.37" y2="625.13" stroke="#0000ff" stroke-width="0.8" stroke-opacity="0.75"/>
<line x1="232.17" y1="631.13" x2="235.37" y2="631.13" stroke="#0000ff" stroke-width="0.8" stroke-opacity="0.75"/>
<line x1="237.62" y1="626.74" x2="237.62" y2="632.74" stroke="#0000ff" stroke-width="0.8" stroke-opacity="0.75"/>
<line x1="236.02" y1="626.74" x2="239.22" y2="626.74" stroke="#0000ff" stroke-width="0.8" stroke-opacity="0.75"/>
<line x1="236.02" y1="632.74" x2="239.22" y2="632.74" stroke="#0000ff" stroke-width="0.8" stroke-opacity="0.75"/>
<line x1="241.80" y1="626.83" x2="241.80" y2="636.83" stroke="#0000ff" stroke-width="0.8" stroke-opacity="0.75"/>
<line x1="240.20" y1="626.83" x2="243.40" y2="626.83" stroke="#0000ff" stroke-width="0.8" stroke-opacity="0.75"/>
<line x1="240.20" y1="636.83" x2="243.40" y2="636.83" stroke="#0000ff" stroke-width="0.8" stroke-opacity="0.75"/>
<line x1="245.65" y1="634.73" x2="245.65" y2="642.73" stroke="#0000ff" stroke-width="0.8" stroke-opacity="0.75"/>
<line x1="244.05" y1="634.73" x2="247.25" y2="634.73" stroke="#0000ff" stroke-width="0.8" stroke-opacity="0.75"/>
<line x1="244.05" y1="642.73" x2="247.25" y2="642.73" stroke="#0000ff" stroke-width="0.8" stroke-opacity="0.75"/>
<line x1="249.83" y1="637.34" x2="249.83" y2="643.34" stroke="#0000ff" stroke-width="0.8" stroke-opacity="0.75"/>
<line x1="248.23" y1="637.34" x2="251.43" y2="637.34" stroke="#0000ff" stroke-width="0.8" stroke-opacity="0.75"/>
<line x1="248.23" y1="643.34" x2="251.43" y2="643.34" stroke="#0000ff" stroke-width="0.8" stroke-opacity="0.75"/>
<line x1="253.68" y1="639.27" x2="253.68" y2="645.27" stroke="#0000ff" stroke-width="0.8" stroke-opacity="0.75"/>
<line x1="252.08" y1="639.27" x2="255.28" y2="639.27" stroke="#0000ff" stroke-width="0.8" stroke-opacity="0.75"/>
<line x1="252.08" y1="645.27" x2="255.28" y2="645.27" stroke="#0000ff" stroke-width="0.8" stroke-opacity="0.75"/>
<line x1="257.86" y1="639.59" x2="257.86" y2="645.59" stroke="#0000ff" stroke-width="0.8" stroke-opacity="0.75"/>
<line x1="256.26" y1="639.59" x2="259.46" y2="639.59" stroke="#0000ff" stroke-width="0.8" stroke-opacity="0.75"/>
<line x1="256.26" y1="645.59" x2="259.46" y2="645.59" stroke="#0000ff" stroke-width="0.8" stroke-opacity="0.75"/>
<line x1="261.87" y1="631.56" x2="261.87" y2="637.56" stroke="#0000ff" stroke-width="0.8" stroke-opacity="0.75"/>
<line x1="260.27" y1="631.56" x2="263.47" y2="631.56" stroke="#0000ff" stroke-width="0.8" stroke-opacity="0.75"/>
<line x1="260.27" y1="637.56" x2="263.47" y2="637.56" stroke="#0000ff" stroke-width="0.8" stroke-opacity="0.75"/>
<line x1="265.89" y1="628.35" x2="265.89" y2="634.35" stroke="#0000ff" stroke-width="0.8" stroke-opacity="0.75"/>
<line x1="264.29" y1="628.35" x2="267.49" y2="628.35" stroke="#0000ff" stroke-width="0.8" stroke-opacity="0.75"/>
<line x1="264.29" y1="634.35" x2="267.49" y2="634.35" stroke="#0000ff" stroke-width="0.8" stroke-opacity="0.75"/>
<line x1="269.90" y1="641.19" x2="269.90" y2="647.19" stroke="#0000ff" stroke-width="0.8" stroke-opacity="0.75"/>
<line x1="268.30" y1="641.19" x2="271.50" y2="641.19" stroke="#0000ff" stroke-width="0.8" stroke-opacity="0.75"/>
<line x1="268.30" y1="647.19" x2="271.50" y2="647.19" stroke="#0000ff" stroke-width="0.8" stroke-opacity="0.75"/>
<line x1="274.24" y1="644.69" x2="274.24" y2="652.69" stroke="#0000ff" stroke-width="0.8" stroke-opacity="0.75"/>
<line x1="272.64" y1="644.69" x2="275.84" y2="644.69" stroke="#0000ff" stroke-width="0.8" stroke-opacity="0.75"/>
<line x1="272.64" y1="652.69" x2="275.84" y2="652.69" stroke="#0000ff" stroke-width="0.8" stroke-opacity="0.75"/>
<line x1="278.25" y1="639.67" x2="278.25" y2="649.67" stroke="#0000ff" stroke-width="0.8" stroke-opacity="0.75"/>
<line x1="276.65" y1="639.67" x2="279.85" y2="639.67" stroke="#0000ff" stroke-width="0.8" stroke-opacity="0.75"/>
<line x1="276.65" y1="649.67" x2="279.85" y2="649.67" stroke="#0000ff" stroke-width="0.8" stroke-opacity="0.75"/>
<line x1="282.27" y1="643.76" x2="282.27" y2="649.76" stroke="#0000ff" stroke-width="0.8" stroke-opacity="0.75"/>
<line x1="280.67" y1="643.76" x2="283.87" y2="643.76" stroke="#0000ff" stroke-width="0.8" stroke-opacity="0.75"/>
<line x1="280.67" y1="649.76" x2="283.87" y2="649.76" stroke="#0000ff" stroke-width="0.8" stroke-opacity="0.75"/>
<line x1="286.28" y1="647.62" x2="286.28" y2="653.62" stroke="#0000ff" stroke-width="0.8" stroke-opacity="0.75"/>
<line x1="284.68" y1="647.62" x2="287.88" y2="647.62" stroke="#0000ff" stroke-width="0.8" stroke-opacity="0.75"/>
<line x1="284.68" y1="653.62" x2="287.88" y2="653.62" stroke="#0000ff" stroke-width="0.8" stroke-opacity="0.75"/>
<line x1="290.30" y1="645.69" x2="290.30" y2="651.69" stroke="#0000ff" stroke-width="0.8" stroke-opacity="0.75"/>
<line x1="288.70" y1="645.69" x2="291.90" y2="645.69" stroke="#0000ff" stroke-width="0.8" stroke-opacity="0.75"/>
<line x1="288.70" y1="651.69" x2="291.90" y2="651.69" stroke="#0000ff" stroke-width="0.8" stroke-opacity="0.75"/>
<line x1="294.31" y1="645.37" x2="294.31" y2="651.37" stroke="#0000ff" stroke-width="0.8" stroke-opacity="0.75"/>
<line x1="292.71" y1="645.37" x2="295.91" y2="645.37" stroke="#0000ff" stroke-width="0.8" stroke-opacity="0.75"/>
<line x1="292.71" y1="651.37" x2="295.91" y2="651.37" stroke="#0000ff" stroke-width="0.8" stroke-opacity="0.75"/>
<line x1="298.33" y1="641.67" x2="298.33" y2="647.67" stroke="#0000ff" stroke-width="0.8" stroke-opacity="0.75"/>
<line x1="296.73" y1="641.67" x2="299.93" y2="641.67" stroke="#0000ff" stroke-width="0.8" stroke-opacity="0.75"/>
<line x1="296.73" y1="647.67" x2="299.93" y2="647.67" stroke="#0000ff" stroke-width="0.8" stroke-opacity="0.75"/>
<line x1="302.34" y1="642.16" x2="302.34" y2="648.16" stroke="#0000ff" stroke-width="0.8" stroke-opacity="0.75"/>
<line x1="300.74" y1="642.16" x2="303.94" y2="642.16" stroke="#0000ff" stroke-width="0.8" stroke-opacity="0.75"/>
<line x1="300.74" y1="648.16" x2="303.94" y2="648.16" stroke="#0000ff" stroke-width="0.8" stroke-opacity="0.75"/>
<line x1="306.35" y1="638.94" x2="306.35" y2="644.94" stroke="#0000ff" stroke-width="0.8" stroke-opacity="0.75"/>
<line x1="304.75" y1="638.94" x2="307.95" y2="638.94" stroke="#0000ff" stroke-width="0.8" stroke-opacity="0.75"/>
<line x1="304.75" y1="644.94" x2="307.95" y2="644.94" stroke="#0000ff" stroke-width="0.8" stroke-opacity="0.75"/>
<line x1="310.37" y1="635.34" x2="310.37" y2="645.34" stroke="#0000ff" stroke-width="0.8" stroke-opacity="0.75"/>
<line x1="308.77" y1="635.34" x2="311.97" y2="635.34" stroke="#0000ff" stroke-width="0.8" stroke-opacity="0.75"/>
<line x1="308.77" y1="645.34" x2="311.97" y2="645.34" stroke="#0000ff" stroke-width="0.8" stroke-opacity="0.75"/>
<circle cx="212.89" cy="639.86" r="2.4" fill="#0000ff"/>
<circle cx="217.23" cy="635.04" r="2.4" fill="#0000ff"/>
<circle cx="221.24" cy="629.10" r="2.4" fill="#0000ff"/>
<circle cx="225.58" cy="625.89" r="2.4" fill="#0000ff"/>
<circle cx="229.59" cy="626.53" r="2.4" fill="#0000ff"/>
<circle cx="233.77" cy="628.13" r="2.4" fill="#0000ff"/>
<circle cx="237.62" cy="629.74" r="2.4" fill="#0000ff"/>
<circle cx="241.80" cy="631.83" r="2.4" fill="#0000ff"/>
<circle cx="245.65" cy="638.73" r="2.4" fill="#0000ff"/>
<circle cx="249.83" cy="640.34" r="2.4" fill="#0000ff"/>
<circle cx="253.68" cy="642.27" r="2.4" fill="#0000ff"/>
<circle cx="257.86" cy="642.59" r="2.4" fill="#0000ff"/>
<circle cx="261.87" cy="634.56" r="2.4" fill="#0000ff"/>
<circle cx="265.89" cy="631.35" r="2.4" fill="#0000ff"/>
<circle cx="269.90" cy="644.19" r="2.4" fill="#0000ff"/>
<circle cx="274.24" cy="648.69" r="2.4" fill="#0000ff"/>
<circle cx="278.25" cy="644.67" r="2.4" fill="#0000ff"/>
<circle cx="282.27" cy="646.76" r="2.4" fill="#0000ff"/>
<circle cx="286.28" cy="650.62" r="2.4" fill="#0000ff"/>
<circle cx="290.30" cy="648.69" r="2.4" fill="#0000ff"/>
<circle cx="294.31" cy="648.37" r="2.4" fill="#0000ff"/>
<circle cx="298.33" cy="644.67" r="2.4" fill="#0000ff"/>
<circle cx="302.34" cy="645.16" r="2.4" fill="#0000ff"/>
<circle cx="306.35" cy="641.94" r="2.4" fill="#0000ff"/>
<circle cx="310.37" cy="640.34" r="2.4" fill="#0000ff"/>
<polyline points="212.89,644.19 217.23,634.24 221.24,622.67 225.58,617.86 229.59,618.98 233.77,623.80 237.62,621.71 241.80,622.67 245.65,632.95 249.83,639.86 253.68,636.16 257.86,631.83 261.87,625.89 265.89,631.83 269.90,640.66 274.24,651.10 278.25,653.19 282.27,653.83 286.28,651.90 290.30,647.08 294.31,649.97 298.33,645.16 302.34,649.49 306.35,645.48 310.37,643.87" fill="none" stroke="#ff0000" stroke-width="1.7" stroke-linejoin="round"/>
<line x1="212.89" y1="642.19" x2="212.89" y2="646.19" stroke="#ff0000" stroke-width="0.8" stroke-opacity="0.75"/>
<line x1="211.29" y1="642.19" x2="214.49" y2="642.19" stroke="#ff0000" stroke-width="0.8" stroke-opacity="0.75"/>
<line x1="211.29" y1="646.19" x2="214.49" y2="646.19" stroke="#ff0000" stroke-width="0.8" stroke-opacity="0.75"/>
<line x1="217.23" y1="632.24" x2="217.23" y2="636.24" stroke="#ff0000" stroke-width="0.8" stroke-opacity="0.75"/>
<line x1="215.63" y1="632.24" x2="218.83" y2="632.24" stroke="#ff0000" stroke-width="0.8" stroke-opacity="0.75"/>
<line x1="215.63" y1="636.24" x2="218.83" y2="636.24" stroke="#ff0000" stroke-width="0.8" stroke-opacity="0.75"/>
<line x1="221.24" y1="620.67" x2="221.24" y2="624.67" stroke="#ff0000" stroke-width="0.8" stroke-opacity="0.75"/>
<line x1="219.64" y1="620.67" x2="222.84" y2="620.67" stroke="#ff0000" stroke-width="0.8" stroke-opacity="0.75"/>
<line x1="219.64" y1="624.67" x2="222.84" y2="624.67" stroke="#ff0000" stroke-width="0.8" stroke-opacity="0.75"/>
<line x1="225.58" y1="615.86" x2="225.58" y2="619.86" stroke="#ff0000" stroke-width="0.8" stroke-opacity="0.75"/>
<line x1="223.98" y1="615.86" x2="227.18" y2="615.86" stroke="#ff0000" stroke-width="0.8" stroke-opacity="0.75"/>
<line x1="223.98" y1="619.86" x2="227.18" y2="619.86" stroke="#ff0000" stroke-width="0.8" stroke-opacity="0.75"/>
<line x1="229.59" y1="616.98" x2="229.59" y2="620.98" stroke="#ff0000" stroke-width="0.8" stroke-opacity="0.75"/>
<line x1="227.99" y1="616.98" x2="231.19" y2="616.98" stroke="#ff0000" stroke-width="0.8" stroke-opacity="0.75"/>
<line x1="227.99" y1="620.98" x2="231.19" y2="620.98" stroke="#ff0000" stroke-width="0.8" stroke-opacity="0.75"/>
<line x1="233.77" y1="621.80" x2="233.77" y2="625.80" stroke="#ff0000" stroke-width="0.8" stroke-opacity="0.75"/>
<line x1="232.17" y1="621.80" x2="235.37" y2="621.80" stroke="#ff0000" stroke-width="0.8" stroke-opacity="0.75"/>
<line x1="232.17" y1="625.80" x2="235.37" y2="625.80" stroke="#ff0000" stroke-width="0.8" stroke-opacity="0.75"/>
<line x1="237.62" y1="619.71" x2="237.62" y2="623.71" stroke="#ff0000" stroke-width="0.8" stroke-opacity="0.75"/>
<line x1="236.02" y1="619.71" x2="239.22" y2="619.71" stroke="#ff0000" stroke-width="0.8" stroke-opacity="0.75"/>
<line x1="236.02" y1="623.71" x2="239.22" y2="623.71" stroke="#ff0000" stroke-width="0.8" stroke-opacity="0.75"/>
<line x1="241.80" y1="620.67" x2="241.80" y2="624.67" stroke="#ff0000" stroke-width="0.8" stroke-opacity="0.75"/>
<line x1="240.20" y1="620.67" x2="243.40" y2="620.67" stroke="#ff0000" stroke-width="0.8" stroke-opacity="0.75"/>
<line x1="240.20" y1="624.67" x2="243.40" y2="624.67" stroke="#ff0000" stroke-width="0.8" stroke-opacity="0.75"/>
<line x1="245.65" y1="630.95" x2="245.65" y2="634.95" stroke="#ff0000" stroke-width="0.8" stroke-opacity="0.75"/>
<line x1="244.05" y1="630.95" x2="247.25" y2="630.95" stroke="#ff0000" stroke-width="0.8" stroke-opacity="0.75"/>
<line x1="244.05" y1="634.95" x2="247.25" y2="634.95" stroke="#ff0000" stroke-width="0.8" stroke-opacity="0.75"/>
<line x1="249.83" y1="637.86" x2="249.83" y2="641.86" stroke="#ff0000" stroke-width="0.8" stroke-opacity="0.75"/>
<line x1="248.23" y1="637.86" x2="251.43" y2="637.86" stroke="#ff0000" stroke-width="0.8" stroke-opacity="0.75"/>
<line x1="248.23" y1="641.86" x2="251.43" y2="641.86" stroke="#ff0000" stroke-width="0.8" stroke-opacity="0.75"/>
<line x1="253.68" y1="634.16" x2="253.68" y2="638.16" stroke="#ff0000" stroke-width="0.8" stroke-opacity="0.75"/>
<line x1="252.08" y1="634.16" x2="255.28" y2="634.16" stroke="#ff0000" stroke-width="0.8" stroke-opacity="0.75"/>
<line x1="252.08" y1="638.16" x2="255.28" y2="638.16" stroke="#ff0000" stroke-width="0.8" stroke-opacity="0.75"/>
<line x1="257.86" y1="629.83" x2="257.86" y2="633.83" stroke="#ff0000" stroke-width="0.8" stroke-opacity="0.75"/>
<line x1="256.26" y1="629.83" x2="259.46" y2="629.83" stroke="#ff0000" stroke-width="0.8" stroke-opacity="0.75"/>
<line x1="256.26" y1="633.83" x2="259.46" y2="633.83" stroke="#ff0000" stroke-width="0.8" stroke-opacity="0.75"/>
<line x1="261.87" y1="623.89" x2="261.87" y2="627.89" stroke="#ff0000" stroke-width="0.8" stroke-opacity="0.75"/>
<line x1="260.27" y1="623.89" x2="263.47" y2="623.89" stroke="#ff0000" stroke-width="0.8" stroke-opacity="0.75"/>
<line x1="260.27" y1="627.89" x2="263.47" y2="627.89" stroke="#ff0000" stroke-width="0.8" stroke-opacity="0.75"/>
<line x1="265.89" y1="629.83" x2="265.89" y2="633.83" stroke="#ff0000" stroke-width="0.8" stroke-opacity="0.75"/>
<line x1="264.29" y1="629.83" x2="267.49" y2="629.83" stroke="#ff0000" stroke-width="0.8" stroke-opacity="0.75"/>
<line x1="264.29" y1="633.83" x2="267.49" y2="633.83" stroke="#ff0000" stroke-width="0.8" stroke-opacity="0.75"/>
<line x1="269.90" y1="638.66" x2="269.90" y2="642.66" stroke="#ff0000" stroke-width="0.8" stroke-opacity="0.75"/>
<line x1="268.30" y1="638.66" x2="271.50" y2="638.66" stroke="#ff0000" stroke-width="0.8" stroke-opacity="0.75"/>
<line x1="268.30" y1="642.66" x2="271.50" y2="642.66" stroke="#ff0000" stroke-width="0.8" stroke-opacity="0.75"/>
<line x1="274.24" y1="648.10" x2="274.24" y2="654.10" stroke="#ff0000" stroke-width="0.8" stroke-opacity="0.75"/>
<line x1="272.64" y1="648.10" x2="275.84" y2="648.10" stroke="#ff0000" stroke-width="0.8" stroke-opacity="0.75"/>
<line x1="272.64" y1="654.10" x2="275.84" y2="654.10" stroke="#ff0000" stroke-width="0.8" stroke-opacity="0.75"/>
<line x1="278.25" y1="650.19" x2="278.25" y2="656.19" stroke="#ff0000" stroke-width="0.8" stroke-opacity="0.75"/>
<line x1="276.65" y1="650.19" x2="279.85" y2="650.19" stroke="#ff0000" stroke-width="0.8" stroke-opacity="0.75"/>
<line x1="276.65" y1="656.19" x2="279.85" y2="656.19" stroke="#ff0000" stroke-width="0.8" stroke-opacity="0.75"/>
<line x1="282.27" y1="650.83" x2="282.27" y2="656.83" stroke="#ff0000" stroke-width="0.8" stroke-opacity="0.75"/>
<line x1="280.67" y1="650.83" x2="283.87" y2="650.83" stroke="#ff0000" stroke-width="0.8" stroke-opacity="0.75"/>
<line x1="280.67" y1="656.83" x2="283.87" y2="656.83" stroke="#ff0000" stroke-width="0.8" stroke-opacity="0.75"/>
<line x1="286.28" y1="648.90" x2="286.28" y2="654.90" stroke="#ff0000" stroke-width="0.8" stroke-opacity="0.75"/>
<line x1="284.68" y1="648.90" x2="287.88" y2="648.90" stroke="#ff0000" stroke-width="0.8" stroke-opacity="0.75"/>
<line x1="284.68" y1="654.90" x2="287.88" y2="654.90" stroke="#ff0000" stroke-width="0.8" stroke-opacity="0.75"/>
<line x1="290.30" y1="644.08" x2="290.30" y2="650.08" stroke="#ff0000" stroke-width="0.8" stroke-opacity="0.75"/>
<line x1="288.70" y1="644.08" x2="291.90" y2="644.08" stroke="#ff0000" stroke-width="0.8" stroke-opacity="0.75"/>
<line x1="288.70" y1="650.08" x2="291.90" y2="650.08" stroke="#ff0000" stroke-width="0.8" stroke-opacity="0.75"/>
<line x1="294.31" y1="646.97" x2="294.31" y2="652.97" stroke="#ff0000" stroke-width="0.8" stroke-opacity="0.75"/>
<line x1="292.71" y1="646.97" x2="295.91" y2="646.97" stroke="#ff0000" stroke-width="0.8" stroke-opacity="0.75"/>
<line x1="292.71" y1="652.97" x2="295.91" y2="652.97" stroke="#ff0000" stroke-width="0.8" stroke-opacity="0.75"/>
<line x1="298.33" y1="642.16" x2="298.33" y2="648.16" stroke="#ff0000" stroke-width="0.8" stroke-opacity="0.75"/>
<line x1="296.73" y1="642.16" x2="299.93" y2="642.16" stroke="#ff0000" stroke-width="0.8" stroke-opacity="0.75"/>
<line x1="296.73" y1="648.16" x2="299.93" y2="648.16" stroke="#ff0000" stroke-width="0.8" stroke-opacity="0.75"/>
<line x1="302.34" y1="646.49" x2="302.34" y2="652.49" stroke="#ff0000" stroke-width="0.8" stroke-opacity="0.75"/>
<line x1="300.74" y1="646.49" x2="303.94" y2="646.49" stroke="#ff0000" stroke-width="0.8" stroke-opacity="0.75"/>
<line x1="300.74" y1="652.49" x2="303.94" y2="652.49" stroke="#ff0000" stroke-width="0.8" stroke-opacity="0.75"/>
<line x1="306.35" y1="642.48" x2="306.35" y2="648.48" stroke="#ff0000" stroke-width="0.8" stroke-opacity="0.75"/>
<line x1="304.75" y1="642.48" x2="307.95" y2="642.48" stroke="#ff0000" stroke-width="0.8" stroke-opacity="0.75"/>
<line x1="304.75" y1="648.48" x2="307.95" y2="648.48" stroke="#ff0000" stroke-width="0.8" stroke-opacity="0.75"/>
<line x1="310.37" y1="640.87" x2="310.37" y2="646.87" stroke="#ff0000" stroke-width="0.8" stroke-opacity="0.75"/>
<line x1="308.77" y1="640.87" x2="311.97" y2="640.87" stroke="#ff0000" stroke-width="0.8" stroke-opacity="0.75"/>
<line x1="308.77" y1="646.87" x2="311.97" y2="646.87" stroke="#ff0000" stroke-width="0.8" stroke-opacity="0.75"/>
<circle cx="212.89" cy="644.19" r="2.6" fill="#ff0000"/>
<circle cx="217.23" cy="634.24" r="2.6" fill="#ff0000"/>
<circle cx="221.24" cy="622.67" r="2.6" fill="#ff0000"/>
<circle cx="225.58" cy="617.86" r="2.6" fill="#ff0000"/>
<circle cx="229.59" cy="618.98" r="2.6" fill="#ff0000"/>
<circle cx="233.77" cy="623.80" r="2.6" fill="#ff0000"/>
<circle cx="237.62" cy="621.71" r="2.6" fill="#ff0000"/>
<circle cx="241.80" cy="622.67" r="2.6" fill="#ff0000"/>
<circle cx="245.65" cy="632.95" r="2.6" fill="#ff0000"/>
<circle cx="249.83" cy="639.86" r="2.6" fill="#ff0000"/>
<circle cx="253.68" cy="636.16" r="2.6" fill="#ff0000"/>
<circle cx="257.86" cy="631.83" r="2.6" fill="#ff0000"/>
<circle cx="261.87" cy="625.89" r="2.6" fill="#ff0000"/>
<circle cx="265.89" cy="631.83" r="2.6" fill="#ff0000"/>
<circle cx="269.90" cy="640.66" r="2.6" fill="#ff0000"/>
<circle cx="274.24" cy="651.10" r="2.6" fill="#ff0000"/>
<circle cx="278.25" cy="653.19" r="2.6" fill="#ff0000"/>
<circle cx="282.27" cy="653.83" r="2.6" fill="#ff0000"/>
<circle cx="286.28" cy="651.90" r="2.6" fill="#ff0000"/>
<circle cx="290.30" cy="647.08" r="2.6" fill="#ff0000"/>
<circle cx="294.31" cy="649.97" r="2.6" fill="#ff0000"/>
<circle cx="298.33" cy="645.16" r="2.6" fill="#ff0000"/>
<circle cx="302.34" cy="649.49" r="2.6" fill="#ff0000"/>
<circle cx="306.35" cy="645.48" r="2.6" fill="#ff0000"/>
<circle cx="310.37" cy="643.87" r="2.6" fill="#ff0000"/>
<circle cx="267.20" cy="670.30" r="2.9" fill="#ff0000"/>
<text transform="translate(275.50 674.00) scale(1.000 1.060)" font-size="10.5" text-anchor="start" fill="#141414">WT-Old</text>
<circle cx="267.20" cy="681.70" r="2.9" fill="#0000ff"/>
<text transform="translate(275.50 685.30) scale(1.000 1.060)" font-size="10.5" text-anchor="start" fill="#141414">KO-Old</text>
<text transform="translate(230.50 615.50) rotate(-50) scale(1.000 1.060)" font-size="7.8" text-anchor="start" fill="#141414">0.0087</text>
<text transform="translate(239.00 619.50) rotate(-50) scale(1.000 1.060)" font-size="7.8" text-anchor="start" fill="#141414">0.0329</text>
<text transform="translate(265.00 622.00) rotate(-50) scale(1.000 1.060)" font-size="7.8" text-anchor="start" fill="#141414">0.0061</text>
<text transform="translate(249.00 667.00) rotate(-50) scale(1.000 1.060)" font-size="7.8" text-anchor="start" fill="#141414">0.0227</text>
<text transform="translate(336.50 577.70) scale(1.000 1.060)" font-size="11.8" text-anchor="start" fill="#000" font-weight="bold">o</text>
<line x1="376.60" y1="574.78" x2="376.60" y2="693.30" stroke="#141414" stroke-width="1.3"/>
<line x1="371.80" y1="692.70" x2="376.60" y2="692.70" stroke="#141414" stroke-width="1.3"/>
<text transform="translate(371.00 699.00) scale(1.000 1.060)" font-size="12.5" text-anchor="end" fill="#141414">0</text>
<line x1="371.80" y1="663.37" x2="376.60" y2="663.37" stroke="#141414" stroke-width="1.3"/>
<text transform="translate(371.00 669.67) scale(1.000 1.060)" font-size="12.5" text-anchor="end" fill="#141414">1</text>
<line x1="371.80" y1="634.04" x2="376.60" y2="634.04" stroke="#141414" stroke-width="1.3"/>
<text transform="translate(371.00 640.34) scale(1.000 1.060)" font-size="12.5" text-anchor="end" fill="#141414">2</text>
<line x1="371.80" y1="604.71" x2="376.60" y2="604.71" stroke="#141414" stroke-width="1.3"/>
<text transform="translate(371.00 611.01) scale(1.000 1.060)" font-size="12.5" text-anchor="end" fill="#141414">3</text>
<line x1="371.80" y1="575.38" x2="376.60" y2="575.38" stroke="#141414" stroke-width="1.3"/>
<text transform="translate(371.00 581.68) scale(1.000 1.060)" font-size="12.5" text-anchor="end" fill="#141414">4</text>
<rect x="381.50" y="617.91" width="11.20" height="74.79" fill="#ff9e9e"/>
<rect x="398.30" y="634.92" width="11.20" height="57.78" fill="#8e8eff"/>
<rect x="420.40" y="669.24" width="11.20" height="23.46" fill="#ff9e9e"/>
<rect x="436.70" y="669.24" width="11.20" height="23.46" fill="#8e8eff"/>
<rect x="459.10" y="647.83" width="11.20" height="44.87" fill="#ff9e9e"/>
<rect x="475.40" y="663.37" width="11.20" height="29.33" fill="#8e8eff"/>
<line x1="387.10" y1="622.31" x2="387.10" y2="612.04" stroke="#ff0000" stroke-width="0.9"/>
<line x1="385.10" y1="622.31" x2="389.10" y2="622.31" stroke="#ff0000" stroke-width="0.9"/>
<line x1="385.10" y1="612.04" x2="389.10" y2="612.04" stroke="#ff0000" stroke-width="0.9"/>
<line x1="403.90" y1="638.44" x2="403.90" y2="631.69" stroke="#0000ff" stroke-width="0.9"/>
<line x1="401.90" y1="638.44" x2="405.90" y2="638.44" stroke="#0000ff" stroke-width="0.9"/>
<line x1="401.90" y1="631.69" x2="405.90" y2="631.69" stroke="#0000ff" stroke-width="0.9"/>
<line x1="426.00" y1="671.58" x2="426.00" y2="665.72" stroke="#ff0000" stroke-width="0.9"/>
<line x1="424.00" y1="671.58" x2="428.00" y2="671.58" stroke="#ff0000" stroke-width="0.9"/>
<line x1="424.00" y1="665.72" x2="428.00" y2="665.72" stroke="#ff0000" stroke-width="0.9"/>
<line x1="442.30" y1="673.64" x2="442.30" y2="664.25" stroke="#0000ff" stroke-width="0.9"/>
<line x1="440.30" y1="673.64" x2="444.30" y2="673.64" stroke="#0000ff" stroke-width="0.9"/>
<line x1="440.30" y1="664.25" x2="444.30" y2="664.25" stroke="#0000ff" stroke-width="0.9"/>
<line x1="464.70" y1="650.17" x2="464.70" y2="644.60" stroke="#ff0000" stroke-width="0.9"/>
<line x1="462.70" y1="650.17" x2="466.70" y2="650.17" stroke="#ff0000" stroke-width="0.9"/>
<line x1="462.70" y1="644.60" x2="466.70" y2="644.60" stroke="#ff0000" stroke-width="0.9"/>
<line x1="481.00" y1="667.77" x2="481.00" y2="659.85" stroke="#0000ff" stroke-width="0.9"/>
<line x1="479.00" y1="667.77" x2="483.00" y2="667.77" stroke="#0000ff" stroke-width="0.9"/>
<line x1="479.00" y1="659.85" x2="483.00" y2="659.85" stroke="#0000ff" stroke-width="0.9"/>
<circle cx="387.10" cy="606.18" r="2.3" fill="#ff0000"/>
<circle cx="383.90" cy="612.04" r="2.3" fill="#ff0000"/>
<circle cx="390.10" cy="612.04" r="2.3" fill="#ff0000"/>
<circle cx="383.90" cy="628.17" r="2.3" fill="#ff0000"/>
<circle cx="390.10" cy="632.57" r="2.3" fill="#ff0000"/>
<circle cx="400.40" cy="624.95" r="2.3" fill="#0000ff"/>
<circle cx="403.40" cy="624.36" r="2.3" fill="#0000ff"/>
<circle cx="406.70" cy="624.95" r="2.3" fill="#0000ff"/>
<circle cx="400.40" cy="635.51" r="2.3" fill="#0000ff"/>
<circle cx="402.40" cy="638.44" r="2.3" fill="#0000ff"/>
<circle cx="406.90" cy="641.08" r="2.3" fill="#0000ff"/>
<circle cx="404.90" cy="646.65" r="2.3" fill="#0000ff"/>
<circle cx="401.40" cy="639.91" r="2.3" fill="#0000ff"/>
<circle cx="426.00" cy="656.62" r="2.3" fill="#ff0000"/>
<circle cx="426.00" cy="669.24" r="2.3" fill="#ff0000"/>
<circle cx="423.20" cy="672.17" r="2.3" fill="#ff0000"/>
<circle cx="428.80" cy="674.52" r="2.3" fill="#ff0000"/>
<circle cx="442.30" cy="641.67" r="2.3" fill="#0000ff"/>
<circle cx="442.30" cy="658.97" r="2.3" fill="#0000ff"/>
<circle cx="438.80" cy="670.70" r="2.3" fill="#0000ff"/>
<circle cx="445.80" cy="671.58" r="2.3" fill="#0000ff"/>
<circle cx="442.30" cy="681.85" r="2.3" fill="#0000ff"/>
<circle cx="443.30" cy="675.10" r="2.3" fill="#0000ff"/>
<circle cx="462.00" cy="639.91" r="2.3" fill="#ff0000"/>
<circle cx="467.70" cy="638.15" r="2.3" fill="#ff0000"/>
<circle cx="461.70" cy="648.71" r="2.3" fill="#ff0000"/>
<circle cx="467.20" cy="649.29" r="2.3" fill="#ff0000"/>
<circle cx="462.70" cy="655.45" r="2.3" fill="#ff0000"/>
<circle cx="467.70" cy="656.04" r="2.3" fill="#ff0000"/>
<circle cx="481.00" cy="648.41" r="2.3" fill="#0000ff"/>
<circle cx="478.60" cy="657.50" r="2.3" fill="#0000ff"/>
<circle cx="484.00" cy="656.92" r="2.3" fill="#0000ff"/>
<circle cx="483.50" cy="664.84" r="2.3" fill="#0000ff"/>
<circle cx="478.60" cy="675.98" r="2.3" fill="#0000ff"/>
<circle cx="483.00" cy="680.97" r="2.3" fill="#0000ff"/>
<line x1="376.00" y1="692.70" x2="492.40" y2="692.70" stroke="#141414" stroke-width="1.3"/>
<line x1="387.10" y1="692.70" x2="387.10" y2="697.70" stroke="#141414" stroke-width="1.3"/>
<line x1="403.80" y1="692.70" x2="403.80" y2="697.70" stroke="#141414" stroke-width="1.3"/>
<line x1="426.00" y1="692.70" x2="426.00" y2="697.70" stroke="#141414" stroke-width="1.3"/>
<line x1="442.10" y1="692.70" x2="442.10" y2="697.70" stroke="#141414" stroke-width="1.3"/>
<line x1="464.50" y1="692.70" x2="464.50" y2="697.70" stroke="#141414" stroke-width="1.3"/>
<line x1="481.00" y1="692.70" x2="481.00" y2="697.70" stroke="#141414" stroke-width="1.3"/>
<text transform="translate(391.42 701.60) rotate(-90) scale(0.930 1.000)" font-size="12" text-anchor="end" fill="#141414">WT</text>
<text transform="translate(408.12 701.60) rotate(-90) scale(0.930 1.000)" font-size="12" text-anchor="end" fill="#141414">KO</text>
<text transform="translate(430.32 701.60) rotate(-90) scale(0.930 1.000)" font-size="12" text-anchor="end" fill="#141414">WT</text>
<text transform="translate(446.42 701.60) rotate(-90) scale(0.930 1.000)" font-size="12" text-anchor="end" fill="#141414">KO</text>
<text transform="translate(468.82 701.60) rotate(-90) scale(0.930 1.000)" font-size="12" text-anchor="end" fill="#141414">WT</text>
<text transform="translate(485.32 701.60) rotate(-90) scale(0.930 1.000)" font-size="12" text-anchor="end" fill="#141414">KO</text>
<line x1="382.30" y1="722.50" x2="410.20" y2="722.50" stroke="#141414" stroke-width="1.2"/>
<line x1="422.20" y1="722.50" x2="450.70" y2="722.50" stroke="#141414" stroke-width="1.2"/>
<line x1="461.10" y1="722.50" x2="490.00" y2="722.50" stroke="#141414" stroke-width="1.2"/>
<text transform="translate(400.20 736.50) scale(1.000 1.060)" font-size="12" text-anchor="middle" fill="#141414">TC</text>
<text transform="translate(439.30 737.50) scale(1.000 1.060)" font-size="12" text-anchor="middle" fill="#141414">HDL</text>
<text transform="translate(476.10 737.50) scale(1.000 1.060)" font-size="12" text-anchor="middle" fill="#141414">LDL</text>
<text transform="translate(359.00 629.00) rotate(-90) scale(1.000 1.060)" font-size="12" text-anchor="middle" fill="#141414">Concentration (mM)</text>
<line x1="380.50" y1="601.80" x2="410.70" y2="601.80" stroke="#141414" stroke-width="1.1"/>
<text transform="translate(395.00 598.50) scale(1.000 1.060)" font-size="10.3" text-anchor="middle" fill="#141414">0.0116</text>
<line x1="457.70" y1="633.70" x2="486.70" y2="633.70" stroke="#141414" stroke-width="1.1"/>
<text transform="translate(472.20 629.90) scale(1.000 1.060)" font-size="10.3" text-anchor="middle" fill="#141414">0.0101</text>
<text transform="translate(504.00 583.00) scale(1.000 1.060)" font-size="11.8" text-anchor="start" fill="#000" font-weight="bold">p</text>
<line x1="554.50" y1="580.20" x2="554.50" y2="692.10" stroke="#141414" stroke-width="1.3"/>
<line x1="549.70" y1="691.50" x2="554.50" y2="691.50" stroke="#141414" stroke-width="1.3"/>
<text transform="translate(548.20 695.80) scale(1.000 1.060)" font-size="12" text-anchor="end" fill="#141414">30</text>
<line x1="549.70" y1="654.60" x2="554.50" y2="654.60" stroke="#141414" stroke-width="1.3"/>
<text transform="translate(548.20 658.90) scale(1.000 1.060)" font-size="12" text-anchor="end" fill="#141414">60</text>
<line x1="549.70" y1="617.70" x2="554.50" y2="617.70" stroke="#141414" stroke-width="1.3"/>
<text transform="translate(548.20 622.00) scale(1.000 1.060)" font-size="12" text-anchor="end" fill="#141414">90</text>
<line x1="549.70" y1="580.80" x2="554.50" y2="580.80" stroke="#141414" stroke-width="1.3"/>
<text transform="translate(548.20 585.10) scale(1.000 1.060)" font-size="12" text-anchor="end" fill="#141414">120</text>
<line x1="553.90" y1="691.50" x2="670.70" y2="691.50" stroke="#141414" stroke-width="1.3"/>
<line x1="554.50" y1="691.50" x2="554.50" y2="696.30" stroke="#141414" stroke-width="1.3"/>
<line x1="593.20" y1="691.50" x2="593.20" y2="696.30" stroke="#141414" stroke-width="1.3"/>
<line x1="631.90" y1="691.50" x2="631.90" y2="696.30" stroke="#141414" stroke-width="1.3"/>
<line x1="670.60" y1="691.50" x2="670.60" y2="696.30" stroke="#141414" stroke-width="1.3"/>
<text transform="translate(554.50 709.40) scale(1.000 1.060)" font-size="12" text-anchor="middle" fill="#141414">90</text>
<text transform="translate(593.20 709.40) scale(1.000 1.060)" font-size="12" text-anchor="middle" fill="#141414">95</text>
<text transform="translate(631.90 709.40) scale(1.000 1.060)" font-size="12" text-anchor="middle" fill="#141414">100</text>
<text transform="translate(670.60 709.40) scale(1.000 1.060)" font-size="12" text-anchor="middle" fill="#141414">105</text>
<text transform="translate(611.30 725.00) scale(1.000 1.060)" font-size="12" text-anchor="middle" fill="#141414">Time (weeks)</text>
<text transform="translate(529.00 642.50) rotate(-90) scale(1.000 1.060)" font-size="12" text-anchor="middle" fill="#141414" xml:space="preserve">% of  survival</text>
<path d="M554.5,605.4 H655.3 V619.053 H670.7" fill="none" stroke="#0000ff" stroke-width="1.6"/>
<path d="M554.5,605.4 H596.7 V619.053 H600.5 V632.706 H608.6 V646.359 H627.7 V660.012 H670.7" fill="none" stroke="#ff0000" stroke-width="1.6"/>
<line x1="648.50" y1="580.80" x2="660.70" y2="580.80" stroke="#ff0000" stroke-width="1.5"/>
<text transform="translate(666.50 585.00) scale(1.000 1.060)" font-size="11.5" text-anchor="start" fill="#141414">WT</text>
<line x1="648.50" y1="595.10" x2="660.70" y2="595.10" stroke="#0000ff" stroke-width="1.5"/>
<text transform="translate(666.50 599.50) scale(1.000 1.060)" font-size="11.5" text-anchor="start" fill="#141414">KO</text>
<text transform="translate(560.00 602.00) scale(1.000 1.060)" font-size="10.5" text-anchor="start" fill="#141414">P=0.0807</text>
</g></svg>
</body></html>
